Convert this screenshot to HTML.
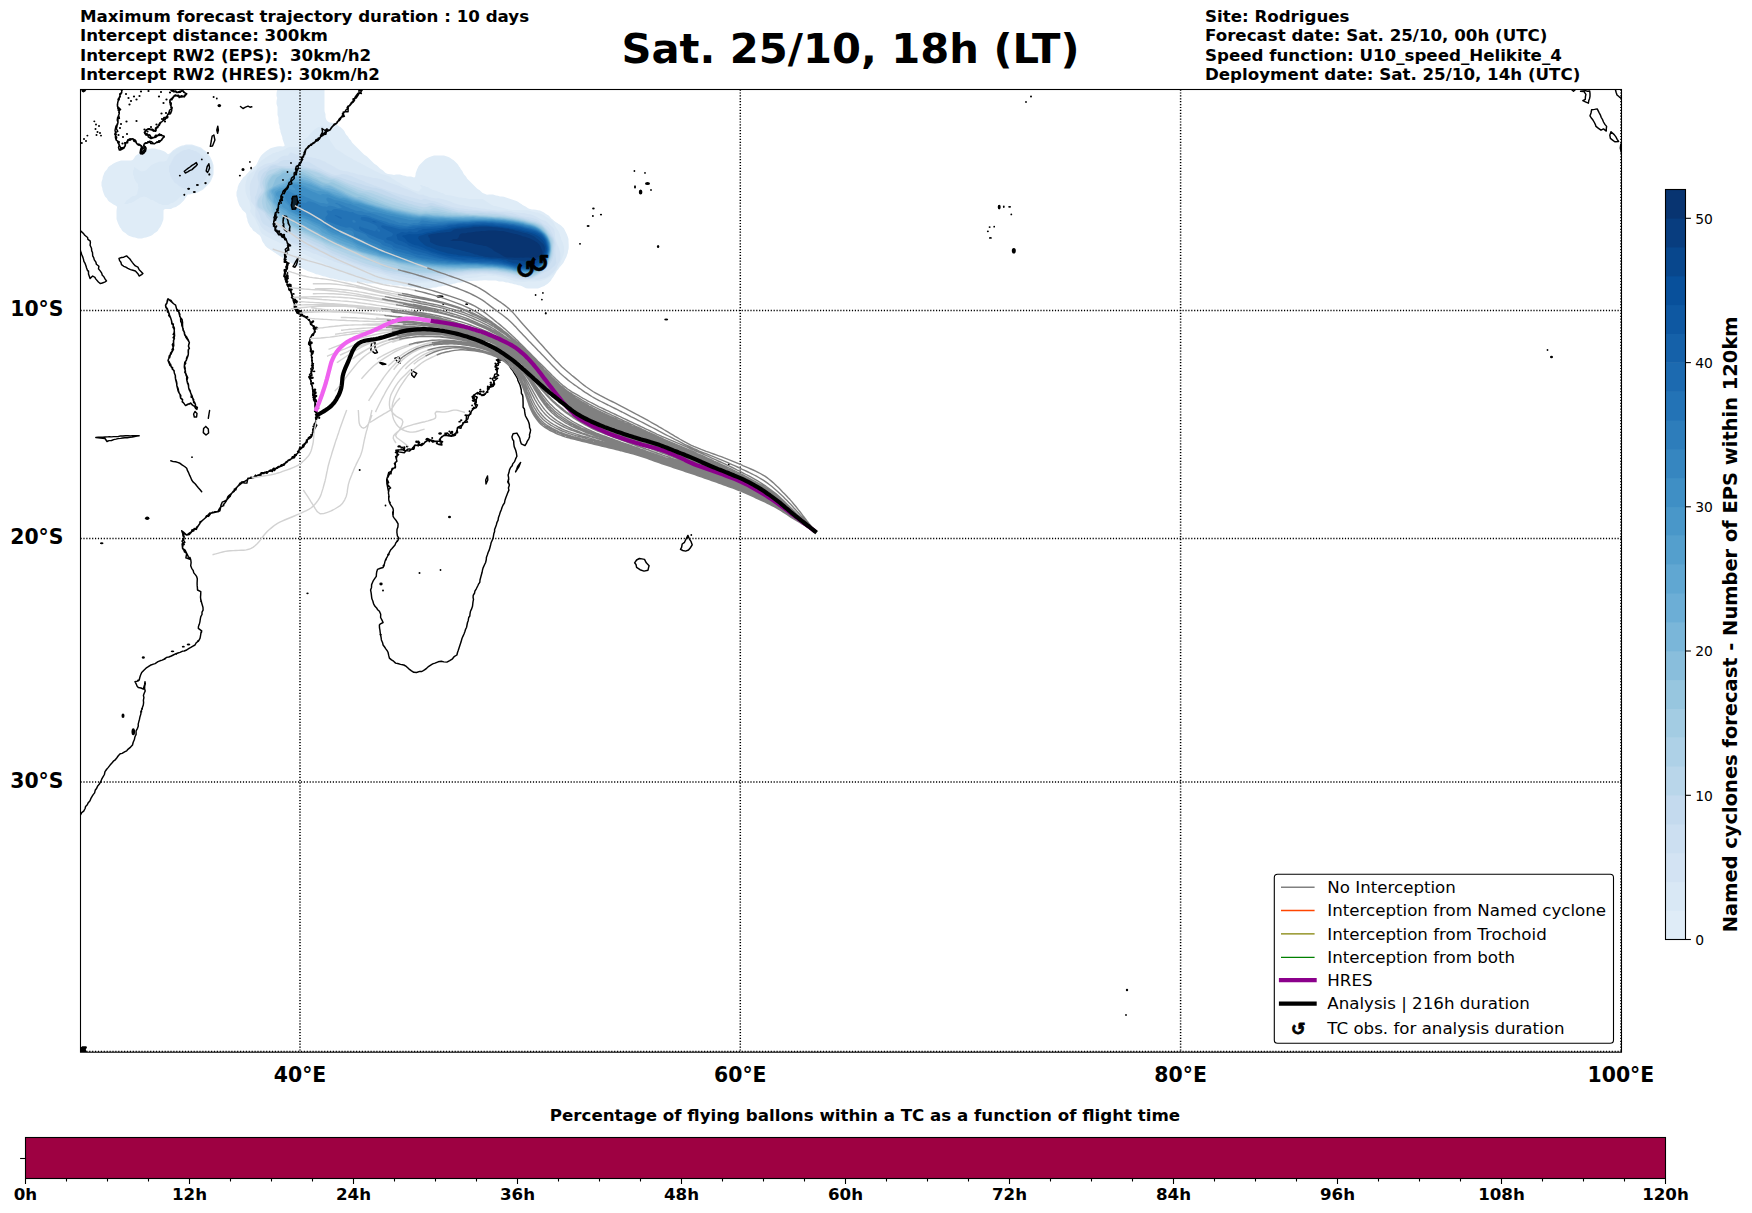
<!DOCTYPE html>
<html lang="en"><head><meta charset="utf-8"><title>Sat. 25/10, 18h (LT)</title>
<style>html,body{margin:0;padding:0;background:#fff}svg{display:block}text{font-family:'DejaVu Sans','Liberation Sans',sans-serif;fill:#000}.b{font-weight:bold}</style></head><body>
<svg width="1752" height="1213" viewBox="0 0 1752 1213">
<rect width="1752" height="1213" fill="#fff"/>
<defs><clipPath id="ax"><rect x="80.5" y="89.5" width="1541.0" height="962.7"/></clipPath></defs>
<g clip-path="url(#ax)">
<g><path d="M299.5,64 301,63.5 302.5,64 304,64.5 306,64.5 307.5,65 309,65.5 310.5,66 312,66.7 313,67.5 314,68.3 315.4,69 316.5,70 317.5,71 318.5,72 319.5,73 320.3,74 321,75.5 321.7,77 322.7,79 323.5,81 324,82.5 324.5,84 324.5,86 324.5,88 324.5,90 324.5,92 324.5,94 324.5,96 324.5,98 324.5,100 324.5,102 324.5,104 324.5,106 324.5,108 324.5,110 324.7,112 325.5,114 325.5,116 325.7,118 326.5,120 327.3,121 328.7,122 330,122.5 332,122.7 334,123.5 335.5,124 337,124.7 338,125.5 339,126.3 340.4,127 341.5,128 342.5,129 343.5,130 344.3,131 345,132.5 345.7,134 346.5,135 347.5,136 348.3,137 349,138.4 350,139.5 351,140.6 351.7,142 352.5,143 353.5,144 354.5,145 355.5,146 356.5,147 357.5,148 358.5,149 359.5,150 360.5,151 361.5,152 362.5,153 363.5,154 364.6,155 366,155.7 367,156.5 368,157.5 369,158.5 370,159.5 371,160.5 372,161.5 373,162.5 374,163.5 375,164.3 376.4,165 377.5,166 378.5,167 379.5,168 380.6,169 382,169.7 383,170.5 384,171.5 385,172.4 386,173.2 388,173.9 390,174.3 392,174.5 394,175 396,174.5 398,174.5 400,174.5 401.5,175 403,175.5 405,175.7 407,176.5 409,176.5 411,176.5 412.5,177 414,177.5 415.1,177 415.5,175 415.7,173 416.5,171 417,169.5 417.7,168 418.7,166 419.5,165 420.5,164 421.5,163 422.5,162 423.5,161 424.5,160 425.6,159 427,158.3 429,157.3 431,156.5 432.5,156 434,155.5 436,155.5 438,155.5 440,155.5 442,155.5 444,155.5 445.5,156 447,156.5 448.5,157 450,157.7 451,158.5 452,159.3 453.4,160 454.5,161 455.5,162 456.5,163 457.5,164 458.3,165 459,166.4 460,167.6 460.7,169 461.5,170 462.3,171 463,172.5 463.7,174 464.5,175 465.5,176 466.3,177 467,178.4 468,179.5 469,180.5 470,181.5 471,182.5 472,183.5 473,184.5 474,185.5 475,186.5 476,187.5 477,188.5 478,189.3 479.4,190 480.5,191 481.5,192 482.7,193 484,193.4 485.2,194 487,194.8 489,194.5 491,194.5 493,194.5 494.5,195 496,195.5 498,195.7 500,196.5 502,196.5 504,196.7 506,197.5 507.5,198 509,198.5 510.5,199 512,199.5 513.5,200 515,200.5 516.5,201 518,201.7 519,202.5 520,203.3 521.4,204 522.6,205 524,205.7 526,206.7 527,207.5 528,208.2 530,208.9 532,209.4 534,209.5 536,209.7 538,210.3 540,210.6 542,211.5 544,212.5 545,213.2 546,213.9 547.7,215 549,215.7 550,216.9 550.9,218 551.9,219 553,219.8 554,220.8 555,221.5 556,222.2 557.4,223 558.6,224 560,224.7 561,225.5 562,226.5 563,227.5 564,228.6 564.7,230 565.7,232 566.7,234 567.5,236 568,237.5 568.5,239 568.5,241 568.6,243 568.7,245 568.7,247 568.6,249 568,251 567.8,253 567,254.9 566.4,257 565.3,259 564.3,261 563.3,263 562.5,264 561.6,265 560.8,266 559.9,267 559.1,268 558.5,269 557.7,270 556.8,271 556,272.6 555.1,274 554,275.7 553.3,277 552.5,278 551.7,279 551,280.4 550,281.5 549,282.5 548,283.5 547,284.3 545.6,285 544.4,286 543,286.5 541.5,287 540,287.7 538,288.5 536,288.5 534,288.5 532,288.5 530,288.5 528,288.5 526,288.3 524,287.3 522,286.3 520,285.5 518,285.3 516,284.5 514,284.3 512,283.5 510,283.3 508,282.5 506,282.5 504.5,282 503,281.5 501,281.5 499,281.5 497.5,281 496,280.5 494,280.5 492,280.5 490,280.5 488,280.5 486,280.3 484,280.3 482,280.5 480,280.5 478,280.7 476,280.7 474,280.8 472,281 470,281 468,281.6 466,281.7 464,281.8 462,282.5 460,282.5 458,282.5 456.5,283 455,283.5 453,283.7 451,284.5 449,284.7 447,285.5 445,285.5 443,285.7 441,286.5 439,286.5 437.5,287 436,287.5 434,287.5 432,287.7 430,288.5 428,288.5 426,288.5 424,288.5 422,288.5 420,288.5 418,288.3 416,287.5 414,287.5 412,287.5 410,287.3 408,286.5 406,286.5 404,286.5 402.5,286 401,285.5 399,285.5 397,285.5 395,285.5 393,285.3 391,284.5 389,284.5 387,284.5 385,284.5 383,284.5 381,284.3 379,283.5 377,283.5 375,283.5 373,283.5 371,283.5 369,283.5 367,283.5 365.5,283 364,282.5 362,282.5 360,282.5 358,282.5 356,282.5 354,282.5 352,282.3 350,281.5 348,281.5 346,281.5 344.5,281 343,280.5 341,280.5 339,280.3 337,279.5 335,279.3 333,278.5 331,278.5 329.5,278 328,277.5 326.5,277 325,276.5 323,276.3 321,275.5 319.5,275 318,274.5 316,274.3 314,273.3 312,272.5 310.5,272 309,271.5 307.5,271 306,270.3 304,269.3 302,268.3 300,267.3 298,266.3 296,265.3 294,264.3 292,263.3 290,262.3 289,261.5 288,260.7 286.6,260 285.4,259 284,258.3 282,257.3 280,256.3 279,255.5 278,254.7 276.6,254 275.4,253 274,252.3 273,251.5 272,250.7 270.6,250 269.4,249 268,248.3 267,247.5 266,246.5 265,245.4 264.3,244 263.5,243 262.7,242 262,240.5 261.5,239 261,237.6 260.1,236 259.2,235 258,234.3 257,233.5 256,232.5 255,231.7 253.6,231 252.7,230 252,228.6 251,227.5 250,226.4 249.3,225 248.3,223 247.5,221 247.3,219 246.5,217 246.4,215 246,213.4 245,212.3 244,211.5 243,210.5 242,209.4 241.3,208 240.5,207 239.7,206 239,204.5 238.5,203 238,201.5 237.5,200 237.3,198 236.5,196 236.5,194 236.5,192 237,190.5 237.5,189 237.7,187 238.5,185 239,183.6 240,182.4 240.7,181 241.5,180 242.3,179 243,177.6 244,176.7 245.1,176 245.9,175 246.7,174 247.8,173 248.6,172 249.5,171 250.5,170 251.5,169 252.5,168 253.6,167 255,166.3 256,165.2 256.7,164 257.7,162 258.6,160 259.6,158 260.9,156 261.7,155 262.7,154 263.9,153 265,152.1 266,151.2 267,150.5 269,149.2 270,148.5 271.3,148 273,147.4 275,147.1 277,146.4 279,146.3 281,146.3 283,146.4 284.6,146 284.3,144 283.5,142 283,140.5 282.5,139 282.3,137 281.5,135 281,133.5 280.5,132 280.3,130 279.5,128 279.5,126 279,124.5 278.5,123 278.5,121 278.5,119 278.3,117 277.5,115 277.5,113 277.5,111 277.5,109 277.5,107 277,105.5 276.5,104 276.5,102 276.7,100 277.3,98 276.5,96 276.5,94 276.7,92 277.3,90 276.5,88 276.7,86 277.5,84 277.5,82 278,80.5 278.7,79 279.7,77 280.7,75 281.5,74 282.3,73 283,71.6 284,70.5 285,69.7 286.4,69 287.6,68 289,67.3 291,66.3 293,65.3 295,64.5 297,64.5 299,64.3 299.5,64ZM184.4,145 186,144.5 188,144.4 190,144.4 192,144.5 193.6,145 195,145.4 196.6,146 198,146.4 199.6,147 201,147.6 202.8,149 203.9,150 205,150.6 206.8,152 207.8,153 208.9,155 209.8,156 210.8,158 211.8,160 212.6,162 213,163.4 213.5,165 213.6,167 213.6,169 213.6,171 213.6,173 213.4,175 212.6,177 212,178.6 211.4,180 210.4,182 209,183.8 208,184.8 207,185.8 206,186.8 205,187.8 204,188.8 203,189.8 201,190.8 199,191.8 197,192.8 195,193.5 193,193.6 191.6,194 190,194.5 188,194.6 187,195.4 186.3,197 185.4,198 184.3,200 183.3,201 182.3,202 181.3,203 180.3,204 179,204.9 177.3,206 176,206.9 174,207.4 172.7,208 171,208.9 169.1,209 167,209 165,209 163.6,210 163.5,212 163.5,214 163.5,216 163.5,218 163.3,220 162.5,222 162,223.5 161.3,225 160.3,227 159.5,228 158.7,229 158,230.4 157,231.5 156,232.3 154.6,233 153.5,234 152.4,235 151,235.7 149,236.5 147.5,237 146,237.5 144,237.7 142,238.5 140,238.5 138,238.5 136.5,238 135,237.5 133,237.3 131,236.5 129.5,236 128,235.3 127,234.5 126,233.5 125,232.7 123.6,232 122.5,231 121.7,230 121,228.6 120,227.4 119.3,226 118.3,224 117.5,222 117,220.5 116.5,219 116.5,217 116.5,215 116.5,213 116.5,211 116.7,209 117.1,207 116.3,206 115,205.3 113,204.3 112,203.5 111,202.7 109.6,202 108.5,201 107.7,200 107,198.6 106,197.5 105,196.4 104.3,195 103.5,193 103,191.5 102.5,190 102.3,188 101.5,186 101.5,184 101.5,182 102,180.5 102.5,179 102.7,177 103.5,175 104,173.5 104.7,172 105.5,171 106.5,170 107.3,169 108,167.6 109,166.5 110,165.7 111.4,165 112.6,164 114,163.3 116,162.3 118,161.5 119.5,161 121,160.5 123,160.5 125,160.5 127,160.5 129,160.5 131,160.6 132.6,160 133.5,159 134.3,158 135,156.6 136,155.5 137,154.7 138.4,154 139.5,153 140.6,152 142,151.3 144,150.5 145.5,150 147,149.5 149,149.3 151,148.5 153,148.5 155,148.5 156.5,149 158,149.5 160,149.7 162,150.5 163.5,151 165,151.7 166,152.5 167,153.5 168,154.2 170,153.2 171,152.2 172,151.2 173,150.2 175,149.1 176,148.2 178,147.2 180,146.2 182,145.5 184,145.2 184.4,145Z" fill="#dfecf7" fill-rule="evenodd"/>
<path d="M321,126 323,126 324,127 325,129 325,131 326,132 327,134 328,136 329,138 330,140 331,142 332,143 333,145 334,146 335,148 336,149 337.5,150 339,150.7 341,151.9 342.6,153 344,154 345,154.8 347,155.9 349,157 350.9,158 352.7,159 354,159.9 356,160.7 357,161.4 359,162.5 360.2,163 362,164 364,165 365.7,166 367,166.7 369,167.8 371,168.8 373,169.8 375,171 377,171.8 379,172.8 381,173.9 383,174.4 385,174.9 387,175.5 388.9,176 390,176.6 391,177.4 392,178.2 393,178.9 394.9,180 396,180.9 397.7,182 399,182.6 401,183.8 402.9,185 404,185.6 406,186.6 408,187.6 410,188.6 412,189.6 414,190.3 416,191 418,191.5 419.2,191 419.8,190 420.6,189 422,188 421,187 420,185 422,185 423,186 425,186 426,187 428,187 429,188 431,189 433,190 435,190.5 437,191 438.5,192 440,192.1 441,192.9 443,193.1 444,193.9 446,194.9 447.3,195 449,195.2 451,195.6 453,196 455,196.4 457,196.9 459,197.4 461,197.6 463,198 465,198 467,198.5 469,199 471,199.1 473,199 475,199 477,199 479,199 481,199 483,199 484,200 486,201 487,202 489,203 490,204 492,205 494,206 496,206 498,206.7 500,207.2 502,207.8 504,208.2 506,208.7 507.2,209 509,209.4 511,209.8 513,210 515,210 517,210 519,210 521,210.2 523,210.3 525,210.3 527,210.3 529,210.6 530.7,211 532,211.4 534,212 536,212.5 538,212.6 540,213.5 541.4,214 543,214.8 545,215.9 546,216.7 548,218 549.5,219 550.9,220 552,220.7 553,221.9 553.8,223 554.7,225 555.6,227 557,229 557.8,230 558.8,232 559.7,234 560,235.4 560.8,237 561,239 562,241 563,243 563.5,245 564,247 564,249 564.2,251 564,252.4 563.8,254 563.1,256 562.4,258 561.6,260 561,261.3 560.3,263 559.7,265 559,266.3 558,267.8 557.3,269 556.5,270 555.7,271 555,272.3 554,273.6 553,274.6 552,275.3 550.9,276 549.7,277 548,277.9 547,278.6 545.8,279 544,279.8 542,280.5 540.2,281 539,281.3 537,281.3 535,281.6 533,281.6 531,281.4 529,281.3 527,281.6 525,281.7 523,281.8 521,281.7 519,281.6 517,281.5 515,281.4 513,280.6 511,280 509,279.1 507,278.6 505.3,278 504,277.7 502,277.2 500,276.7 498,276.4 496.8,276 495,275.8 493,275.9 491,275.7 489,275.6 487,275.5 485,276 483,276 481,276.5 479,276.8 477,277.4 475,277.5 473,277.8 471,278 469,278 467,278 465,278.3 463,278.7 461,278.7 459,278.7 457,279 455,279 453,279.2 451,279.5 449,279.7 447,280.3 445,280.6 443,281 441,281 439,281.5 437,281.6 435,281.7 433.6,282 432,282.3 430,282.3 428,282.4 426,282.6 424,282.8 422,282.8 420,282.9 418.8,283 417,283.1 415,283.1 413,283.1 411,283.1 409,283 407,283 405,282.9 403,282.5 401,282.5 399,282.5 397,282.5 395,282.5 393,282.1 391,281.6 389,281.5 387,281.5 385,281.4 383,280.6 381,280.5 379,280.5 377,280.3 375,279.5 373,279.5 371,279.3 369,278.5 367,278.4 365,277.6 363,277.4 361,276.6 359,276.4 357.5,276 356,275.5 354,275 352,274.5 350.1,274 348,273.2 346,272.5 344.5,272 343,271.5 341,270.7 339.5,270 338,269.5 336,268.6 334.5,268 333,267.3 331.8,267 330,266.3 328,265.3 326,264.6 324.8,264 323,263.1 321,262.1 319,261.3 317,260.3 315,259.5 313,258.6 311,257.6 309,256.5 307.9,256 306,255 304,254 302,253 301,252.2 299,251.2 297,250.1 295,249.5 293,248.2 291,247.9 290,247.1 288,246.5 286,245.7 284.5,245 283,244.2 281,243.4 279,242.5 277,241.5 275,240.6 273.6,240 272,239.2 270,238.2 268,237.2 266,236.2 264,235.1 262.4,234 261.5,233 260.8,232 260,230.3 259.5,229 259,227.1 258,225 257,223.3 256.4,222 256,220.7 255.2,219 254,217.1 253,216 252.2,215 251,213 250.2,212 250.1,210 250.9,209 250.6,207 250.1,205 249.8,203 249.3,201 248.3,199 247.2,197 246.5,195 246,193.1 245.6,192 245.3,190 245.3,188 245.3,186 245.5,184 245.9,182 246.3,180 247,178.1 247.5,177 248.9,175 249.8,174 251,173.1 252,172.3 253,171.5 254,170.7 255.1,170 256,169 256.9,167 257.7,165 259,163.1 260,162.1 261,161.1 262,160.1 264,159 265,158 266.7,157 268,156 270,155 272,154 273,153 275,153 276,152 278,152 280,151 282,150.5 284,149.8 285.3,149 286.7,148 288,147.5 290,147 292,147 294,147 296,147 298,147 299,145 299.8,144 300.5,143 301.2,142 302.4,141 304,140 305,139 306,138 308,137 309,135 310,134 311,133 312,132 313,131 314,130 315,129 317,128 318,127 320,127 321,126ZM184.5,146 186,145.5 188,145.5 190,145.5 192,145.5 193.5,146 195,146.5 196.5,147 198,147.5 199.5,148 201,148.7 202,149.5 203,150.5 204,151.3 205.4,152 206.5,153 207.3,154 208,155.4 209,156.6 209.7,158 210.7,160 211.5,162 212,163.5 212.5,165 212.5,167 212.5,169 212.5,171 212.5,173 212.3,175 211.5,177 211,178.5 210.3,180 209.3,182 208.5,183 207.5,184 206.5,185 205.5,186 204.5,187 203.5,188 202.4,189 201,189.7 199,190.7 197,191.7 195,192.5 193,192.5 191.5,193 190,193.5 188,193.5 186,194 185,194.7 183.8,195 182,196 180,197 179,198 178,199 177,200 176,201 174,202 173,203 171,203 170,204 168,205 166,205 164,205 162,205 161,204 159,204 158,203 156,202 154,201 153,200 151,200 149.7,199 148,198 146,197.1 144,196.6 142,196.9 140,197.5 138,199 136,200 135,201 133,202 131,203 129,203 128,204 126,204 124,204 125,203 126,201 127,200 129,199 130,198 131,197 133,196 135,196 136,195 137.1,194 137.5,192 137.8,190 138.4,188 138,186 138,184 137,183 136,182 135,180 134,178 134,176 133,175 133,173 133,171 134,169 134,167 136,168 137,169 139,170 140,171 142,171.4 143.9,171 146,170.4 147,169.5 148,168.5 149,167.5 150,166.5 151,165.5 152,164.7 153.5,164 155,163.3 157,162.5 158.5,162 160,161.5 162,161.5 164,161.5 166,161 166.9,160 167.9,158 168.9,156 170,154.5 171,153.5 172,152.5 173,151.5 174,150.7 175.4,150 176.6,149 178,148.3 180,147.3 182,146.5 184,146.3 184.5,146Z" fill="#d9e8f5" fill-rule="evenodd"/>
<path d="M188,149 190,149 191,150 193,150 194,151 196,151 197,152 199,153 200,154 201,155 203,156 204,157 205,159 206,160 207,162 208,164 208,166 209,167 209,169 209,171 208,173 208,175 207,176 206,178 205,180 204,181 203,182 202,183 201,184 200,185 199,186 197,187 195,188 193,189 191,189 189,189 187,189 185,189 184,188 182,188 181,187 179,186 178,185 177,184 175,183 174,182 173,180 172,179 171,177 170,175 170,173 169,172 169,170 169,168 169,166 170,165 171,163 172,161 173,159 174,157 175,156 176,155 177,154 179,153 180,152 182,151 184,150 186,150 188,149ZM289.5,153 291,152.5 293,153.2 295,153.9 297,154.8 299,155.6 300,156.3 301.5,157 303,157.4 305,157 307,156.9 308.7,157 310,157.2 312,157.6 314,157.9 315.5,158 317,158.9 319,159 321,160 323,161 325,161.5 327,163 329,164 331,165 332,165.7 334,166.5 336,167.9 338,168.9 340,169.9 342,170.4 344,170.9 346,171.2 348,171.6 349.4,172 351,172.4 353,172.8 355,173.3 356.5,174 358,174.5 360,174.8 361.5,175 363,175.2 365,176 367,176.4 369,176.8 371,177.2 373,178 375,178 377,178.3 379,178.8 380.5,179 382,179.5 384,180.3 385.5,181 387,181.7 389,182.5 390.4,183 392,183.5 394,184.2 396,184.8 398,185.5 399.3,186 401,186.9 403,187.7 405,188.4 407,189 408.9,190 411,190.8 413,191.8 415,192.5 417,193.6 419,194.4 421,194.8 423,194.6 425,195.5 426.9,196 429,197 431,197.4 432.8,198 434,198.1 436,198.4 438,198.3 440,198.5 442,198.9 444,199.4 446,199.9 448,200.8 450,201.3 451.5,202 453,202.8 455,203.5 456.7,204 458,204.2 460,205 462,205.3 464,205.4 465.3,206 467,206.3 469,206.4 471,206.9 473,207.3 475,207.3 477,207.7 479,208 481,208.4 483,208.6 485,208.8 487,209.2 489,209.3 491,209.7 493,210 495,210.1 497,210.4 499,210.5 501,210.5 503,210.7 505,210.6 507,210.6 509,210.9 511,211.3 513,211.7 515,212.2 517,212.4 519,212.5 521,212.9 523,213.1 525,213.3 527,213.9 529,214.2 531,214.5 533,215 534.6,216 536,216.6 538,217.7 540,218.7 542,219.7 544,220.4 545.7,221 547,222 548,223 549,223.9 550,224.9 551,225.9 552,226.6 553,227.8 554,228.9 554.5,231 554.9,233 555,235 555.1,237 555.5,239 556,240.5 556.6,242 557,243.5 557.5,245 558.5,247 559,248.1 559.5,250 560,251.7 560.3,253 560.4,255 560.4,257 560.4,259 560,260.7 559.3,262 558.2,264 557.3,266 556.5,268 555.1,270 554.3,271 553.4,272 552.4,273 551.2,274 550,274.9 549,275.7 547.2,277 546,277.5 544.8,278 543,278.6 541.1,279 539,279.6 537,279.7 535,279.5 533,279.5 531,279.6 529,279.9 527,280 525,280.1 523,280.2 521.2,280 520,279.8 518,279.3 516.3,279 515,278.5 513,278.2 511,277.5 509,277.2 507,276.7 505,276.3 503,276 501,275.4 499,275.3 497.2,275 496,274.8 494,274.7 492,274.3 490.2,274 489,273.9 487,273.8 485,273.9 483,273.7 481,273.7 479,274 477,274.3 475,274.4 473,274.4 471,274.6 469,274.8 467,275 465,275.2 463,275.7 461,275.9 459,276 457,276.4 455,276.6 453,276.8 451,277.2 449,277.5 447.1,278 445,278.3 443,278.9 441,279.2 439,279.8 437,280.1 435,280.3 433,280.7 431,281 429,281.1 427,281.2 425,281.2 423,281.3 421,281.3 419,281.4 417,281.4 415,281.4 413,281.4 411,281.3 409.1,281 407,280.8 405,280.5 403,280.1 401.1,280 399,279.9 397,279.3 395.5,279 394,278.5 392.7,278 391,277.5 389,276.6 387.5,276 386,275.2 384,274.8 382,274.1 380,273.6 378,273.2 376.8,273 375,272.7 373,272.4 371,272 369,271.5 367.7,271 366,270.6 364,270.2 362.6,270 361,269.2 359.3,269 358,268.8 356,268.2 354,267.9 352,267 350,266.8 349,266 347,266 345,265 343,264.7 342,264 340,263.7 339,263 337,262.7 336,262 334,261.7 333,261 331,260 329,259.7 327.5,259 326,258 324,257.8 323,257 321,256.4 319,255.6 317.8,255 316,254.1 314,253.8 312.1,253 310,252 308,251.1 306,250.5 304,249.5 302.7,249 301,248.2 299,247.3 297,246.3 295,245.5 293,244.6 291,243.2 289.1,242 288,241.3 286,240.2 284,239.3 282,238.4 280,237.4 278,236.6 276.4,236 275,235.4 273,234.5 271,233.6 269.5,233 268,232.3 267,231.6 266,231 264.5,230 263.4,229 262.4,228 261.5,227 260.8,226 260,224.3 259.5,223 258.3,221 257.1,219 256,217 255.4,215 255.4,213 255.3,211 255.3,209 255,207.4 254.4,206 253.7,205 252.8,204 252,202.8 251,201.4 250.6,200 250.6,198 250.5,196 250,194 250,192.5 250,191 249.7,189 249.8,187 250,185 250.5,183 251,181.3 251.6,180 252.6,178 253.6,176 254.5,174 255.4,172 256.7,170 257.5,169 258.4,168 260,167 261.8,166 263,165.3 265,164.1 267,163.6 269,163.3 270.5,163 272,162.4 273.2,162 275,161.2 276.9,160 278,159.2 279.4,158 280.9,157 282,156.3 284,155.7 286,155.5 288,155.7 289,154 289.5,153Z" fill="#d3e3f3" fill-rule="evenodd"/>
<path d="M291,160 293,159.8 295,160.5 297,161.4 299,161.7 301,161.5 303,161.5 304.5,162 305.8,162 308,161.7 309.3,162 310.6,163 312,163.7 313,164.4 315,165.6 316,166.3 317.5,167 319,167.7 321,168.7 322,169.3 323.1,170 325,170.9 327,171.9 329,172.7 331,173.7 333,174.6 334.6,175 336,175.2 337.9,175 340,174.5 342,174 344,174.2 346,174.6 347.9,175 349,175.5 350.7,176 352,176.2 353.5,177 355,177.8 357,178.5 358.2,179 360,179.8 362,180.5 364,181.2 365.5,182 367,182.7 369,183.5 370.1,184 372,184.6 374,185.4 375.7,186 377,186.4 378.2,187 380,187.6 382,188.2 383.8,189 385,189.3 386.5,190 388,190.4 389.2,191 391,191.5 393,192.3 395,192.6 397,193.5 399,194 401,194.5 403,195 405,195.7 406.2,196 408,196.3 410,197 412,197.5 414,198 416,198.5 418,199 420,199.7 422,199.9 423,199.1 425,198.7 427,199.5 429,200 431,200.8 433,200.9 435,201.2 437,202 439,202.7 441,203.3 442.5,204 444,204.5 445.2,205 447,205.4 449,205.9 451,206.7 453,207.2 455,207.5 457,208 459,208.3 461,208.5 463,208.5 465,208.9 467,209.1 469,209.4 471,209.6 473,209.9 475,210 476.3,210 478,210.2 480,210.5 482,210.7 484,210.9 486,211.1 488,211.1 489.8,211 491,211 493,211.2 495,211.4 497,211.7 499,211.9 501,212 503,212.1 505,212.2 507,212.5 509,212.8 510.7,213 512,213.1 514,213.7 516,214.3 518,214.9 520,215.6 522,216.2 524,216.6 526,216.9 528,217.1 530,217.6 532,217.7 534,218.6 535.7,219 537,219.4 538.2,220 539.6,221 540.7,222 541.9,223 543,223.7 544,224.5 546,225.5 548,226.7 549,227.8 549.9,229 551,231 552,232.9 552.6,234 553.4,236 554,237.5 554.5,239 554.9,241 555.7,243 555.8,245 555.5,247 555.3,249 555.5,251 555.3,253 555.6,255 555.7,257 556,259 556.2,261 556.3,263 555.1,265 554.3,266 553,267 552,268 551,269 549.6,270 548,270.9 546,271.7 544,272.6 542,273.6 540,274.8 539,275.6 537,276.8 535,277.6 533,278.4 531,278.8 529.8,279 528,279.1 526.6,279 525,278.9 523,278.9 521,278.7 519,278.2 517.6,278 516,277.4 514,277.1 512,276.4 510,276.1 508.8,276 507,275.5 505,275.2 503.3,275 502,274.5 500,274.4 498,274.3 496.4,274 495,273.8 493,273.6 491,273.3 489,273.2 487,273.1 485,273.1 483,272.8 481,272.7 479,273 477,273.3 475,273.3 473,273.3 471,273.4 469,273.5 467,273.9 465.7,274 464,274.3 462,274.6 460,274.8 458,275 456,275.3 454,275.6 452,275.9 450,276.2 448,276.5 446,277 444,277.4 442,277.9 440.8,278 439,278.3 437,278.5 435,278.8 433,279.2 431,279.3 429,279.3 427,279.4 425,279.4 423,279.5 421,279.5 419,279.4 417,279.1 415.1,279 413,278.9 411,278.1 409,278 407,278 405,277.3 403,277 401,276.6 399,276.4 397,275.7 395,275.6 393,275.3 391,274.8 389,274.4 387.6,274 386,273.7 384.2,273 383,272.6 381,272 379,271.5 377.5,271 376,270.5 374,270.2 372,269.5 370.5,269 369,268.5 367,268.1 365,267.3 363,266.5 361,266.1 359,265.3 357,264.6 355,264.1 353,263.3 351,262.5 349.3,262 348,261.6 346.5,261 345,260.3 343,259.6 341.2,259 340,258.6 338.3,258 337,257.6 335.5,257 334,256.4 332,256.1 330,255.3 328,254.3 326,254 324,253.2 322,252.5 320,252 318,251.3 316,250.5 314.1,250 312,249.3 310,248.5 308.5,248 307,247.5 305.5,247 304,246.4 302,245.6 300,245 298,244.3 296,243.5 294.5,243 293,242.4 291,241.4 289.8,241 288.1,240 287,239.1 286,238.3 285,237.6 284,236.5 283,235.5 282,234.1 281,233.2 279,232.3 277,231.5 275,230.4 273,229.2 271,228.1 269,227.3 267,226.1 265,225 264,224.3 263,223.6 262,222 261,220 260.4,218 260.1,216 259.1,214 258.5,212 257,210.1 256.2,208 255.5,206 255.4,204 255.5,202 255.4,200 254.7,198 255,196.7 256,195.1 256.8,193 257.2,191 257.6,189 258.2,187 258.5,185 258.7,183 258.3,181 258,179.8 257.6,178 257.5,176 258,174.3 258.4,173 259,171.5 260,170.8 261.3,170 262.9,169 264,168.1 266,167.2 268,166.3 269,165.6 270.1,165 272,164.2 274,163.7 276,163.4 278,163.2 279,162.5 280,161.5 282,160.5 284,160 286,160 288,160 290,160.1 291,160Z" fill="#ccdff1" fill-rule="evenodd"/>
<path d="M295.7,164 297,163.2 299,163.5 300.2,164 302,164.9 304,165.9 306,166.8 308,167.5 309.5,168 311,168.4 313,168.4 315,168.8 317,169.5 318.5,170 320,170.5 322,171.5 324,172.4 325.7,173 327,173.8 329,174.7 331,175.6 333,176.3 335,176.5 337,176.6 339,176.9 341,177.5 343,178.4 345,179 347,179.8 349,180.3 351,181 353,181.8 355,182.1 357,182.9 359,183.4 361,184 363,184.8 365,185.5 366.9,186 369,186.6 370.5,187 372,187.4 374,187.7 376,187.8 378,188.5 380,188.9 382,189.6 384,190.5 385.5,191 387,191.7 389,192.6 391,193.6 393,194.5 394.4,195 396,195.8 398,196.4 399.5,197 401,197.7 403,198.5 404.6,199 406,199.5 408,200 410,200.8 412,201.1 414,201.8 416,202.2 418,202.8 420,203.1 422,203.5 423.8,204 426,204.1 428,203.4 430,203.1 432,202.9 434,203.6 435.2,204 437,204.8 439,205.3 441,205.8 443,206.3 445,206.8 447,207.3 449,207.8 451,208.6 453,208.8 455,209.4 457,209.9 459,210.4 461,210.5 463,210.8 465,211 467,211.2 469,211.3 471,211.3 473,211.2 475,211.2 477,211.3 479,211.6 481,211.7 483,212 485,212.3 487,212.4 489,212.3 491,212.4 493,212.5 495,212.6 497,212.8 499,213.2 501,213.5 503,213.6 504.8,214 506,214.4 508,214.7 509.7,215 511,215.4 513,215.7 515,215.8 517,216.2 519,216.7 521,217.3 523,217.6 524.4,218 526,218.4 528,218.7 530,219.4 532,219.9 534,220.4 535.9,221 538,221.8 540,223 541.7,224 542.9,225 543.9,226 544.9,227 545.9,228 546.9,229 547.8,230 548.6,231 549.3,232 550,233.1 550.8,234 552,236 552.7,237 553.7,239 554.1,241 554.5,243 554.4,245 554.2,247 554,249 553.8,251 553.6,253 553.5,255 553.1,257 552.5,259 551.6,261 551,262.1 550,263.7 549.2,265 548.5,266 547.4,267 546.5,268 545.8,269 545,270 544,270.8 543,271.5 542,272.3 540.9,273 539.3,274 538,274.9 537,275.5 535,276.6 533,277.6 531.5,278 530,278.2 528,278.3 526,278 524,277.8 522,277.6 520,277 518,276.7 516.1,276 514,275.6 512.1,275 510,274.6 508,274.3 506.3,274 505,273.7 503,273.4 501,273.2 499,273 497,272.9 495,272.6 493,272.4 491,272.3 489,272.2 487,272.1 485,272.1 483,271.9 481,271.9 479.7,272 478,272.2 476,272.3 474,272.2 472,272.2 470,272.3 468,272.4 466,272.6 464,272.8 462,273.2 460,273.3 458,273.5 456,273.6 454,274 452,274.1 450,274.6 448,274.9 446,275 444,275.3 442,276 440,276 438,276 436,276.1 434,276.3 432,276.5 430,276.5 428,276.5 426,276.7 424,276.6 422,276.5 420,276.1 418,276.1 416,276.1 414.4,276 413,275.7 411,275.3 409,275.2 407,275.1 405.5,275 404,274.8 402,274.6 400,274.1 398.6,274 397,273.8 395,273.7 393,273.4 391,273 389,272.6 387,272.3 385.7,272 384,271.4 382,270.6 380.7,270 379,269.4 377.6,269 376,268.8 374,268.3 372.8,268 371,267.4 369.6,267 368,266.8 366,266.2 364,265.5 362.5,265 361,264.6 359.2,264 358,263.5 356.5,263 355,262.6 353.2,262 352,261.5 350.7,261 349,260.4 347.8,260 346,259.1 344,258.3 342,257.6 340.7,257 339,256.1 337,255.3 335,254.6 333.8,254 332,253.2 330,252.2 328,251 327,250.4 325,249.5 323.5,249 322,248.3 320,247.3 318,246.4 316,245.4 314,244.5 312,243.6 310.8,243 309,242 307,241.4 305,240.4 303,239.4 301,238.6 299.9,238 298,237 296,236.1 294,235.5 293,234.7 291.3,234 290,233.6 288.9,233 287,232.1 285,231.2 284,230.5 283,229.7 282,229 281,228.3 279,227.2 277,226.4 275,225.4 273.1,224 272,223.2 271,222.3 270,221 269.2,220 268.3,219 267.2,218 266.5,217 265.5,215 265,213.5 264,212.4 263,211.7 262,210.9 260.5,210 259.2,209 258,208.2 257,207.1 256.5,206 256.4,204 256.8,202 257.2,200 257.8,198 258.6,196 259.5,194 260.4,193 261,191.9 261.7,190 261,188.5 260.4,187 260.1,185 260.2,183 260.5,181 260.6,179 261,177 262,175 263,173.6 264,172.3 265,171.5 267,170.2 267.9,169 268.9,168 269.9,167 271,166.1 273,165.5 275,165.1 277,165.4 279,166 280.8,166 283,166.3 285,166.3 287,166.3 289,166.3 291,166.3 293,166 295,165.3 295.7,164Z" fill="#c4daee" fill-rule="evenodd"/>
<path d="M295.8,167 297,166.4 299,166.5 300.5,167 302,167.6 304,167.9 306,168.3 308,168.6 309.6,169 311,169.5 313,169.9 315,170.5 316.2,171 318,171.7 320,172.4 321,173.1 323,173.8 325,174.8 327,175.7 329,176.7 331,177.5 333,177.8 335,177.9 337,178.4 338.5,179 340,179.7 342,180.6 344,181.6 346,182.4 347.4,183 349,183.7 351,184.4 352.2,185 354,185.5 356,186.4 357.2,187 359,187.5 361,188.3 363,189 365,189.7 366.7,190 368,190 369.2,190 371,190.2 373,190.8 375,191.4 376.5,192 378,192.6 380,193.4 381.9,194 384,194.9 386,195.8 388,196.5 389.5,197 391,197.4 392.5,198 394,198.6 395.4,199 397,199.8 399,200.5 400.6,201 402,201.3 404,202 406,202.6 407.3,203 409,203.8 411,204.1 413,204.8 415,205.4 417,205.8 419,206.5 421,206.7 423,207.3 425,207.2 426.8,207 429,206.2 431,205.5 432.9,206 435,206.4 437,206.6 439,206.9 441,207.4 443,207.8 445,208.6 446.9,209 449,209.7 451,210.3 453,210.9 455,211.2 457,211.7 459,211.9 461,212.1 463,212.4 465,212.8 467,213 469,213.1 471,213.3 473,213.2 475,213.2 477,213.3 479,213.1 481,213.1 483,213.3 485,213.6 487,213.7 489,213.6 491,213.7 493,213.9 495,214 497,214.3 499,214.6 501,214.8 503,214.9 505,215.3 507,215.7 508.7,216 510,216.2 512,216.6 514,216.9 515.8,217 517,217.3 519,217.8 521,218.2 523,218.6 524.2,219 526,219.6 527.4,220 529,220.4 530.8,221 532,221.2 534,221.8 536,222.3 537.4,223 539,223.6 541,224.6 542.8,226 543.8,227 544.8,228 545.7,229 546.6,230 547.4,231 548.1,232 549,233.5 550,234.7 550.8,236 551.5,237 552.2,238 553,239.4 553.3,241 553.4,243 553.1,245 553.1,247 553,248.4 552.8,250 552.6,252 552.6,254 552.1,256 551.5,258 550.7,260 550,261.3 549.1,263 548,264.8 547.2,266 546.2,267 545.4,268 544.6,269 543.6,270 542.3,271 541.1,272 540,272.7 538.1,274 537,274.7 535,275.8 533,276.8 531,277.4 529,277.6 527,277.4 525,277 523,276.8 521,276.4 519.7,276 518,275.6 516,275 514,274.5 512.1,274 510,273.6 508,273.2 506,272.8 504,272.5 502,272.2 500.3,272 499,271.8 497,271.5 495,271.3 493,271.2 491,271.2 489,271.2 487,271.1 485,271 483,271 481,271 479,271.1 477,271.1 475,271.2 473,271.1 471,271.2 469,271.3 467,271.3 465,271.5 463,271.8 461,272 459,272.1 457,272.3 455,272.3 453,272.5 451,272.7 449.2,273 448,273.1 446,273.3 444,273.4 442,273.8 440,273.9 438,274.3 436,274.3 434,274.3 432,274.5 430,274.5 428,274.5 426,274.7 424,274.6 422,274.5 420,274.5 418,274.5 416,274.5 414,274.4 412.3,274 411,273.8 409,273.7 407,273.4 405,273.2 403,272.8 401,272.7 399,272.3 397.7,272 396,271.8 394,271.7 392,271.1 390,270.9 388,270.7 386,270.1 384,269.8 382,269.2 380,268.1 378,267.3 376.3,267 375,266.5 373,266.2 371,265.3 369.6,265 368,264.6 366.3,264 365,263.6 363.3,263 362,262.4 360.7,262 359,261.4 357,260.6 355.4,260 354,259.4 352.7,259 351,258.2 349,257.5 347.8,257 346,256.1 344,255.3 342,254.8 340.7,254 339,253.5 337.6,253 336,252.2 334,251.5 332.6,251 331,250.3 329,249.3 327,248.2 326,247.5 324,246 323,245.4 321,244.5 319.6,244 318,243.2 316,242.4 314.8,242 313,241.3 311,240.2 309,239.4 307.7,239 306,238.2 304,237.2 302,236.4 300,235.7 298.6,235 297,234.4 295,233.5 293.7,233 292,232.3 290,231.4 288,230.6 286.7,230 285,229.4 284,228.7 282.9,228 282.2,227 281,225.1 279.1,224 278,223.1 277,222.4 276,221.6 275,220.9 274,220 273,219.2 271,218 270,217.4 269,216.6 268,215.5 267,214.5 266.1,213 265.3,212 264.3,211 263,210 261.2,209 260,208.2 259,207.4 258,206.3 257.5,205 257.5,203 257.9,201 258.6,199 260,197 260.7,196 261.5,195 262.2,194 263,192.7 263.7,191 263.8,189 263.3,187 263,185.5 262.4,184 262.5,182 263,180.6 263.5,179 264,177.8 265,176.3 265.7,175 266.5,173 267.3,172 268.7,171 270,170.1 272,169.6 274,169.1 276,168.2 278,168.2 280,167.5 282,167.5 284,167.6 286,167.9 288,168.1 289.9,168 292,168.1 294,167.7 295.8,167Z" fill="#b9d6ea" fill-rule="evenodd"/>
<path d="M280.1,169 282,168.6 284,168.7 286,168.9 288,169.1 290,169.2 292,169.4 294,169.3 296,169.1 298,169.3 300,169.3 302,169.2 304,169.3 306,169.5 307.9,170 310,170.6 311.8,171 313,171.6 315,171.9 317,172.6 318.3,173 320,173.8 322,174.8 324,175.7 326,176.7 328,177.6 330,178.5 332,179 334,179.1 336,179.9 338,180.7 340,181.7 342,182.6 344,183.6 345.2,184 347,184.8 349,185.7 351,186.7 353,187.6 355,188.3 356.5,189 358,189.7 360,190.3 362,191 364,191.4 366,191.5 368,192 370,192.8 372,193.3 373.7,194 375,194.5 376.3,195 378,195.5 379.3,196 381,196.8 383,197.5 385,198.4 386.5,199 388,199.5 389.5,200 391,200.6 393,201.4 395,202 397,202.8 398.3,203 400,203.5 401.2,204 403,204.4 404.6,205 406,205.4 407.7,206 409,206.4 411,206.8 413,207.6 415,207.9 417,208.5 418.8,209 420,209.2 422,209.8 424,209.6 426,209.4 428,209.6 430,209.4 432,208.5 434,208.3 436,208.4 438,209 440,209.6 442,210 444,210.5 446,210.9 448,211.4 450,211.7 452,212.4 454,212.5 456,212.6 458,212.9 460,213.1 462,213.3 464,213.5 466,213.9 468,214 470,214.3 472,214.4 474,214.4 476,214.5 478,214.7 480,214.7 482,214.8 483.5,215 485,215.1 487,215.1 489,215.2 491,215.3 493,215.5 495,215.6 497,215.7 499,215.7 501,216 503,216.1 505,216.3 507,216.6 509,216.9 511,217.2 513,217.6 515,217.8 517,218.2 519,218.6 520.9,219 523,219.5 524.6,220 526,220.4 527.9,221 530,221.6 531.8,222 533,222.3 535,222.8 537,223.7 539,224.5 541,225.6 543,227 544,228 544.9,229 545.7,230 546.5,231 547.7,233 548.4,234 549.2,235 550,236.2 551,237.8 551.7,239 552.4,241 552.5,243 552.5,245 552.4,247 552.2,249 552,250.7 551.9,252 551.8,254 551.3,256 550.7,258 550,259.7 549.4,261 548.3,263 547.1,265 546.3,266 545.4,267 544.4,268 543.5,269 542.3,270 541.1,271 540,271.9 539,272.6 538,273.3 537,274 535.1,275 534,275.6 532,276.3 530,276.8 528,276.7 526,276.4 524,276.1 522.8,276 521,275.6 519,275.2 517,274.5 515,274 513,273.5 511,273 509,272.7 507,272.2 505,271.9 503,271.7 501,271.4 499,271 497,270.7 495,270.6 493,270.5 491,270.4 489,270.4 487,270.3 485,270.2 483,270.2 481,270.2 479,270.2 477,270.3 475,270.4 473,270.3 471,270.4 469,270.5 467,270.6 465,270.7 463.3,271 462,271.2 460,271.3 458,271.4 456,271.5 454,271.6 452,271.6 450,271.9 448.5,272 447,272.1 445,272.2 443,272.5 441,272.5 439,272.6 437.5,273 436,273.1 434.7,273 433,273 431,273 429,273 427,273 425,273 423,273 421,273 419,273 417,272.8 415,272.7 413,272.3 411,272.2 409,272 407,271.5 405,271.2 403.6,271 402,270.7 400,270.3 398.2,270 397,269.9 395,269.5 393,269.3 391.7,269 390,268.5 388,268.3 386.7,268 385,267.5 383.5,267 382,266.5 380,265 379,264.3 377,263.5 375.1,263 373,262.1 371,261.9 369,261.1 367,260.7 365,260 363,259.5 361.6,259 360,258.4 358,257.6 356,257.1 354,256.3 352,255.7 350.2,255 349,254.5 347.5,254 346,253.3 344,252.6 342.8,252 341,251.2 339,250.5 337.7,250 336,249.2 334,248.5 332,247.6 330.5,247 329,246.3 327,245.4 325,244.6 323,243.1 321,242.2 319,241.4 317,240.6 315.9,240 314,239.1 312,238.1 310,237.5 308,236.5 306,235.6 304.8,235 303,234.1 301,233.1 299,232.2 297,231.4 295,230.5 293,229.5 291,228.6 290,227.9 288,227.1 286.1,226 285,225.4 283.1,224 282.2,223 281,222.3 280,221.6 279,220.8 278,220.1 276.2,219 275,218.3 274,217.4 273,216.6 272,215.8 271,215.1 269,214.1 267.5,213 266.7,212 265.7,211 264.9,210 264.1,209 263.3,208 262.8,206 262.2,204 262,202.4 261.8,201 262,199.8 262.4,198 263,196 263.5,194 264.4,192 264.9,190 264.8,188 264.7,186 264.9,184 265,182.7 265.1,181 265.7,179 266.9,177 268,175.4 270,174.2 272,173.4 274,172.5 276,171.2 278,170.3 280,169 280.1,169Z" fill="#aed1e7" fill-rule="evenodd"/>
<path d="M281.8,170 283,169.8 285,169.8 287,170 289,170.3 291,170.6 293,170.9 294.8,171 296,171.2 298,171.1 300,170.5 302,170.4 304,170.6 305.8,171 307,171.4 308.3,172 310,173 311.8,174 313,174.6 315,175.9 317,176.7 319,177.2 321,176.9 323,177.6 325,178.7 327,179.6 329,179.9 331,179.9 333,180.3 335,180.9 337,182 339,183 341,184 343,185 345,185.9 347,186.9 349,187.9 351,188.8 353,189.8 355,190.8 357,191.8 359,192.7 361,193.1 363,193.3 365,193.8 367,194.7 369,195.6 371,196.4 372.5,197 374,197.5 375.5,198 377,198.8 379,199.7 381,200.4 382.2,201 384,201.7 386,202.4 387.9,203 390,203.9 392,204.6 393.7,205 395,205.3 397,205.9 399,206.6 401,207 403,207.5 405,208 407,208.3 409,208.7 410.3,209 412,209.7 414,210 416,210.2 418,211 420,211.4 422,211.5 424,211.2 426,211.1 428,211.4 430,211.4 432,211.3 433.9,211 436,211.2 438,211.3 440,211.6 442,211.9 444,212.1 446,212.6 448,213 450,212.9 452,213.4 454,213.5 456,213.6 458,213.8 460,214.2 462,214.4 464,214.4 466,214.6 468,214.6 470,215 471.9,215 473.4,215 475,215.1 477,215.3 479,215.4 481,215.4 483,215.6 485,215.8 487,215.8 488.4,216 490,216.1 492,216.2 494,216.4 496,216.5 498,216.5 500,216.6 502,216.9 504,217.1 506,217.3 508,217.4 510,217.8 511.5,218 513,218.2 515,218.5 516.7,219 518,219.2 520,219.5 521.6,220 523,220.3 525,220.7 527,221.3 529,221.9 531,222.4 533,223 535,223.5 536.2,224 538,224.7 540,225.8 542,226.9 543,227.8 544,228.9 544.9,230 545.6,231 546.4,232 547,233.2 548,234.6 549,236 549.7,237 550.6,239 551,240.3 551.5,242 551.8,244 551.9,246 551.7,248 551.7,250 551.5,252 551.2,254 550.7,256 550.1,258 549.3,260 548.2,262 547,264 546.3,265 545.6,266 544.7,267 543.5,268 542.4,269 541.2,270 540.1,271 539,271.9 537.3,273 536,273.7 534,274.6 532,275.2 530,275.8 528,275.9 526,275.6 524,275.4 522,275.2 520,274.7 518,274.1 516,273.6 514,273.1 512,272.6 510,272.2 508.7,272 507,271.6 505,271.3 503,271.1 501,270.7 499,270.5 497,270.1 495.4,270 494,270 492,269.8 490,269.8 488,269.6 486,269.5 484,269.5 482,269.6 480,269.6 478,269.6 476,269.7 474,269.6 472,269.7 470,269.8 468,269.9 466,270 464,270.2 462,270.4 460,270.6 458,270.6 456,270.7 454,270.8 452,270.8 450,270.8 448,270.9 446,270.9 444.7,271 443,271.2 441,271.2 439,271.2 437,271.4 435,271.2 433,271.3 431,271.4 429,271.4 427,271.4 425,271.4 423,271.4 421,271.4 419,271.1 417,270.8 415,270.7 413,270.6 411,270.3 409,270.2 407,269.8 405,269.2 403,268.5 401.2,268 400,267.2 398,266.2 396,265.6 394,265.2 392,264.8 390,264.3 388,264 386,263.4 384,263.1 382,262.6 380.3,262 379,261.3 378,260.4 376,259.9 374,259.2 372,258.7 370,258.3 368,257.6 366.4,257 365,256.5 363.3,256 362,255.4 360,254.6 358.6,254 357,253.7 355.2,253 354,252.7 352.4,252 351,251.7 349,251.1 347,250.5 345.2,250 344,249.7 342.1,249 340,248.5 338.8,248 337,247.6 335.3,247 334,246.5 332.7,246 331,245.5 329.7,245 328,244.3 326,243.6 324.6,243 323,242.1 321,241 319,240 317,239.2 315,238.3 313,237.4 311,236.5 309.7,236 308,235.2 306,234.2 304,233.3 302,232.3 300,231.3 298,230.4 296,229.3 294,228.5 292.9,228 291,227 289,226 287.1,225 286,224.3 285,223.7 284,222.9 283.2,222 282,221.1 280.3,220 279,219 278,218.3 276,217.1 275,216.3 274,215.6 273,214.8 272,213.8 271,213.1 269.4,212 268.3,210 267.3,209 266.6,207 266.1,205 265.7,203 265.6,201 265.6,199 265.3,197 265,195.6 264.7,194 265,192.7 265.5,191 266,189.3 266,188 266.2,186 266.6,184 267.3,182 268,180.3 268.7,179 270,177.1 271,176 271.8,175 273,174.2 275,173.4 277,172.4 279,171.6 280,170.9 281.8,170Z" fill="#a3cce3" fill-rule="evenodd"/>
<path d="M282.9,171 285,170.7 287,170.8 289,171.4 291,172 293,172.3 295,172.5 297,172.3 299,172.2 301,171.8 302.3,172 304,172.5 306,173.5 308,174.4 309.1,175 311,176 312.8,177 314,177.6 316,178.3 317.3,179 319,180 321,181 323,182 325,182.6 327,182.9 329,182.9 331,182.3 333,182.5 335,183.5 337,184.5 338.4,185 340,185.8 342,186.8 344,187.8 346,188.8 348,189.7 349.3,190 351,190.9 353,191.9 355,192.8 357,193.8 359,194.4 361,194.7 363,195.4 364.3,196 366,196.6 368,197.5 370,198.4 371.5,199 373,199.7 375,200.4 376.4,201 378,201.6 380,202.5 381.2,203 383,203.5 385,204.4 386.8,205 388,205.4 389.7,206 391,206.4 392.7,207 394,207.5 396,207.8 398,208.6 400,208.9 402,209.5 403.7,210 405,210.2 407,210.5 409,210.9 411,211.4 413,211.7 414.3,212 416,212.3 418,212.5 420,212.8 422,212.8 424,212.8 426,212.6 428,212.8 430,212.9 431.3,213 433,213.1 435,213 437,212.9 439,213.3 441,213.6 443,213.8 444.3,214 446,214.3 448,214.6 450,214.6 452,214.8 454,214.8 456,214.8 458,214.9 460,215.1 462,215.2 464,215.2 466,215.2 468,215.3 470,215.5 472,215.4 474,215.4 476,215.6 478,215.8 480,215.9 481.3,216 483,216.2 485,216.3 487,216.4 489,216.5 491,216.7 493,216.9 495,217.1 497,217.1 499,217.1 501,217.3 503,217.6 505,217.7 507,218 509,218.2 511,218.5 513,218.8 515,219.2 517,219.6 519,219.8 521,220.4 523,220.8 525,221.3 527,221.9 529,222.5 531,222.9 533,223.5 534.6,224 536,224.6 538,225.5 540,226.7 542,227.9 543,228.9 544,230 544.8,231 545.6,232 546.3,233 547,234 548,235.5 548.9,237 549.8,239 550.5,241 551,242.9 551.4,245 551.4,247 551.3,249 551.2,251 551,252.4 550.7,254 550.2,256 549.6,258 549,259.4 548.2,261 547,263 546,264.5 545,265.8 544,266.9 543,267.7 542,268.6 541,269.4 540,270.3 539,271.1 538,271.8 536,272.7 534,273.5 532.2,274 531,274.2 529,274.8 527,274.8 525,274.7 523,274.5 521,274.2 519,273.7 517,273 515,272.6 513,272.1 511,271.7 509,271.4 507,271 505,270.7 503,270.4 501,270.1 499,269.9 497,269.5 495,269.4 493,269.3 491,269.2 489,269.1 487,268.9 485,268.9 483,268.9 481.1,269 479.1,269 477,269 475,269 473,269 471,269.1 469,269.2 467,269.4 465,269.4 463,269.6 461,269.7 459,269.8 457,269.8 455,269.9 453,269.9 451,269.9 449,269.8 447,269.9 445,269.8 443,269.9 441,269.9 439,269.8 437,269.8 435,269.7 433,269.3 431,269.1 429,269.1 427,269 425,268.8 423,268.4 421,268.3 419,268.1 417,267.7 415,267.4 413,267.2 411,266.7 409,266.4 407,266.2 405,265.5 403,265.3 401,265 399,264.4 397.7,264 396,263.5 394.4,263 393,262.7 391,262.5 389,262.2 387,261.5 385,261.3 383.7,261 382,260.5 380,260.1 378,259 376,258.5 374.6,258 373,257.5 371.2,257 369,256.5 367.7,256 366,255.3 364,254.8 362.3,254 361,253.6 359.7,253 358,252.5 356.5,252 355,251.6 353.4,251 352,250.5 350.3,250 349,249.7 347,249 345,248.5 343.6,248 342,247.5 340.4,247 339,246.5 337.1,246 335,245.2 333,244.6 331.4,244 330,243.5 328.5,243 327,242.5 325.7,242 324,241.3 322,240.2 321,239.5 320,238.8 318,238.2 316,237.4 314.9,237 313,236.1 311,235.2 309,234.3 307,233.3 305,232.6 303.7,232 302,231.1 300,230.1 298,229.2 296,228.2 294,227.2 292,226.2 290,225.1 288.1,224 287,223.3 285,222 284,221.2 283,220 282,219.1 281,218.5 280,217.6 279,217 278,216.3 276,215.2 274.4,214 273.5,213 272.4,212 271.6,211 271.3,209 271,207.6 270.3,206 269.5,205 268.5,203 267.4,201 267,199.9 266.5,198 266.2,196 265.7,194 266,192 267,190 267.8,188 267.7,186 267.8,184 268.6,182 269,180.8 270,179.2 270.8,178 271.6,177 272.5,176 273.8,175 275,174.8 277,174.6 278.6,174 280,173.2 281,172.2 282,171.5 282.9,171Z" fill="#97c6df" fill-rule="evenodd"/>
<path d="M283.4,173 285,172.6 287,173 289,173.8 291,174.4 292.3,174 294,173.7 296,173.5 298,173.5 300,173.9 302,174.2 304,174.8 306,175.7 308,176.3 309.4,177 311,177.7 313,178.7 315,179.4 316.5,180 318,180.8 320,181.7 322,182.7 324,183.5 326,184 328,184.6 330,185 332,185.7 334,186.7 336,187.8 338,188.7 340,189.6 342,190.6 344,191.6 345,192.3 346.4,193 348,193.6 350,194.6 352,195.5 354,196.4 355.6,197 357,197.4 359,197 360.4,197 362,197.7 364,198.3 366,199 368,199.9 370,200.5 372,201.3 374,202 376,202.7 377.4,203 379,203.7 381,204.3 383,205 385,205.7 386.3,206 388,206.7 389.4,207 391,207.5 392.4,208 394,208.5 395.9,209 398,209.6 400,210 402,210.5 403.7,211 405,211.2 407,211.5 409,212 411,212.4 413,212.8 415,213.2 417,213.5 419,213.9 421,214.1 423,213.9 425,213.8 427,213.8 429,214 431,214.2 433,214.4 435,214.6 437,214.4 439,214.8 441,215 443,215.1 445,215.4 447,215.5 449,215.6 451,215.6 453,215.8 455,215.8 457,215.8 459,215.8 461,215.9 463,216 465,215.8 467,215.8 469,215.9 471,215.9 473,215.8 475,215.9 477,216.2 479,216.3 481,216.5 483,216.6 485,216.8 487,216.8 489,217 491,217.1 493,217.3 495,217.6 497,217.6 499,217.6 501,217.8 503,218.1 505,218.3 507,218.6 509,218.8 510.2,219 512,219.2 514,219.6 516,219.9 518,220.2 520,220.7 521.3,221 523,221.3 525,221.8 527,222.4 529,223 531,223.5 532.7,224 534,224.5 535.2,225 537,225.8 539,227 540.6,228 541.9,229 542.9,230 543.9,231 544.9,232 545.8,233 546.5,234 547.2,235 548,236.2 548.9,238 549.7,240 550.4,242 550.8,244 551,245.5 551.1,247 550.9,249 550.9,251 550.5,253 550.1,255 549.5,257 549,258.4 548.3,260 547.1,262 546,263.7 545,265 544.2,266 543,267 542,267.9 541,268.8 540,269.6 539,270.4 537,271.6 535.7,272 534,272.6 532.8,273 531,273.4 529,273.8 527,273.9 525,273.9 523,273.7 521,273.4 519.2,273 518,272.6 516,272 514,271.7 512,271.1 510,270.8 508,270.5 506,270.2 504.8,270 503,269.7 501,269.4 499,269.2 497.5,269 496,268.8 494,268.7 492,268.6 490,268.5 488,268.4 486,268.3 484,268.3 482,268.4 480,268.5 478,268.5 476,268.6 474,268.5 472,268.5 470,268.6 468,268.7 466,268.8 464,268.9 462,268.9 460,268.9 458,268.9 456,269 454,269.2 452,269.1 450,269 448,269.1 446.6,269 445,268.8 443,268.7 441,268.7 439,268.6 437,268.4 435,268.2 433,268 431,267.8 429,267.6 427,267.5 425,267.3 423,267.2 421.5,267 420,266.7 418,266.3 416,266.2 414,266.1 412,265.4 410,265.2 408,265.1 406,264.5 404,264.2 402,264 400,263.6 398,263.2 396,262.5 394.3,262 393,261.7 391,261.3 389.2,261 388,260.7 386,260.1 384,259.7 382,259.2 380,258.7 378.6,258 377,257.4 375.8,257 374,256.5 372.3,256 371,255.7 369,255.2 367,254.5 365.3,254 364,253.8 362,253.1 360,252.5 358.9,252 357,251.5 355.6,251 354,250.5 352.5,250 351,249.5 349.3,249 348,248.6 346.2,248 345,247.6 343.5,247 342,246.5 340.6,246 339,245.5 337.7,245 336,244.3 334,243.7 332.2,243 331,242.4 329.8,242 328,241.3 326,240.5 324.9,240 323,239.5 322,238.8 321,238 320,237.3 318,236.3 316,235.5 314.8,235 313,234.2 311,233.3 309,232.3 307,231.5 305.6,231 304,230.3 302,229.5 300,228.6 298.6,228 297,227.2 295,226.3 293,225.4 291,224.3 289,223.1 288,222.3 287,221.6 285,220.3 284,219.3 283,218.4 281,217 280,216.2 279,215 278,214.3 276,213.1 275,212.2 274,211 273.3,210 272.9,208 272.3,206 271.6,204 271,202.6 270,201.4 269,200.3 268.1,199 267.1,197 267,195 267,193 267.6,191 269,189 270,188.2 272,187.1 272.7,186 273.5,184 274.4,182 275,180.5 275.7,179 276.4,178 277.3,177 279,176.3 280.7,175 281.5,174 283,173.1 283.4,173Z" fill="#89bedc" fill-rule="evenodd"/>
<path d="M293.6,175 295,174.7 297,175 299,175.8 301,176.5 303,177.2 305,177.2 307,178 309,178.8 311,179.8 312.8,181 314,181.6 316,182.5 318,183.4 319.2,184 321,184.9 323,185.7 325,185.6 327,185.8 329,185.8 331,186.4 332.2,187 334,188 336,189 338,189.9 340,191 342,191.9 344,193 345,193.7 347,194.7 349,195.7 351,196.5 352.3,197 354,197.6 356,198.5 358,198.8 360,199.4 361.7,200 363,200.5 364.3,201 366,201.6 368,202.3 369.8,203 371,203.4 373,204 375,204.8 377,205.4 379,205.9 381,206.5 382.5,207 384,207.3 386,207.9 388,208.3 390,208.6 391.6,209 393,209.5 395,209.9 397,210.4 399,210.7 400.3,211 402,211.4 404,211.8 405.4,212 407,212.4 409,212.9 411,213.2 413,213.7 414.3,214 416,214.2 418,214.7 419.7,215 421,215.1 423,214.7 425,214.6 427,214.6 429,214.8 430.6,215 432,215.2 434,215.4 436,215.4 438,215.6 440,215.9 441.8,216 443,216.1 445,216.2 447,216.2 449,216.3 451,216.4 453,216.5 455,216.5 457,216.5 459,216.5 461,216.5 463,216.6 465,216.4 467,216.4 469,216.5 471,216.4 473,216.3 475,216.5 477,216.8 479,216.9 481,217 483,217.1 485,217.3 487,217.3 489,217.5 491,217.6 493,217.8 494.8,218 496,218.1 498,218.1 500,218.3 502,218.5 504,218.7 506,219 508,219.3 510,219.6 512,219.8 514,220.2 516,220.4 518,220.8 520,221.2 522,221.7 523.7,222 525,222.4 527,223 529,223.5 530.7,224 532,224.3 533.7,225 535,225.5 537,226.4 539,227.7 540.9,229 542,230 543,230.8 544,231.8 545,232.7 546,233.9 546.8,235 547.5,236 548.5,238 549,239.3 549.7,241 550,242.2 550.5,244 550.8,246 550.7,248 550.7,250 550.5,252 550,253.9 549.5,256 549,257.4 548.4,259 547.3,261 546,263 545.3,264 544.5,265 543.6,266 542.5,267 541.4,268 540.1,269 539,269.8 538,270.5 536,271.4 534,272 532,272.7 530,272.9 528,273.2 526,273.4 524,273.3 522.5,273 521,272.9 519,272.5 517,271.8 515,271.3 513.6,271 512,270.6 510,270.2 508,269.9 506,269.6 504,269.1 502,268.8 500,268.7 498,268.5 496,268.2 494,268.1 492,268 490,267.9 488,267.8 486,267.7 484,267.7 482,267.9 480.5,268 479,267.9 477.2,268 475,268.1 473,268.1 471,268.1 469,268.1 467,268.2 465,268.2 463,268.2 461,268.2 459,268.1 457,268 455,268.2 453,268.1 451,268.1 449,268.1 447.5,268 446,267.8 444,267.7 442,267.7 440,267.6 438,267.3 436,267.1 434.4,267 433,266.9 431,266.7 429,266.5 427,266.4 425,266.2 423,265.8 421,265.6 419,265.2 417.1,265 415,264.9 413,264.7 411,264.2 409.4,264 408,263.8 406,263.5 404,263.2 402.2,263 401,262.9 399,262.4 397.2,262 396,261.7 394.3,261 393,260.7 391,260.3 389.6,260 388,259.6 386,259.1 384,258.7 382,258.1 380,257.6 378.3,257 377,256.5 375.1,256 373,255.5 371.2,255 370,254.7 368,254.2 366,253.6 364,253.1 362,252.5 360.3,252 359,251.5 357.5,251 356,250.4 354.3,250 353,249.5 351.4,249 350,248.5 348.3,248 347,247.5 345.6,247 344,246.3 342,245.7 340.4,245 339,244.6 337.7,244 336,243.3 334,242.5 332.8,242 331,241.2 329,240.3 327,239.5 325.8,239 324,238.2 322,237.2 320.3,236 319,235.2 317,234.2 315,233.3 313,232.4 311,231.2 309,230.2 307,229.1 305,228.2 303,227.2 301,226.3 299,225.4 297,224.5 295,223.6 293.9,223 292,222.1 290,221.3 288,220.5 286,219.4 284.2,218 283,217 282,216.1 281,215.3 280,214.4 279,213.4 278,212.4 277,211.3 276,210.1 275.3,209 275,207 274,205.4 273,204 272,202.1 271.3,201 270.6,200 269.8,199 269.1,198 268.3,196 268.5,194 268.8,192 269.6,190 271,189 272,188.3 273,187.3 274,186.5 275.5,186 277,185.1 279,184.3 281,183.3 283,182.4 284.8,181 286,180.1 288,179.5 289,178.6 290,177.6 291,176.6 292,175.9 293,175.2 293.6,175Z" fill="#7ab6d9" fill-rule="evenodd"/>
<path d="M292.2,177 294,176.5 296,176.5 298,177 300,177.9 302,178.7 304,179.4 305.5,180 307,180.2 309,180.9 311,181.7 313,182.8 315,183.8 317,184.7 319,185.7 321,186.8 323,187.5 325,187.6 326.4,188 328,188.1 330,188.5 331.5,189 333,189.3 334.9,190 336,190.5 338,191.6 340,192.4 341.1,193 343,194 345,194.9 347,195.8 349,196.9 351,197.6 352.3,198 354,198.7 356,199.4 358,199.9 360,200.6 362,201.3 363.5,202 365,202.6 367,203.2 368.9,204 371,204.5 372.6,205 374,205.5 375.4,206 377,206.4 379,207 381,207.5 382.9,208 385,208.5 386.7,209 388,209.3 390,209.6 391.6,210 393,210.4 395,210.8 397,211.3 399,211.6 400.7,212 402,212.3 404,212.7 405.6,213 407,213.4 409,213.9 410.5,214 412,214.4 414,214.8 415.4,215 417,215.2 419,215.7 421,215.8 423,215.4 425,215.4 427,215.5 429,215.6 431,215.8 432.5,216 434,216.1 436,216.2 438,216.3 440,216.5 442,216.6 444,216.8 446,216.9 448,216.9 450,216.9 452,217.2 454,217.1 456,217.1 458,217.2 460,217.1 462,217.2 464,217.2 466,216.9 467.3,217 469,217.1 470.7,217 472,216.9 474,217 476,217.4 478,217.5 480,217.5 482,217.6 484,217.7 486,217.8 488,217.9 489.5,218 491,218.1 493,218.2 495,218.5 497,218.6 499,218.7 501,219 503,219.1 505,219.3 507,219.7 508.9,220 511,220.2 513,220.5 515,220.8 517,221.2 519,221.5 521,222 523,222.3 525,223 527,223.5 528.5,224 530,224.3 532,224.9 534,225.6 536,226.5 538,227.6 539,228.2 540.2,229 541.4,230 542.6,231 543.6,232 544.7,233 545.6,234 546.4,235 547.1,236 548,237.7 548.6,239 549.4,241 550,243 550.3,245 550.5,247 550.5,249 550.3,251 550,252.5 549.7,254 549.2,256 548.5,258 547.5,260 546.3,262 545,263.9 544.1,265 543.1,266 542,267 541,267.9 540,268.7 539,269.3 538,270 536,270.9 534,271.6 532.7,272 531,272.4 529,272.7 527,272.9 525,272.9 523,272.7 521,272.5 519,272 517,271.4 515.7,271 514,270.7 512,270.1 510,269.7 508,269.4 506,269 504,268.6 502,268.4 500,268.2 498.4,268 497,267.8 495,267.6 493,267.6 491,267.5 489,267.4 487,267.3 485,267.2 483,267.3 481,267.4 479,267.4 477,267.4 475,267.4 473,267.4 471,267.4 469,267.5 467,267.5 465,267.5 463,267.4 461,267.4 459,267.3 457,267.2 455,267.3 453,267.2 451,267.1 449.8,267 448,266.9 446,266.9 444,266.7 442,266.7 440,266.6 438,266.4 436,266.1 434,266.1 432,265.9 430,265.7 428,265.6 426,265.6 424,265.2 422.8,265 421,264.8 419,264.6 417,264.3 415,264.1 413,263.8 411,263.4 409,263.1 407,262.9 405,262.5 403,262.2 401.6,262 400,261.7 398,261.3 396.6,261 395,260.4 393.8,260 392,259.6 390,259.2 388,258.8 386,258.3 384.4,258 383,257.6 381,257.1 379,256.6 377.4,256 376,255.6 374,255.1 372,254.6 370,254.1 368,253.5 366,253 364,252.5 362,252 360,251.3 358,250.5 356.8,250 355,249.3 353.8,249 352,248.2 350,247.7 348.1,247 347,246.5 345.5,246 344,245.3 342,244.6 340.1,244 338,243.1 336,242.2 334,241.2 332,240.3 330,239.3 328,238.6 326.8,238 325,237.1 323,236.3 321,235.2 320,234.2 319,233.5 317,232.6 315.9,232 314,231 312,230.1 310,229.1 308,228 306,227.2 304,226.1 302,225.1 300,224.2 298,223.2 296,222.4 294,221.3 292,220.4 290,219.4 288,218.5 286,217.5 285,216.8 284,215.7 283,214.9 282,214.2 281,213.3 280,212.2 279.2,211 278,209 277.2,208 276.1,206 275.2,205 274.4,204 273.5,203 272.6,201 272.6,199 272.4,197 272,195.6 271.3,194 270.4,192 271,190.1 272,189.3 273,188.4 274,187.7 276,187.1 278,186.4 280,185.6 281.5,185 283,184.2 285,183.4 286.7,182 287.9,181 289,180.3 290,179.3 291,178 292,177.1 292.2,177Z" fill="#6caed6" fill-rule="evenodd"/>
<path d="M292,180 293,179.1 295,179.2 297,179.6 299,179.9 301,180.3 303,180.8 305,181.4 306.8,182 308,182.4 310,183 312,183.7 314,184.7 316,185.6 318,186.5 320,187.6 322,188.5 323.8,189 325,189.3 327,189.9 329,190.4 330.3,191 332,191.7 334,192.1 336,192.8 338,193.3 340,194 342,195 344,195.9 346,196.6 348,197.4 349.5,198 351,198.7 353,199.5 354.3,200 356,200.3 358,200.8 360,201.6 361.3,202 363,202.7 365,203.4 366.8,204 368,204.4 369.8,205 371,205.2 373,205.8 375,206.5 376.8,207 379,207.6 380.3,208 382,208.4 384,209 386,209.5 387.8,210 390,210.4 392,210.9 394,211.4 396,211.9 398,212.3 400,212.8 402,213.2 404,213.7 406,214 408,214.6 410,214.8 412,215.2 414,215.6 416,215.7 417.4,216 419,216.3 421,216.3 423,216.1 425,216.1 427,216.3 429,216.4 431,216.5 433,216.8 435,216.9 437,217 439,217.1 441,217.1 443,217.3 445,217.4 447,217.5 449,217.5 451,217.7 453,217.8 455,217.7 457,217.7 459,217.8 461,217.8 463,217.9 465,217.7 467,217.7 469,217.8 471,217.7 473,217.6 475,218 477,218.2 479,218.2 481,218.2 483,218.2 485,218.3 487,218.4 489,218.5 491,218.6 493,218.7 495,218.9 497,219.1 499,219.2 501,219.4 503,219.5 505,219.7 506.3,220 508,220.3 510,220.5 512,220.7 514,221.1 516,221.4 518,221.8 520,222.3 522,222.6 523.6,223 525,223.5 526.7,224 528,224.3 530,224.7 532,225.3 533.8,226 535,226.4 536.2,227 538,228 539,228.6 540,229.3 541,230.1 542,231 543,231.9 544,232.8 545,233.7 546,235 546.7,236 547.9,238 548.7,240 549.4,242 549.9,244 550.2,246 550.3,248 550.2,250 550,251.3 549.7,253 549.2,255 548.5,257 548,258.3 547.2,260 546,261.9 545.4,263 544.5,264 543.7,265 542.7,266 541.6,267 540.3,268 539,268.9 538,269.6 536,270.6 534,271.3 532,271.9 530,272.1 528,272.4 526,272.5 524,272.4 522,272.3 520.1,272 518,271.3 516,270.7 514,270.3 512.8,270 511,269.5 509,269.1 507,268.8 505,268.4 503,268 501,267.8 499,267.7 497,267.3 495,267.2 493,267.1 491,267.1 489,267 487,266.9 485,266.8 483,266.8 481,266.8 479,266.7 477,266.6 475,266.6 473,266.7 471,266.6 469,266.7 467,266.7 465,266.6 463,266.4 461,266.6 459,266.5 457,266.4 455,266.4 453,266.4 451,266.2 449,266.2 447,266.2 445,266 443,265.9 441,265.8 439,265.7 437,265.5 435,265.4 433,265.2 431,265.1 429,265 427,264.9 425,264.7 423,264.4 421,264.2 419.2,264 418,263.8 416,263.6 414,263.4 412.4,263 411,262.7 409,262.4 407,262.2 405,261.8 403,261.4 401,261.1 399,260.6 397,260.3 395,259.6 393.2,259 392,258.7 390,258.4 388.4,258 387,257.7 385,257.3 383.7,257 382,256.6 380,256.1 378,255.4 376.7,255 375,254.5 373,254.2 371,253.6 369,253.2 367,252.5 365,252.1 363,251.4 361.3,251 360,250.4 358.8,250 357,249 355,248.1 353,247.3 351,246.8 349.2,246 348,245.7 346.1,245 344,244.2 342,243.5 340.1,243 339,242.4 337,241.5 335.9,241 334.2,240 333,239.3 331,238.2 329,237.5 327,236.6 325.6,236 324,235.4 322,234.5 320.2,233 319,232.2 317,231.3 315,230.2 313,229.3 311,228.4 309,227.3 307,226.5 305,225.4 303,224.4 301,223.4 299.9,223 298,222 296,221.1 295,220.4 293,219.2 292,218.5 290,217.5 288,216.5 286,215 285.2,214 284,213 283,212.4 282,211.5 281,210.6 280,209.6 279,208 278.1,206 277.3,205 276,204 275,203.1 274.3,202 273.9,200 273.9,198 273.8,196 273,194.1 272.3,193 271.7,191 272.7,190 274,189.1 276,188.6 277.5,188 279,187.3 281,186.7 283,186.3 285,186 286,185.1 286.7,184 287.4,183 288.1,182 290,181.1 292,180Z" fill="#60a7d2" fill-rule="evenodd"/>
<path d="M292.9,182 295,182 296.7,182 298,182.1 300,182.1 302,182.5 304,183 306,183.4 308,184 310,184.6 311.5,185 313,185.7 315,186.6 316.2,187 318,187.8 320,188.8 322,189.6 323.7,190 325,190.6 326.9,191 329,191.8 331,192.7 333,193.7 335,194.4 336.2,195 338,195.5 339.8,196 341,196.4 343,196.8 345,197.4 347,198 349,198.7 351,199.7 353,200.6 355,201 357,201.4 358.8,202 360,202.4 362,203 364,203.7 366,204.4 367.9,205 370,205.6 371.9,206 373,206.5 374.6,207 376,207.5 378,207.9 380,208.6 382,208.9 384,209.7 385.4,210 387,210.5 389,210.8 391,211.5 393,211.9 395,212.5 397,213 399,213.4 401,213.9 403,214.3 405,214.7 406.5,215 408,215.4 410,215.6 411.8,216 413,216.2 415,216.5 417,216.6 419,216.9 421,216.8 423,216.6 425,216.7 427,217 429,217.1 431,217.3 433,217.5 435,217.6 437,217.7 439,217.8 441,217.7 443,217.8 445,217.9 447,218.1 449,218.1 451,218.3 453,218.4 455,218.4 457,218.4 459,218.6 461,218.6 463,218.6 465,218.5 467,218.5 469,218.6 471,218.5 473,218.5 475,218.7 477,218.8 479,218.8 481,218.8 483,218.8 485,218.8 487,219 489,219 491,219.1 493,219.1 495,219.4 497,219.6 499,219.7 501,219.9 503,219.9 505,220.2 507,220.6 509,220.8 510.7,221 512,221.2 514,221.5 516,221.9 518,222.2 520,222.7 521.4,223 523,223.2 525,224 527,224.5 529,224.9 531,225.4 532.9,226 535,226.8 537,227.8 538.9,229 540,229.7 541,230.6 542,231.4 543,232.3 544,233.2 545,234.2 546,235.6 547,236.9 547.6,238 548.4,240 549,241.5 549.5,243 549.8,245 550,247 550,249 549.8,251 549.4,253 549,254.7 548.6,256 548,257.5 547.3,259 546.3,261 545,263 544.2,264 543.3,265 542.4,266 541.2,267 540,267.9 538.3,269 537,269.7 535,270.6 533.8,271 532,271.5 530,271.8 528.6,272 527,272.2 525,272.2 523,272 521,271.8 519,271.3 517,270.7 515,270.1 513,269.7 511,269.1 509,268.7 507,268.4 505.1,268 503,267.6 501,267.5 499,267.2 497.7,267 496,266.8 494,266.7 492,266.6 490,266.6 488,266.5 486,266.3 484,266.3 482,266.2 480.5,266 479,265.9 477,265.7 475,265.7 473,265.8 471,265.7 469,265.8 467,265.7 465,265.6 463,265.5 461,265.7 459,265.7 457,265.7 455,265.6 453,265.6 451,265.5 449,265.4 447,265.5 445,265.4 443,265.3 441,265.1 439,265 437,264.9 435,264.8 433,264.5 431,264.5 429,264.3 427,264.2 425,264 423,263.8 421,263.5 419,263.2 417,263 415,262.9 413,262.5 411,262.1 409,261.7 407,261.4 405,261 403,260.6 401,260.2 399,259.7 397,259.4 395.5,259 394,258.4 392.8,258 391,257.6 389,257.3 387,256.8 385,256.4 383.4,256 382,255.7 380,255.2 378,254.2 376,253.5 374,253 372,252.5 370.4,252 369,251.5 367,251.1 365,250.5 363.8,250 362,249.3 360,248.8 358,248 356.2,247 355,246.1 354,245.3 352,244.6 350.7,244 349,243.3 347,242.8 345,242 343,241.2 341,240.5 339.9,240 338,239.2 336,238.2 334,237.6 332,236.5 330,235.6 328.3,235 327,234.4 325.7,234 324,233.1 322,232.2 321,231 320.2,230 319.4,229 318,228 316,227 314,226 312,225 310,224 308,223.2 306,222 304,221.2 302,220.3 300,219.3 298,218.3 296,217.3 294,216.3 292,215.4 290,214.5 289,213.8 287.7,213 286.9,212 286,211.1 284.1,210 283,209.3 281,208.2 280,207.2 279.4,206 278.8,205 278,203.4 277.2,202 277,200.8 276.1,199 275,197.1 274.6,195 274.4,193 275,191.4 276,190.7 277.2,190 278.9,189 280,188.5 281.6,188 283,187.9 285,187.5 286,186.5 287,185.5 288,184.2 289,183 291,182.5 292.9,182Z" fill="#549fcd" fill-rule="evenodd"/>
<path d="M291.6,184 293,183.3 295,183.3 297,183.4 299,184 301,184.6 302.2,185 304,185.7 306,186.5 308,187.4 309.2,188 311,188.8 313,189.5 315,190.3 316.7,191 318,190.9 320,190.9 322,191.4 324,191.6 326,192.2 328,192.6 330,193.5 332,194.5 334,195.4 335.1,196 337,196.8 339,197.5 340.9,198 343,198.1 345,198.6 346.6,199 348,199.5 349.1,200 351,200.9 353,201.8 355,202.2 357,202.4 359,202.9 361,203.5 362.8,204 364,204.4 366,205 368,205.7 369.2,206 371,206.5 372.5,207 374,207.6 376,208.3 378,208.7 380,209.5 382,210 384,210.6 385.4,211 387,211.5 389,212 391,212.6 392.9,213 395,213.4 396.9,214 399,214.4 401,214.9 403,215.2 405,215.7 406.7,216 408,216.4 410,216.6 412,216.9 414,217.3 416,217.5 418,217.6 420,217.5 422,217.2 424,217.2 426,217.5 428,217.7 430,217.9 432,218.1 434,218.4 436,218.5 438,218.7 440,218.6 442,218.5 444,218.5 446,218.8 448,218.8 450,218.9 452,219.1 454,219.1 456,219.1 458,219.3 460,219.4 462,219.4 464,219.4 466,219.4 468,219.5 470,219.4 472,219.2 474,219.3 476,219.4 478,219.3 480,219.3 482,219.4 484,219.4 486,219.5 488,219.6 490,219.6 492,219.6 494,219.8 496,220 498,220.1 500,220.3 502,220.4 504,220.5 506,220.8 507.3,221 509,221.2 511,221.5 513,221.8 514.4,222 516,222.3 518,222.6 519.6,223 521,223.4 523,223.6 525,224.4 527,224.9 529,225.3 531,225.8 533,226.4 534.6,227 536,227.7 538,228.8 539.8,230 541,231 542,231.8 543,232.7 544,233.6 545,234.6 545.9,236 546.7,237 547.7,239 548.5,241 549,242.3 549.4,244 549.6,246 549.8,248 549.7,250 549.4,252 549,253.8 548.6,255 548,256.8 547.5,258 546.6,260 545.4,262 544.7,263 543.8,264 543,265 542,266 541,266.8 540,267.5 538,268.8 536,269.8 534,270.6 532.7,271 531,271.4 529,271.6 527,271.8 525,271.8 523,271.6 521,271.4 519.2,271 518,270.6 516,270 514,269.5 512.2,269 510,268.5 508,268.1 506,267.7 504,267.4 502,267.2 500,267 498,266.6 496,266.4 494,266.3 492,266.1 490,266.1 488,266 486,265.9 484,265.8 482,265.5 480,265.3 478,265.1 476,265 474.4,265 473,265 471,265 469,265 467,264.9 465,264.8 463,264.8 461,264.8 459,264.9 457,264.9 455,264.9 453,264.9 451,264.8 449,264.8 447,264.9 445,264.8 443,264.7 441,264.5 439,264.4 437,264.3 435,264.2 433.8,264 432,263.9 430,263.7 428,263.4 426,263.2 424.6,263 423,262.8 421,262.6 419,262.3 417,262.1 415.8,262 414,261.8 412,261.4 410,261.1 408,260.7 406,260.3 404.7,260 403,259.8 401,259.3 399.7,259 398,258.7 396,258.4 394,257.6 392.3,257 391,256.7 389,256.3 387,255.7 385,255.3 383,254.7 381,254.3 379,253.4 377,252.4 375.6,252 374,251.4 372.7,251 371,250.5 369.9,250 368,249.5 366.6,249 365,248.3 363,247.6 361.4,247 360,246.4 358,245.7 356.8,245 355,244 353.3,243 352,242.3 350,241.4 348,240.5 346.3,240 345,239.3 343,238.4 341.7,238 340,237.3 338,236.3 336,235.6 334,235.1 332,234.4 330.9,234 329,233 328,232.2 327,231.4 326,230.5 324,229.6 322,228.3 321,227.4 320,226.6 318.8,226 317,225.1 315,224.2 313,223.2 311,222.1 309,221.1 307,220.1 305,219.2 303,218.5 301,217.4 299,216.6 297.9,216 296,215.1 294,214.1 292,213 290.3,212 289,211.4 288,210.6 287,209.6 285.8,209 284.1,208 283,207.2 282,206 282,204.3 281.3,203 280.3,201 279.4,199 278.2,197 277,196.2 276,195.1 276,193.7 277,192.1 279,191.1 281,190.9 283,190.7 284,190 284.7,189 285.9,188 287,187 289,186.1 289.8,185 291,184.3 291.6,184Z" fill="#4997c9" fill-rule="evenodd"/>
<path d="M292.8,185 294,184.6 296,184.6 297.8,185 299,185.5 300.2,186 302,186.9 304,187.6 306,188.6 308,189.6 310,190.5 311.2,191 313,191.9 315,192.6 317,193.6 319,194.5 321,195 321.9,194 323.6,194 325,194.5 327,194.2 329,194.7 331,195.7 333,196.5 334.2,197 336,197.8 338,198.5 340,198.9 342,199.5 344,200 346,200.3 347.8,201 349,201.5 350.8,202 352,202.8 354,203.7 356,203.7 357.7,204 359,204.3 360.9,205 363,205.6 364.8,206 366,206.5 367.8,207 369,207.5 371,207.9 373,208.8 375,209.6 376.8,210 378,210.2 380,211 382,211.5 383.5,212 385,212.3 386.9,213 389,213.3 391,214 393,214.3 395,214.6 397,215.3 399,215.6 401,215.9 403,216.4 405,216.8 406.7,217 408,217.5 410,217.6 412,217.9 414,218.5 416,218.6 418,218.4 420,218.5 421.6,218 423,217.9 424.8,218 427,218.3 429,218.7 431,218.9 433,219.2 435,219.3 437,219.6 439,219.8 441,219.6 443,219.4 445,219.5 447,219.9 449,219.9 451,220 453,220 455,220 457,220.1 459,220.2 461,220.2 463,220.2 465,220.3 467,220.2 469,220.3 471,220 473,219.9 474.8,220 476,220 478,219.9 480,219.9 482,220 484,220 486,220.1 488,220.2 490,220.2 492,220.1 494,220.3 496,220.5 498,220.6 500,220.8 502,220.8 504,221 506,221.4 508,221.6 510,221.8 511.7,222 513,222.3 515,222.6 517,222.9 519,223.3 521,223.8 522.8,224 524,224.5 526,225 528,225.5 530,225.8 532,226.5 533.6,227 535,227.6 537,228.6 539,229.8 540,230.6 541,231.4 542,232.3 543,233.1 544,234 544.9,235 545.6,236 546.3,237 547,238 547.9,240 548.6,242 549.2,244 549.4,246 549.5,248 549.5,250 549.2,252 548.7,254 548,256 547.2,258 546.3,260 545.1,262 544.3,263 543.4,264 542.6,265 541.6,266 540.2,267 539,267.7 537,269 535,270 533,270.6 531.2,271 530,271.1 528,271.3 526,271.4 524,271.3 522,271.1 520,270.8 518,270.2 516,269.5 514,269.1 512,268.5 510,268.1 508,267.6 506,267.3 504.5,267 503,266.8 501,266.6 499,266.3 497,266.1 495,265.9 493,265.6 491,265.6 489,265.5 487,265.4 485,265.2 483,265.1 481,264.8 479,264.6 477,264.5 475,264.5 473,264.4 471,264.4 469,264.4 467,264.3 465,264.2 463,264.2 461,264.3 459,264.4 457,264.4 455,264.4 453,264.3 451,264.3 449,264.3 447,264.3 445,264.1 443,264.1 441.8,264 440,263.8 438,263.7 436,263.6 434,263.4 432,263.2 430.2,263 429,262.7 427,262.5 425,262.2 423.2,262 422,261.7 420,261.4 418,261.2 416.3,261 415,260.9 413,260.5 411,260.2 409,259.9 407,259.5 405,259.2 403.3,259 402,258.6 400,258.2 398.6,258 397,257.7 395,257.1 393,256.2 391,255.7 389,255.2 387,254.7 385,254.2 383,253.6 381,253.2 379,252.3 378,251.6 376,251 374,250.2 372,249.4 370.5,249 369,248.4 367.5,248 366,247.3 364,246.5 362.4,246 361,245.2 359,244.5 357.8,244 356,243.1 354.2,242 353,241 352,240 350,239.2 348,238.2 346,237.3 344,236.5 342.5,236 341,235.5 339.7,235 338,234.6 336,234.2 334,233.3 332,232.5 330,231.5 328,230.4 327,229.6 326,228.8 324.5,228 323,227.1 322,226.3 321,225.3 320,224.3 318,223.6 316.4,223 315,222.3 313,221.6 311.8,221 310,220.1 308,219.3 306,218.4 304,217.6 302.6,217 301,216.2 299,215.3 297,214.3 295,213.4 294,212.7 292.6,212 291.2,211 290,210 289.7,208 289.2,206 288.2,205 287,204.1 286,203 285.2,202 284.1,201 283,200 282,199.2 281.2,198 280.8,196 282,194.3 283,193.5 284,192.4 284.8,191 285.5,190 286.3,189 288,188.3 290,188.9 292,189.9 294,190.6 295.3,190 295,188.8 294,187.8 293,187 292.3,186 292.8,185Z" fill="#3f8fc5" fill-rule="evenodd"/>
<path d="M287.2,191 288.8,191 290,191.8 292,192.8 294,193.7 296,194.5 297.3,194 299,193.9 301,194.9 303,195.7 305,196.7 307,197.5 308.4,198 310,198.7 312,199.7 314,200.5 315.2,201 317,201.8 319,202.6 320.5,203 322,203.1 323.3,203 325,203.4 327,203.9 328.8,203 328,202 327.1,201 326.4,200 326.6,198 328,197.4 329.4,198 331,198.5 333,199.5 335,200.3 337,200.6 339,200.8 341,201.4 342.9,202 344,202.5 346,203.3 348,203.8 350,203.8 352,204.8 354,205.5 356,206 358,206.9 360,207.7 362,208.6 363.2,209 365,209.7 367,210.5 368.3,211 370,211.4 371.5,212 373,211.9 375,212.2 377,212.6 378.9,213 381,213.3 383,213.9 385,214.3 387,215 389,215.4 390.8,216 392,216.1 394,216.6 395.7,217 397,217.3 399,217.6 400.7,218 402,218.3 404,218.8 405.2,219 407,219.3 409,220 411,220 413,220.3 414.6,220 416,219.8 418,219.7 420,219.7 422,219.2 424,219.2 426,219.4 428,219.8 430,220.2 432,220.4 434,220.5 436,220.6 438,220.8 440,221 442,220.8 444,220.7 446,220.8 448,220.8 450,220.8 452,220.8 454,220.8 456,220.9 458,220.9 460,220.9 462,220.9 464,220.9 466,220.9 468,221 470,220.7 472,220.5 474,220.5 476,220.5 478,220.4 480,220.4 482,220.5 484,220.4 486,220.6 488,220.8 490,220.7 492,220.7 494,220.8 496,221 498,221.1 500,221.3 502,221.4 504,221.6 506,221.9 508,222.1 510,222.4 512,222.7 514,223 516,223.3 518,223.6 519.8,224 521,224.3 523,224.6 525,225.3 527,225.8 528.8,226 530,226.4 532,226.9 534,227.7 536,228.6 538,229.7 539.9,231 541,231.8 542,232.7 543,233.5 544,234.5 545,235.7 545.9,237 546.6,238 547.6,240 548.3,242 548.9,244 549.1,246 549.3,248 549.2,250 549,251.8 548.6,253 548.1,255 547.3,257 546.4,259 545.3,261 544,262.9 543.1,264 542.3,265 541.2,266 540,266.8 538,268 536.3,269 535,269.6 533,270.2 531,270.6 529,270.9 527,270.9 525,270.9 523,270.7 521,270.4 519.4,270 518,269.6 516,269.1 514,268.6 512,268 510,267.5 508,267.1 506,266.8 504,266.4 502,266.1 500.7,266 499,265.8 497,265.6 495,265.4 493,265.1 491,265 489.6,265 488,264.9 486,264.7 484,264.6 482,264.5 480,264.3 478,264.1 476,264 474,263.9 472,263.9 470,263.8 468,263.8 466,263.7 464,263.7 462,263.7 460,263.8 458,263.9 456,263.9 454,263.8 452,263.8 450,263.8 448,263.7 446,263.5 444,263.2 442,263.2 440,263 438,262.9 436,262.8 434,262.5 432,262.4 430,262.2 428.6,262 427,261.7 425,261.3 423,261 421,260.6 419,260.3 417.6,260 416,259.8 414,259.3 412,259.1 410,258.8 408,258.3 406.2,258 404,257.9 402,257.2 400,256.9 398,256.6 396,256.1 394,255.3 393,254.5 391,253.3 389.4,253 388,252.9 386,252.2 384,251.6 382,251 380.7,250 379.9,249 378.6,248 377,247.1 375,246.5 373,245.7 371.1,245 369,244.4 367,243.7 365.3,243 364,242.4 362,241.7 360.4,241 359,240.4 357.4,240 356,239.5 354,238.3 353,237.3 351,236.2 349,235.6 347.7,235 346,234.4 344,233.5 342,233 340.7,233 339,232.9 337,232.1 335.1,231 334,230.6 332.5,230 331,229.2 329,228 327,227.5 325.4,226 324.4,225 323,224.1 322,223.1 321,222.1 319,221.2 317,220.4 315,219.6 313.8,219 312,218.3 310,217.5 308.8,217 307,216.4 305,215.4 303,215 301.2,214 300,213.7 298.4,213 297,212.1 295,211 294.1,210 293.1,209 292.1,208 291,206 290.3,205 289.2,204 288.3,203 287,201.1 286.2,200 285.2,198 285.1,196 285.9,194 286.3,192 287.2,191Z" fill="#3686c0" fill-rule="evenodd"/>
<path d="M306.8,202 308,201.2 310,201.6 311.8,202 314,202.6 316,203.4 317.2,204 319,204.9 321,205.9 323,206.6 325,206.4 327,206.9 328,206.1 330,205.7 331.9,206 334,206.5 336,207.2 338,207.9 340,208.1 342,208 341,207 340,206.3 339,205.5 338,204.4 336,204.1 335,203.3 337,202.8 338,203.5 339.6,204 341,204.8 343,205.6 344.2,206 346,206.9 348,207.5 349.1,208 351,208.9 353,209.5 355,210.4 356.6,211 358,211 360,211 362,211.3 363.5,212 365,212.5 367,212.7 369,212.7 370.4,213 372,213.4 374,213.9 376,214.8 378,215.6 379.3,216 381,216.5 382.4,217 384,217.5 386,218.3 388,218.8 390,219.6 392,220.4 394,220.6 396,221.7 398,222.3 399,223.1 400.7,223 402,222.8 404,223 406,223.1 408,223.7 410,223.9 412,223.4 414,223.1 416,223.3 418,223.2 419.9,222 421,220.7 423,220.5 425,221 427,221.1 429,221.4 431,221.7 432.7,222 434,222 435.4,222 437,221.9 439,222 441,222 443,222.1 445,221.8 447,221.7 449,221.6 451,221.6 453,221.6 455,221.6 457,221.6 459,221.6 461,221.6 463,221.5 465,221.5 467,221.5 469,221.5 471,221.2 473,221.1 475,221.1 477,220.9 479,220.9 481,221 483,220.9 485,220.9 487,221.2 489,221.3 491,221.2 493,221.3 495,221.5 497,221.7 499,221.9 501,222.1 503,222.2 505,222.4 507,222.7 509,222.9 511,223.2 513,223.5 515,223.8 516.3,224 518,224.2 520,224.7 521.7,225 523,225.3 525,226 527,226.4 529,226.8 531,227.3 533,227.9 535,228.7 537,229.7 539,230.8 540,231.5 541,232.3 542,233.1 543,233.9 544,234.9 544.8,236 545.5,237 546.2,238 547,239.4 547.6,241 548.3,243 548.6,245 548.9,247 549.1,249 548.9,251 548.4,253 548,254.4 547.4,256 546.5,258 546,259.2 545,261 544.3,262 543.5,263 542.7,264 541.9,265 540.7,266 539,267 537.4,268 536,268.7 534,269.6 532.5,270 531,270.2 529,270.4 527,270.4 525,270.4 523,270.1 521,269.8 519,269.3 517,268.8 515,268.4 513.7,268 512,267.5 510,267 508,266.6 506,266.2 504,265.8 502,265.5 500,265.3 498,265.2 496.1,265 494,264.7 492,264.5 490,264.5 488,264.4 486,264.2 484,264.1 482.2,264 481,263.9 479,263.7 477,263.6 475,263.5 473,263.4 471,263.4 469,263.3 467,263.3 465,263.2 463,263.2 461,263.1 459,263.2 457,263.2 455,263.2 453,263.1 451,263.1 449,263.1 447.8,263 446,262.6 444,262.3 442,262.2 440,262 438,261.9 436,261.6 434,261.3 432,261.1 430,260.8 428,260.7 426,260.2 424.5,260 423,259.8 421,259.6 419.4,259 418,258.6 416,258.3 414,257.7 412,257.4 410,257 408,256.4 406.1,256 404,255.5 402.2,255 400,254.5 398.5,254 397,253.6 395.1,253 394,252.4 393,251.7 392,250.9 390,250.2 388.8,250 387,249.4 385.8,249 384,248.4 382.9,248 381,247.2 380,246 379,245.2 377,244.5 375.7,244 374,243.4 372.7,243 371,242.3 369,241.6 367,241.1 365,240.2 363,239.3 361.8,239 360,238.4 358,237.7 356.1,237 354.2,236 353.9,234 353,232 352,231.1 350,230.5 348,230 346,230 344,230.2 342,230 340,229.5 338,228.7 336.1,228 334,227.2 332,226.2 330,225.8 328,225 326.4,224 325,223.1 324,222.3 323.1,221 322,219.1 320,218.1 318,217.4 316,216.5 314,215.5 312.5,215 311,214.4 309,213.5 307,212.4 305,211.5 303,210.5 301.7,210 300,209.1 298,208.1 296,207.1 295,206 295,204 296,202.2 298,202.3 300,202.4 302,202.8 304,202.8 306,203.1 306.8,202Z" fill="#2d7dbb" fill-rule="evenodd"/>
<path d="M334.4,209 336,208.9 338,209.3 340,209.5 342,209.9 344,210.7 346,210.8 348,211.6 349.7,212 351,212.2 353,212.1 354,213 356,213.8 358,214.4 360,214.9 362,215.2 363.9,215 366,215.3 368,215.9 370,216.6 372,217.5 373.5,218 375,218.4 376.6,219 378,219.4 379.6,220 381,220.3 383,221 385,221.4 386.9,222 388,222.7 390,223.4 392,223.6 393.5,224 395,224.4 397,224.7 398.4,225 400,225.4 402,225.6 404,225.9 406,226.3 408,226.2 410,225.6 412,225.2 414,225 416,225.1 417.9,225 420,224.4 422,223.8 424,223.8 426,223.7 428,224 430,224 432,224 434,224 436,223.9 438,223.5 440,223.5 442,223.6 444,223.6 446,223.2 448,222.8 450,222.7 452,222.7 454,222.6 456,222.5 458,222.3 460,222.3 462,222.2 464,222 466,222 468,222.1 470,221.9 472,221.8 474,221.7 476,221.5 478,221.4 480,221.5 482,221.5 484,221.4 486,221.6 488,221.8 490,221.8 492,221.8 494,222 496,222.3 498,222.4 500,222.6 502,222.7 504,223 506,223.1 508,223.4 510,223.8 511.4,224 513,224.1 515,224.4 517,224.9 519,225.2 521,225.6 522.6,226 524,226.4 526,227 528,227.4 530,227.8 532,228.4 533.8,229 535,229.4 536.5,230 538,230.8 540,232 541,232.7 542,233.5 543,234.5 544,235.6 545,237 545.7,238 546.9,240 547.5,242 548,243.6 548.2,245 548.6,247 548.7,249 548.5,251 548.1,253 547.4,255 547,256.2 546.2,258 545.2,260 544,261.9 543,263 542.3,264 541.4,265 540.1,266 539,266.6 537,267.8 535,268.8 533,269.4 531,269.8 529,270 527,270 525,269.9 523,269.6 521,269.2 519,268.8 517,268.2 515.7,268 514,267.5 512.3,267 511,266.7 509,266.3 507.5,266 506,265.6 504,265.3 502.4,265 501,264.8 499,264.7 497,264.5 495,264.3 493,264 491,263.9 489,263.8 487,263.7 485,263.6 483,263.5 481,263.4 479,263.2 477,263.1 475,263 473,263 471,262.9 469,262.8 467,262.8 465,262.7 463,262.6 461,262.3 459,262.2 457,262.2 455,262.1 453,262 451,262 449,261.7 447,261.3 445,261.1 443,261 441,260.9 439,260.6 437,260.4 435,260.2 433,259.7 431,259.4 429,259.2 427,259.1 425,258.5 423,258.4 421,258.1 419,257.4 417,257.2 415,256.3 413,255.5 411.4,255 410,254.6 408,254.1 406,253.7 404.1,253 402,252.6 400,252 398,251.5 396.5,251 395,250.5 393.5,250 392.4,249 391.4,248 390,247.5 388.5,247 387,246.4 385.5,246 384,245.5 382.9,245 381.5,244 380.8,243 379,242.1 377,241.2 375,240.4 373,239.5 371.7,239 370,238.2 368,237.1 367.3,236 366,234.7 364.9,234 363,233.2 361,232.5 359.8,232 358,231.5 356.5,231 355,230.4 353.2,229 352,228 350,227.2 348,227.5 346,227.8 344,227 342,226.5 340.5,226 339,225.4 337.6,225 336,224.5 334.6,224 333,223.2 331,222.4 329.6,222 328,221.4 326,220.4 325.5,219 325.5,217 327,215.4 328,214 327,212.6 326.4,211 328,210.2 330,210.9 331.7,211 332.4,210 334,209.1 334.4,209ZM353,219.8 352.1,221 353,222.4 355,222.8 356,222 355.3,221 354,220.1 353,219.8Z" fill="#2373b6" fill-rule="evenodd"/>
<path d="M334.6,215 336,214.9 337,215.7 338.5,216 340,216.7 342,217.9 341.5,219 340,218.4 338,217.5 336,216.3 335,215.5 334.6,215ZM361.8,217 364,217 366,217.2 368,217.6 369.4,218 371,218.6 373,219.4 375,219.8 377,220.6 378.3,221 380,221.7 382,222.5 384,223.3 385.7,224 387,224.4 389,225 391,225.4 393,225.8 395,226.3 397,226.8 399,227.2 401,227.4 403,227.7 405,227.8 407,227.7 409,227.3 411,226.9 413,226.6 415,226.5 417,226.6 419,226.2 420.8,226 422,225.7 424,225.7 426,226 428,226 430,225.9 432,225.6 434,225.5 436,225.4 438,225.2 440,225.1 442,225 444,224.7 446,224.5 448,224.1 450,223.8 452,223.7 454,223.6 456,223.4 458,223.1 460,223.1 462,223 464,222.8 466,222.8 468,222.8 470,222.6 472,222.5 474,222.4 476,222.1 478,222 480,222.1 482,222 484,221.9 485.4,222 487,222.3 489,222.4 491,222.3 493,222.4 495,222.8 497,223 498.4,223 500,223.2 502,223.3 504,223.5 506,223.7 508,224 510,224.4 512,224.6 514,224.8 516,225.3 518,225.7 519.8,226 521,226.2 523,226.8 525,227.4 527,227.9 529,228.3 531,228.9 533,229.4 534.8,230 536,230.4 537.1,231 539,232 540.7,233 542,234 543,235 543.8,236 544.5,237 545.2,238 546,239.3 546.8,241 547.3,243 547.8,245 548.2,247 548.4,249 548.2,251 547.8,253 547.1,255 546.3,257 545.3,259 544.2,261 543.4,262 542.5,263 541.8,264 541,265 539.4,266 538,266.8 536,267.9 534,268.6 532,269.2 530,269.4 528,269.5 526,269.4 524,269.2 522.6,269 521,268.7 519,268.3 517,267.7 515,267.3 513,266.6 511,266.2 509,265.8 507,265.3 505.5,265 504,264.8 502,264.3 500,264.1 498.1,264 496,263.8 494,263.4 492,263.2 490,263.2 488,263.1 486,263 484,263 482,263 480,262.8 478,262.6 476,262.5 474,262.4 472,262.4 470,262.3 468,262.3 466,262.2 464,262.1 462,261.7 460,261.4 458,261.3 456,261.1 454,260.8 452,260.7 450,260.6 448,260.3 446,260.1 444,259.7 442,259.3 440,259 438,258.6 436,258.2 434,257.7 432,257.3 430,257 428,256.3 426,256 424,255.6 422,255 420,255 418,254.7 416,254.1 414,253.8 412.2,253 411,252.5 409,251.4 407.5,251 406,250.5 404,250 402,249.7 400.4,249 399,248.6 397,248.4 395,247.6 393.6,247 392.8,246 392,245 390,244.2 388,243.5 386.5,243 385,242.4 384.1,241 383.2,240 382,239.7 380,239.1 378,238.5 376,237.4 374,236.6 372.4,236 371,235.3 369,234.4 367,233.4 365.7,233 364,232.1 362,231.1 361,230.4 360,229.6 359,228.7 359,227.5 360,226.1 361,227.2 363,227.8 365,228.6 367,228.7 369,229.6 370.4,230 372,230.3 373.6,231 375,231.2 376,230.2 377,229.1 377.6,231 379,232.1 380,231.2 380.2,230 379,229.3 377.6,229 377.6,227 376.7,226 375.4,225 374,224.2 372,223.4 370,222.6 368.5,222 367,221.4 365.3,221 364,220.7 362,220.2 360.7,219 361,217.4 361.8,217ZM358,225 358,225Z" fill="#1c6ab0" fill-rule="evenodd"/>
<path d="M372.1,221 374,220.9 376,221.9 377,222.6 375,222.6 373,222.1 372.1,221ZM475.2,223 477,222.8 479,222.8 481,222.8 483,222.7 485,222.7 487,222.9 489,223 491,222.9 493,223 495,223.6 497,223.7 499,223.8 501,223.9 503,224 505,224.2 507,224.6 509,224.9 511,225.1 513,225.3 515,225.7 516.4,226 518,226.3 520,226.7 521.5,227 523,227.4 525,228 527,228.5 529,229 531,229.6 532.9,230 534,230.5 535.8,231 537,231.6 539,232.7 541,233.8 542,234.7 543,235.8 544,237 544.7,238 545.8,240 546.6,242 547,243.7 547.4,245 547.8,247 548.1,249 547.9,251 547.4,253 547,254.2 546.3,256 545.4,258 544.3,260 543,261.8 542.1,263 541.3,264 540.2,265 539,265.7 537,266.8 535,267.6 533,268.3 531,268.7 529,268.9 527,268.9 525,268.8 523,268.4 521,268.2 519,267.7 517,267.1 515,266.6 513,266 511,265.5 509,265 507,264.6 505,264.2 503.6,264 502,263.6 500,263.3 498.6,263 497,262.8 495,262.6 493,262.4 491,262.1 489,262.1 487,262 485.1,262 483,261.9 481,261.9 479,261.8 477,261.9 475,261.7 473,261.7 471,261.6 469,261.5 467,261.3 465,261.3 463,261.1 461,260.7 459,260.6 457,260.3 455,260.1 453,259.8 451,259.7 449,259.3 447,259.1 445.4,259 444,258.5 442,258.1 440.6,258 439,257.4 437.3,257 436,256.6 434,256.3 432,255.6 430.1,255 428,254.2 426,253.6 424.1,253 422,252.5 420,252 418,251.4 416,251.1 414,250.4 412,250 410,249.1 408.3,248 407,247.2 405,246.7 403,246 401,245.3 399,244.9 397,244.3 395,243.6 394,242.7 393,241.8 391,241 389,240.5 387.4,240 386,239 387,237.6 389,237.1 391,236.6 392,236 393,234.2 392.5,233 391,232.2 389,231.3 387,230.3 385,229.3 383,228.2 382,227.5 381,226.3 382,225.3 384,225.6 386,226 388,226.5 390,226.7 391.4,227 393,227.4 395,228 397,228.6 399,228.9 401,229.4 403,229.3 405,229.2 407,229.5 409,229 410.5,229 412,229.2 414,229.1 416,228.3 418,227.7 420,227.7 422,227.4 424,227.3 426,227.4 428,227.3 430,227.3 432,227.1 434,226.8 436,226.6 438,226.4 440,226.3 442,226.2 444,225.7 446,225.5 447.9,225 450,224.7 452,224.6 454,224.4 456,224.2 458,223.9 460,223.8 462,223.7 464,223.6 466,223.7 468,223.7 470,223.4 472,223.3 474,223.1 475.2,223Z" fill="#1561a9" fill-rule="evenodd"/>
<path d="M474.7,224 476,223.9 478,223.9 480,223.9 482,223.8 484,223.7 486,223.7 488,223.8 490,223.9 492,223.8 494,224.3 496,224.7 498,224.7 500,224.7 502,224.8 503.4,225 505,225.2 507,225.5 509,225.7 511,225.9 513,226.3 515,226.7 517,227 519,227.4 521,227.8 523,228.2 525,228.9 527,229.3 529,229.9 531,230.4 533,230.9 535,231.5 537,232.5 538.2,233 540,234 541,234.8 542,235.7 543,236.7 544,237.9 544.7,239 545.7,241 546.3,243 546.9,245 547.4,247 547.6,249 547.4,251 547,252.9 546.3,255 545.3,257 544.3,259 543.1,261 542.2,262 541.4,263 540.5,264 539.1,265 538,265.5 536,266.4 534.1,267 532,267.7 530,268 528,268.1 526,268.2 524.3,268 523,267.7 521,267.4 519.2,267 518,266.5 516,266 514,265.5 512,265.1 510,264.5 508.1,264 506,263.6 504,263.2 502,262.6 500,262.3 498.6,262 497,261.7 495,261.5 493,261.3 491.3,261 490,260.9 488,260.7 486,260.7 484,260.4 482,260.5 480,260.4 478,260.2 476.5,260 475,259.7 473,259.7 471,259.6 469,259.5 467,259.5 465,259.8 463,259.9 461,259.6 459,259.5 457,259.3 455,259.1 453,258.5 451,258.3 449,257.7 447,257.3 445,256.6 443,256.2 441,255.6 439,255.2 437,254.4 435,253.8 433,253.5 431,252.7 429.1,252 428,251.5 426,251 424,250.5 422.1,250 420,249.3 418,248.4 416,248 414,247.3 412.6,247 411,246.3 409,245.7 408,244.9 407,243.8 405.5,243 404,242.2 402,241.3 400,240.8 398.1,240 397.3,239 397.2,237 396.3,235 397.3,234 399,233.4 401,232.2 402.9,232 405,232.5 407,232.4 409,231.4 411,231.8 413,232.3 415,232.3 417,232 418,231.2 419,230.3 421,230.4 422,229.6 423,228.9 425,229 427,228.9 429,228.8 431,228.8 433,228.7 435,228.6 437,228.4 439,228 441,228 443,227.8 445,227.3 446.9,227 448,226.3 450,225.7 452,225.5 454,225.4 456,225 458,224.8 460,224.8 462,224.6 464,224.6 466,224.6 468,224.6 470,224.4 472,224.2 474,224.1 474.7,224Z" fill="#0e58a2" fill-rule="evenodd"/>
<path d="M473.2,225 475,224.9 477,224.9 479,224.9 481,224.9 483,224.8 485,224.9 486.6,225 488,225 490,225.2 492,225.3 494,225.6 496,225.8 498,225.9 500,226.1 502,226.3 504,226.5 506,226.8 508,226.8 509.2,227 511,227.4 513,227.7 514.8,228 516,228.3 518,228.4 520,229 522,229.4 524,229.9 526,230.4 528,230.9 530,231.4 532,231.9 534,232.5 535.2,233 537,233.8 539,234.9 540.8,236 542,237 543,237.9 543.9,239 545,241 545.6,243 546.3,245 546.8,247 547,249 546.9,251 546.4,253 546,254.3 545.1,256 544.1,258 543.1,260 542.2,261 541.2,262 540.2,263 539,263.7 537,264.8 535,265.5 533.1,266 531,266.5 529,266.8 527,266.8 525,266.9 523,266.4 521,266 519,265.5 517,265.1 515,264.6 513,264.5 511.3,264 510,263.6 508.1,263 506,262.5 504,262.1 502,261.2 500.5,261 499,260.6 497,260.2 495,260.2 493,260.3 491.5,260 490,259.8 488,259.6 486,259.5 484.2,259 483,258.9 481,259.1 479.1,259 477,258.8 475,258.5 473,258.3 471.4,258 470,257.7 468,257.7 466,257.6 464,257.3 462,257.2 460,257.1 458,257 456,256.6 454,256.5 452,256.5 450,256.1 448,255.8 446,255.4 444,255.1 442,254.5 440,254.1 438,253.4 436.7,253 435,252.5 433,252.1 431,251.4 429,250.3 427,249.4 425.8,249 424.1,248 423,247.4 421.7,247 420,246.4 418,245.6 416,245.3 414.6,245 413,244.3 411,243.4 409,242.5 407,241.2 406.2,240 405.5,239 404.7,238 403.1,237 402,236.2 403,235.2 405,235.2 407,234.4 409,234 411,234.2 413,234.2 415,234.2 417,234.3 418.8,234 421,233.8 423,233.3 425,232.4 427,232 429,231.7 431,231.3 433,230.8 435,230.7 437,230.2 438.4,230 440,229.7 442,229.4 444,229.1 446,228.8 448,228.6 449.9,228 451,227.5 453,227.2 455,227.1 457,226.6 459,226.3 461,226.2 463,226 465,225.8 467,225.7 469,225.5 471,225.3 473,225 473.2,225Z" fill="#08509b" fill-rule="evenodd"/>
<path d="M472.3,226 474,225.8 476,225.8 478,225.8 480,225.7 482,225.7 484,225.7 486,225.8 488,225.9 489.8,226 491,226.1 493,226.4 495,226.5 497,226.6 499,226.9 501,227.1 503,227.3 505,227.7 507,227.9 508.6,228 510,228.4 512,228.7 513.7,229 515,229.4 517,229.7 519,229.9 521,230.6 523,231 525,231.7 527,231.8 529,232.6 531,233 533,233.8 535,234.6 537,235.5 539,236.7 540,237.5 541,238.5 542,239.5 543,240.7 543.9,242 545,244 545.8,246 546.1,248 546.1,250 546,251.8 545.4,253 544.4,255 543.3,257 542.1,259 541,260 540,260.9 539,261.8 537,262.7 535,263.8 533,264.4 531,265 529.3,265 528,265 526,264.7 524,264.6 522,264.5 520,264.1 518,263.9 516,263.4 514,263.2 512.7,263 511,262.3 509.5,262 508,261.4 506,260.3 504,260.2 502.6,260 501,259.6 499,259.2 497.5,259 496,258.9 494,259 492,258.9 490,258.7 488,258.6 486,258.3 484.6,258 483,257.7 481,257.5 479,257.3 477.2,257 475,257 473,256.7 471,256.4 469,256.3 467,256.2 465,255.8 463,255.7 461,255.5 459,255.4 457.6,255 456,254.5 454,254.5 452,254.1 450,253.8 448,253.4 446.5,253 445,252.5 443,252 441,251.5 439.5,251 438,250.5 436,249.7 434.5,249 433,248.4 431.5,248 430,247.2 428,246.7 426.2,246 425,245.3 423.4,244 422.3,243 421,242 420,241.1 419.3,240 418,238.2 419,236.1 421,235.6 423,235 425,234.3 427,233.5 429,233 431,232.9 433,232.3 435,232.1 437,231.5 439,231.2 441,230.6 443,230.4 445,230.1 447,229.7 449,229.5 450.8,229 452,228.6 454,228.2 455.3,228 457,227.7 459,227.5 461,227.3 463,227.1 465,226.9 467,226.7 469,226.6 471,226.4 472.3,226Z" fill="#08478d" fill-rule="evenodd"/>
<path d="M478.5,227 480,226.8 482,226.8 484,226.8 486,226.8 488,226.8 490,226.9 491.4,227 493,227.2 495,227.3 497,227.5 499,227.8 500.4,228 502,228.1 504,228.4 506,228.8 508,228.8 510,229.5 512,229.8 513.3,230 515,230.6 517,231 519,231.5 521,232 523,232.8 525,233.1 527,233.6 528.2,234 530,234.6 532,235.4 533.4,236 535,237 536,238 537,238.8 538,239.5 539,240.3 540,241.2 540.9,242 542,243 543,243.8 543.9,245 544.7,247 544.8,249 544.7,251 544,252.9 543,255 542.1,257 541,258 539,258.9 537,259.8 535,260.5 533.6,261 532,261.5 530,262 528,262 526,261.6 524,261.4 522.5,261 521,260.7 519,260.6 517,260.1 515,260.1 513,259.9 511,259.5 509,259.5 507.4,259 506,258.7 504,258.5 502,258.2 500,258.1 498.5,258 497,257.8 495,257.6 493,257.4 491,257.4 489,257.3 487.3,257 486,256.9 484,256.5 482.6,256 481,255.7 479,255.4 477,254.6 475,254.4 473,253.6 471,253.1 469,252.3 467.5,252 466,251.7 464,251 462,250.7 460,250 458,249.5 456,249.2 454,248.8 452,248 450,247.6 448,247.2 446,247 444,246.8 442,246.5 440,246.1 438,245.5 436.5,245 435,244.5 433,243.5 431,242.6 430,241.9 429.9,240 429.8,238 428.5,237 428.2,235 430,234.4 432,234.1 434,233.8 436,233.5 438,233.1 439.3,233 441,232.7 443,232.5 445,232.4 447,232 449,232 451,231.7 452.2,231 453,230 455,229.3 456.7,229 458,228.8 460,228.7 462,228.6 464,228.5 466,228.2 468,228.1 470,227.8 472,227.5 474,227.1 476,227.1 478,227.1 478.5,227Z" fill="#083d7f" fill-rule="evenodd"/>
<path d="M483,231 485,231 487,230.8 489,230.5 491,230.5 493,230.5 495,230.5 497,230.8 498.8,231 501,231 503,231 505,231.5 507,232 509,232.4 511,232.9 513,233.5 515,234 517,234.3 519,235 521,235.5 523,236.4 525,236.8 527,237.5 528.9,238 531,238.9 533,239.9 534,240.6 535,241.3 536.7,242 537.8,243 538.7,244 539.5,245 540.2,246 541,247.9 541.9,250 542.6,252 542.3,254 541.6,255 540.7,256 539,257 537,257.4 535,257.8 533,258 531,257.9 529,257.5 527,257.5 525,257.5 523,257.7 521,257.5 519,257.7 517,257.7 515,257.7 513,257.5 511,257.4 509,257.4 507,257.4 505,257.1 503,256.1 502,255.3 500,254 498,253 496,252 494,251 493,250 492,249 490,248 488,247 486,246 484,246 482,245.3 480,245 478,244.8 476,244.3 474.7,244 473,243.5 471,243 469,242.8 467,242.2 465.5,242 464,241.6 462,241 460,241 458,241 456,241 454,241 452,241 450,240 452,240 453,239 455,239 457,239 458.3,238 459,236.6 459.4,235 460.6,234 462,233.3 464,233.2 466,233.3 468,232.5 470,232.5 472,232.2 474,231.9 476,231.5 478,231.5 480,231.2 482,231 483,231Z" fill="#083471" fill-rule="evenodd"/></g>
<path d="M362.5,89.5L358.9,90.4 359.2,93.1 358,95.4 356.2,98 353,98.9 353.3,100.8 351.3,102.7 350.7,103.7 348.6,106.9 348.1,107.5 348.1,111.8 345,111.7 342.4,113.9 344.4,116.2 341,117.3 339,119.3 337.6,122 336.7,123.3 334.7,124.6 332.3,126.6 330.9,128.2 330,130 326.5,131.5 324,134.5 320.8,136.7 319.3,139.2 316,141 314.3,142.9 311.7,144.2 309.8,145.8 307.5,148.2 305.8,149.2 304,152.8 304.2,153.6 303.3,156.7 301.9,158.2 301.4,160.2 301.2,162.3 299.2,165 296.3,166.5 295.5,169.3 297.1,172 294.1,173 294.2,175.8 294.2,178.4 291.3,181.3 291.9,183.8 288.3,185 287,187.4 285.9,188.6 283.1,191.3 282.5,193.3 280.9,196 280.9,200.9 280,201.7 278.5,204.1 278.2,207.1 278.4,208.8 276.7,211.7 275.3,212.8 274.4,217.2 274.5,218.3 273.7,221.7 273.8,224.5 275,226.7 275,230 277,230.1 278.5,234.7 281.7,235 281.5,236.6 285.2,238.5 286.7,240.8 287.3,242.8 289.2,245 288.1,247.2 285.3,249.3 285.8,251.7 284.5,254 284.9,257.8 284.2,260 286.6,262.1 287.5,265 287.4,268.5 285.8,270 284.4,270 285.6,273.7 284.7,274.9 285,277.5 286.5,278.8 286.8,282 287.5,285 288.2,285.6 288.8,289.2 290.6,291.3 292.3,295.2 292.5,297.5 293.4,300.5 294.4,303.8 294.3,307.2 295.6,310 297,312.4 298.8,313.8 302.4,314.8 301.7,315.1 305,316.9 305.4,317.3 309.4,320 310,321.3 310.6,324.4 313.8,326.3 315.2,329.1 314.4,332.5 311.9,334.7 310.6,337.5 309.9,340.5 308.8,342.5 310.4,346 311,348.7 310.6,350 311.6,351.2 311.4,355.3 311.9,357.5 311.8,360.8 312,361.7 312.5,365 313.3,368.1 311.9,370.8 311.3,372.5 312,375.3 308.7,376.9 310.6,380 310.8,381.7 312,386 312.5,387.5 312.5,389 315.1,392.1 313.8,395 313.2,397.7 315,399.4 315,402.5 316,405.2 315.6,408.8 315.8,412.1 317.5,415 317.3,417.2 316.1,420.5 315,423.3 316.8,425.2 314.9,428.3 313,431.4 312.5,433.3 311.8,436.4 309.8,436.8 307.5,439.7 307,442.5 305,443.3 304,446 303.6,447.1 299.7,447.8 298.4,452 298.3,452.5 295.4,455.5 294.4,457.8 291.7,458.3 290.6,459.6 287.6,461.2 286,462 283.9,465.3 280.5,465.5 280,466.7 276.9,467.9 276,468.7 273.6,468.3 271.6,470.2 268.3,471.7 266.3,472.7 261.1,472.7 261,475.5 258.3,475 256.5,476 252.9,477.9 253.6,477.5 250,478.3 247.9,478.2 246.9,483.1 244.8,483.1 242.7,482.5 241.4,483.5 238.3,485.8 236.5,487.9 235.8,489.9 233.7,490.8 231.7,493.3 228.9,495.6 227.8,496.7 226.7,500 224.1,501.3 222.2,502.2 220.9,505.2 220.8,506.7 219.9,510.9 218.3,511.7 214.5,511.7 214.1,512.6 210.8,513.3 208.6,516.4 206.6,515.7 205,518.3 202.2,520.5 201.9,520.9 199.1,524.4 198.3,525.8 197.1,526.7 195.5,529.2 191.8,530 191.7,531.7 189.6,532.9 186.7,535 182.4,532.7 181.7,530.8 183.6,535.1 184.2,536.7 182,541.2 182.6,542.2 184.2,544.5 183,545 182.5,548.3 185.1,550.2 186.7,553.3 185.9,557.9 190,559.3 190.8,560M362.5,89.5L360.7,92 361.4,93.5 359,92.8 357.8,93.5 355.4,96.6 354.8,97.8 354.4,100.9 353.3,100.8 353.3,102.1 352.1,102.9 349.9,105.6 348.2,106 347.1,107.7 348.3,108.4 346.2,109.7 345,111.7 343.1,112.2 344,116.4 342.3,115.5 341.4,117.2 340.4,119.2 339,120.9 337.3,121.5 336.7,123.3 334,124.3 332.9,125.9 331.9,127.4 331.7,127.6 330,130 327.6,130 326.5,131.5 325.8,134.3 324,134.5 323.1,135.3 320.8,136.7 320.3,137 318.7,139.1 316,141 312.4,144.1 314.3,142.3 311.7,144.2 310.4,145.3 308.8,145.6 306.8,148.3 305.8,149.2 305.3,152 304.6,154.7 303.4,155 303.3,156.7 301,157.4 302.7,159.3 301.2,161.6 299.2,163.1 299.2,165 298.1,166.2 298.3,168.6 296.6,168.9 296.6,171.1 296.4,174.7 295.6,174.2 294.2,175.8 293.1,176.7 291.5,178.1 290.9,180.1 290.8,181.6 289.1,182.5 288.3,185 288.4,187 287.3,188.9 286,189.8 284.2,193.7 282.5,193.3 281.1,195.9 282.8,197 281.6,199.3 280,200.3 280,201.7 278.8,202.8 278.4,204.9 278.5,207.1 276.7,209.9 278.2,210.6 276.7,211.7 275.9,213.3 276.1,215.4 273.9,217.3 277,216.9 275,220.3 273.7,221.7 273.9,224.9 273.4,226 275.8,227.8 275,230 276.3,231.3 278,233.7 279.3,234.4 281.7,235 282,237 284.1,235.9 285.4,238.5 286.7,240.8 287.6,244.1 289.2,245 287.5,245.8 288.6,248.4 287.9,250.3 285.8,251.7 284.7,253.7 286,256.6 284.6,258 284.2,260 285.2,261.2 287.9,263.3 287.5,265 286,266.3 286.9,268.8 285.8,270 284.4,270 284.4,271.3 284.7,272.4 283.8,276.3 285,277.5 285.2,279.7 287.2,281.8 286.9,284.8 287.5,285 288.8,286.3 289.6,288.5 289.2,289.8 290.6,291.3 291.1,291.8 291.7,295.2 292.5,297.5 292.8,298.3 293.5,301.7 294.4,303.8 294.9,305 295.7,307 295.6,310 297,312.9 298.8,313.8 299.8,314.2 302.7,315 303.2,316.3 305,316.9 307.5,316.6 307.7,319 310,321.3 310.4,322.3 311.9,324.9 313.8,326.3 313.3,328.5 314.5,329.9 314.4,332.5 313.2,335.4 312.1,335.3 310.6,337.5 309.9,338.4 309.6,341.5 308.8,342.5 308.6,344.2 310.6,345.9 310.3,347.3 310.6,350 310.3,351.5 312.9,353.4 311.2,355.2 311.9,357.5 311.9,359.9 312.3,362.8 312.5,364.2 312.5,365 312.4,367.3 310.8,368.7 311.5,370.4 311.3,372.5 309.5,375 310.7,375.9 310.6,378 310.6,380 311.4,380.9 310.8,384 312.1,385.3 312.5,387.5 312.4,388.7 313.1,392.2 312.7,394.3 313.8,395 314.7,396.5 315,397.6 313.4,399.6 315,402.5 314.9,404.4 315,406.8 315.6,408.8 314.6,411.2 315.8,412.4 317.5,415 316.7,415.8 315.5,417.6 316,420.4 315.9,420.9 315,423.3 314,424.3 314.5,425.1 314.7,427.9 312.7,430.2 313.7,431.9 312.5,433.3 312.2,434.8 311.3,437.1 309.2,438.7 308.3,439.1 306.4,440.2 306.7,440.9 305,443.3 304.4,445.1 303,444.7 301.6,448.4 299.9,449.5 297.6,451.5 298.3,452.5 296.5,454.3 294.3,455.3 294.2,456.6 292.3,456.7 291.7,458.3 292,458.7 288.2,460.2 286.5,462.4 287.2,462 283.1,464.4 283.8,465.2 282.3,465 280,466.7 278.2,466.4 275.6,468.9 274.5,470.6 273.4,469.1 272.3,471.6 270.3,470.1 268.3,471.7 266.9,473.3 264.6,472.2 264.1,473.5 260.8,473.6 259.4,474.7 258.3,475 256.7,476.5 255.5,475.1 253.6,477.7 252,478.4 250,478.3 248.1,478.5 247.8,479.4 244,481.9 243.6,481.8 241.6,482 240.3,483.6 240,483.1 238.3,485.8 237.6,486.4 234.8,489.3 234.3,489.1 234.4,491.1 231.7,493.3 230.6,495.1 230.3,496.3 228.7,497.8 226.7,500 226.4,500.8 224.1,504.1 223.4,504.1 223.7,505.6 220.8,506.7 219.3,508.9 218.2,510.9 218.3,511.7 217.3,511.7 214.1,512.6 212.7,512.2 210.8,513.3 209.8,513 207.6,515.5 206.2,517.3 205,518.3 202.7,520.3 202.2,520.8 199.9,521.9 199.9,523.6 198.3,525.8 197,527.8 196.4,529.4 194.1,528.5 193.8,530.8 191.7,531.7 190.9,532.8 189.3,534.5 186.7,535 185.6,534 183.7,532.4 181.7,530.8 182.7,533.5 183,536.1 184.2,536.7 183.8,539.4 183.6,540.4 184.9,542.3 182.1,543.9 182.5,548 182.5,548.3 184.1,550.7 184.5,551.9 186.7,553.3 188.2,556.4 188.2,557.1 190,557.5 190.8,560M190.8,560L191.1,562.7 190.7,565.7 191.7,568.3 193.1,570.3 193.8,572.9 195.5,574.9 196.7,576.7 197.3,578.8 197.2,581.1 197.1,583.3 197.2,585.9 197.4,587.7 197.5,590 200.8,591.7 200.7,594.6 200.5,597.1 200.8,600 201.5,602.3 202.2,604.8 203,607.5 203.1,610.2 202,612.1 202,614.5 200.8,616.7 200.3,619.1 199.9,621.8 199.3,624.3 198.5,626.2 198.3,628.3 201.7,630.8 200.8,633.8 200.5,635.8 200,638.3 198.6,640.9 196.3,642.7 195,645 192.5,646.3 190.8,647.4 188.6,648.6 186.7,650 184.2,651 182.7,651.1 180,652.4 177.9,653 175.5,653.9 173.3,655 171.3,656 168.8,657 166.6,657.4 164.6,659 162.2,660.1 160,660.8 158,661.7 155.1,663.6 153.4,664.1 150.3,665.3 148.3,666.7 146,668.2 143.9,670.2 141.7,672.5 140.5,675.3 139.8,677.5 139.2,680 137.3,681.1 135,681.7 136,683.6 137,686.1 138.3,687.5 141,688 143.3,689.2 143.9,686.9 144.6,684.7 145,681.7 145.3,683.9 144.7,686 144.6,688.7 145.2,691 144.2,693.3 143.4,695.4 143.9,697.6 143.4,700.2 143.6,702.6 143.3,705 142.4,707.6 141.8,709.5 140.9,711.8 140.9,713.9 140,716.7 139.5,719.2 138.9,721.4 138.2,724.1 138.3,726.1 137.5,728.3 136.1,730.8 136.1,734.4 135,736.7 134.3,739.8 133.2,742.2 132.5,745 130.6,747.1 128.2,749.1 126.7,750.8 125,751.7 122.1,753.4 120.2,753.8 118.3,755.8 116.9,757.7 114.9,760.2 113.4,761.2 111.7,763.3 110.1,765.1 108.1,767.6 106.5,769.5 105,771.7 104.4,774.5 103,776.9 101.7,779.2 100.6,781.9 99.2,784.3 97.7,785.9 96.7,788.3 95.2,790.3 94.6,792.9 93.2,794.6 92.1,796.4 90.8,798.7 90,800.8 88.1,802.9 87.3,804.7 85.6,806.5 85.1,808.5 83.7,811.1 81.7,812.6 80.5,815M502.5,355.6L502.6,360.1 498.8,359.8 498.8,362.5 498.3,365.1 495,366.9 498.2,368.5 497,369.9 496.9,373.8 498.6,375.4 492,378.6 493.8,381.3 493.3,386.3 493.1,386.3 489.9,387.2 487.5,388.1 487.7,392.4 486.3,392.5 484,395.4 481.9,395.6 480.4,393.7 477.5,392.5 475.8,393.8 473.8,395 473.9,399.1 476.3,400 474.5,404 477.5,404.9 476.3,407.5 472.8,409.1 471.3,411.3 470.7,414.1 468.8,415 467.9,418.8 466.3,420 463.7,422.8 462.5,425 458,427.2 457.5,427.5 457.1,429.5 456.3,432.5 455.3,435.3 451.3,436.3 445.5,435.3 445.2,435.6 445,433.1 446.6,434.3 441.8,436.6 440,438.8 441.4,442.7 441.9,445 441.3,442.5 439.3,441.3 435,441.3 432.9,442.2 430,440 428.9,440 425,441.9 423.8,443.8 421.5,445.6 417.7,445 418,445.4 415,445 413.8,449.2 411.3,449.4 409.4,451.1 406.3,450.6 404.3,452.7 398.4,451.9 398.1,450 397.2,452.8 396.9,456.3 395.6,456.4 396.9,461.3 395.3,462.4 395.3,463.4 395.4,467.7 392.1,468.4 391.3,471.3 388.8,472.3 387.7,476.3 386.9,478.8 386.7,479.5 386.9,483.8 387.2,485 388.4,491 388.8,491M502.5,355.6L502.3,357 498.7,357.4 497.8,361.6 498.8,362.5 496.6,364 495.5,365.5 495,366.9 497.1,367.8 495.6,369.4 497.4,370.9 496.9,373.8 494.8,374.1 493.7,378.1 497.6,378.3 493.8,381.3 494.6,384.1 493.1,386.3 489.9,386.6 489.1,386.7 487.5,388.1 489.2,388.1 486.3,392.5 485.3,393.9 482.7,394.7 481.9,395.6 481.5,394.7 479.5,394.3 477.5,392.5 473.3,395.5 473.8,395 477.3,397.8 476.7,396.7 476.3,400 476.2,400.9 475.6,404.9 475.4,405.5 476.3,407.5 472.4,408.6 473.1,409.2 471.3,411.3 469.2,415.4 468.8,415 466.6,415.4 466.2,419.7 466.3,420 467.5,422.1 462.9,422.8 462.5,425 462.1,424.8 460.9,428.3 457.5,427.5 457.2,429.9 457.6,432.7 456.3,432.5 453.4,435.1 452.5,434.1 451.3,436.3 449.8,435.2 447,432.8 445.5,435.6 445,433.1 446,435.3 443.9,435.3 441.2,437.7 440,438.8 439.4,439.7 441.4,442.6 441.9,445 438.9,444.5 438.1,444.3 436.7,441.9 435,441.3 433.5,440.7 430.9,440 430,440 429.3,441.7 428.4,439.9 424.9,442.4 423.8,443.8 422.2,443.5 419.7,445.2 418.7,443.2 418.3,445.9 415,445 413.1,447.4 411.7,449.3 411.3,449.4 409.4,448.9 407.5,449.3 406.3,450.6 404.5,450.7 402.2,449.6 395.9,450.3 398.1,450 395.5,452.4 398.6,454.5 396.9,456.3 396.4,458.6 396.9,461.3 395.8,462.3 394.4,463.6 395.5,466.3 394.3,467.7 392.3,469.4 391.3,471.3 391,473.8 389.8,473.5 387.7,477.7 387.5,477 386.9,478.8 388.6,482.6 386.9,483.8 388,485.1 390.6,487.9 389,489 388.8,491M388.8,491L388.4,492.8 388.9,495.6 388.7,497.4 388.8,500 389.4,502.1 390.5,504.7 392.4,507.4 393.1,508.8 393.4,511.1 392.8,512.8 393.1,516.3 394.2,518.1 395.9,520.2 397,522 398.1,523.8 397.9,527.1 397,529.5 396.9,532.5 397.4,535.8 398.8,538.1 397.9,540.6 395.9,542.8 395,545 393.5,546.7 392,548.5 390.6,550 389.4,552.4 388.6,554.1 387.5,556.3 386.2,558.7 385,561.3 384.3,564.3 383.1,567.5 380.4,568.3 377.5,569.4 376.7,572 376.4,574.2 376.3,576.3 375.2,577.9 373.5,580.3 372.5,582.5 371.6,584.6 371.5,587.4 370.6,590 371,592.1 371.3,594.2 371.6,596.8 371.9,598.8 372.9,601.2 373.6,603.9 375,606.3 376.6,607.9 377.7,609.8 379.4,611.3 380.7,614.3 380.6,617.5 382,620.1 383.1,622.5 380.5,623.8 379.4,625 379.5,627.9 379.9,629.8 380.2,632.5 380.6,635 381.1,637.5 381.4,639.9 382.7,643.1 383.1,645 384.6,647 386,649.1 387.3,650.9 388.1,652.5 388.7,655.4 389.4,658.1 391.5,659.9 393.6,661.2 395.6,663.1 397.7,663.5 400.5,664.4 403.8,665 406.3,666.4 408.8,668.8 411.5,670.8 413.8,672.3 416.5,672.5 419.8,671.4 421.9,671.5 424.5,669.9 426.6,668.3 428.8,666.3 430.7,665.1 432.7,663.9 435,663.1 438.1,661.8 441.3,661.3 443.8,661.9 446.9,662.1 449.7,660.6 452.5,658.8 454.1,656.7 456.9,655 457.5,652.5 458.3,650.3 459.2,647.5 460,645 461,642.1 461.9,638.8 462.8,636.6 464.1,633.8 465,631.3 465.6,629.3 466.6,627.2 467,625 467.5,622.5 468.2,620.7 468.7,617.5 469.8,616 470,613.8 470.5,611.2 471.4,609.4 472.5,606.3 472.8,603.6 473,601.8 473.5,599.4 473.1,597.5 473.2,595.3 474.6,593 474.9,591.1 476.3,588.8 477.7,586 478.5,584.2 479.8,582.3 480,580 480.6,577.8 481.4,574.8 482.1,572.3 482.5,570 483,568.1 484.5,564.8 485.6,562.5 486.3,559.5 486.4,557.4 487.3,555 488.1,552.5 489.3,549.9 489.9,547.7 490.6,545 491.1,542.8 492,540.7 493.1,538.1 493.8,533.8 494.6,531.6 494.6,529.4 495.4,527.4 496.3,525 497,522.3 498.1,520.2 498.4,517.8 499.4,515 500.2,512.4 501.3,509.8 502,507.5 503.1,505 504.5,502.9 504.9,500.5 505.9,497.6 506.9,495 507.8,492.6 508.9,490.1 508.4,487.9 509.4,485 508.6,482.4 508.1,480M508.8,483.8L507.7,481.9 508.7,479.6 508.6,477.7 508.1,475 508.9,472.8 509.5,469.9 510.6,467.5 512.2,465.8 512.7,463.9 514.4,461.9 515.6,458.9 516.9,456.3 516.4,453 515.6,450 514.2,446.6 513.8,443.8 513.7,441 512.6,439.4 511.9,436.9 513.1,433.8 516.9,433.1 518.8,436.3 519.8,438.4 520.4,441.3 521.3,443.8 525,445.6 526.5,443.1 527.2,441.4 528.8,438.8 529.6,436.7 529.5,434.5 530.2,432.5 530.6,430 529.6,427.5 529.4,424.7 528.8,422.5 527.9,420.3 526.8,418.3 525.5,416 525,413.8 524.7,411.7 524.4,409 523.1,407.3 523.1,405 523.1,403.1 523,399.7 522.9,397.2 522.5,395 521.4,393.3 521.3,390.2 520.8,388 520,385 519.2,383.2 517.8,380.2 517.7,378.9 516.3,376.3 515.2,374.5 513.8,372.3 513,370.9 511.3,368.8 510.2,367 509.1,365.2 507.8,362.8 506.3,361.3 505.2,360.1 503.6,357.5 502.5,355.6M121.8,89.5L121.7,92.9 120.6,93.5 119.3,97.5 119.2,98.8 117.7,102.3 117.6,104.7 117.4,106.3 120.6,109.4 119.2,110.6 119.3,113.8 118.4,115.8 118,118.7 118,122.5 116.8,124.8 115.9,126.4 115,130.4 115.5,132.5 115.7,135.8 116.7,137.2 116.1,140 118.2,141.3 119.3,145 121.1,148.5 119.3,150 121.6,147.8 124.3,147.5 125.8,143.5 126.1,143.1 128,140 130.6,139 133,138.8 135.7,140.5 136.8,143.8 139.5,144.7 141.8,146.3 140.7,149.2 140.1,152.8 140.5,153.8 142.5,154.1 145.5,151.3 144.2,149.3 143.7,145.2 144.3,143.8 146.9,143.1 149.3,141.3 150.8,143.5 154.3,143.8 156.2,142.6 159.6,141.7 161.8,140 161.6,139.4 164.3,136.3 160.5,135 158.9,135.5 155.5,135.3 154.3,137.5 151.1,137.1 149.8,134.9 148,135 145.7,135 144.3,132.5 145.9,130.2 148,128.8 151.6,130 153,130 155.5,131.3 155.5,128.2 157.6,126.7 159.5,125.1 160.5,122.5 162.8,121 163.9,117.4 166.8,117.5 167.6,114.6 168.8,112.9 169.6,110.1 171.8,108.8 171.2,106.7 170.3,104.8 170.2,101.4 169.9,100 171.8,99.8 173.1,97.6 175.5,95 178.8,96.7 179.2,97.6 182.2,96.2 184.3,96.9 186.8,93.8 184.7,92.7 183,90.6 179.9,91.4 176.8,92.5 175.7,90.9 171.8,91.1 170.5,89.5M121.8,89.5L121.7,92.3 119.8,94.3 120.3,96.8 119.3,97.5 118,99.4 118.3,99.9 117.6,103.6 117.4,104 117.4,106.3 118.5,108.9 119.1,109.5 118.8,112.7 119.3,113.8 118.6,115 119.4,118.4 117.7,117.1 117.2,120 118,122.5 117.5,124.6 117.1,125.3 116.9,126.8 116.3,128.7 117.8,131.4 115.5,132.5 115,133.7 115.5,135.1 115.4,137.6 116.1,140 117.8,141.4 117.7,142.4 119.3,145 118.5,147.5 119.3,150 120.8,150 122.2,149.1 124.3,147.5 125.4,145.6 124.7,142.8 127.6,142.9 128,140 129.8,140.1 131,138.9 133,138.8 133.8,141.2 135.8,142 136.8,143.8 138.2,145 140.4,144.9 141.8,146.3 142.7,148.4 141.2,151.1 141.6,151.9 140.5,153.8 142.6,152.2 143.4,150.5 145.5,151.3 146.1,148.1 145.4,147 143.9,145.5 144.3,143.8 146.2,143.4 148.9,142.4 149.3,141.3 151.6,141.7 153.1,143.1 154.3,143.8 155.8,142.8 158,142 160.2,140.6 161.8,140 162.5,138.7 164.3,136.3 161.2,135.2 160.5,135 159.6,133.9 155.9,137.2 154.3,137.5 151,138.5 148.2,136.9 148,135 147.3,134.4 144.3,132.5 145.4,131.5 146.1,130.6 148,128.8 149.1,129.2 152.5,129.2 153.4,130.8 155.5,131.3 155.5,130.4 157.7,126.7 158.5,125.5 159,124.3 160.5,122.5 161.6,121.9 163.1,120.7 165.2,119.4 166.8,117.5 167.4,115.4 168,114.4 170.5,113.8 171.7,110.7 171.8,108.8 171.3,107.3 171,106.3 171.3,102.9 169.8,102.7 169.9,100 171.5,98.6 173.6,97.2 173.9,95.9 175.5,95 175.8,96 178.1,95.4 180.2,96.7 182.5,96.5 184.3,96.9 184.3,95.3 186.8,93.8 183.8,92.4 183,90.6 181.2,91.2 180.3,92.2 176.8,92.5 175.7,91.9 173.5,91.7 172.9,89.3 170.5,89.5M80.5,230.7L82.5,232.6 84.1,234.3 84.8,235.3 87.6,237.5 87.9,239.3 90.1,240.8 90.4,242.6 90.1,245.2 91.5,248.3 91.7,250.9 92.5,252.5 92.7,255.8 93.7,257.6 94.3,259.9 95.9,262.2 96.4,264.2 98.9,266.2 98.5,268.9 100.2,270.9 101.7,273.1 102.3,275.3 103.7,276.5 105,278.9 106.5,281 104.7,282.1 102.3,283 100.2,283.5 98.4,282 95.9,279.1 94.9,277.3 92.7,276 90.1,278.4 89.3,276.2 88.5,273.9 88.5,271 87.6,270.7 86.5,267.7 86.1,266.3 85.1,263.4 83.9,261.3 83.5,259.4 82.9,257.4 81.9,255 81,252.6 80.5,250.8M119,258.4L121.5,257.5 123.7,257.2 126.6,255.9 128,257.2 129.9,259 131.2,260.9 132.5,262.6 133.8,264.2 135.4,265.9 137.9,267.1 139.2,269.8 140.7,271.2 142.9,273.5 141.6,274.6 139.1,276 137.9,273.7 135.4,271 132.9,270.3 130.5,269.6 127.8,268.4 125.8,267.2 123.7,266.3 121.5,264.6 120.9,262.2 119.6,260.6 119,258.4M168,298.8L169.6,300.2 171.3,301.8 173.9,304 175.6,305.1 176.4,308.2 177.2,310.9 178.6,311.6 178.7,312.1 179.7,315.7 180.6,317.7 182.1,319.5 182.6,322.6 182.5,324 182.7,327.6 183.1,330.3 184.5,332.4 184.6,334.9 186.6,336.8 187.8,339.2 188.3,340 189.4,342.8 188.4,346 189.2,347.9 188.4,350.4 188.4,352.7 188.1,355.4 186.8,359 186.4,360.1 184.7,362.5 184.4,365.4 185.2,368.3 185.1,370.5 185.5,372.4 186.7,375.7 187.7,377.6 186.9,380.5 187.6,383.5 188.3,384.8 188.7,388.1 190.1,390.5 190.7,393.1 192.1,395.9 192.6,397.8 193.2,400.4 194.7,402.4 195.4,404.6 195.3,406.6 196.9,409.4 195.7,408 194.6,406.3 192.7,405.3 190.7,403.1 188.6,404 185.6,405.6 184.3,403.8 182.6,402.1 182.4,399.7 180.6,398.1 180.8,395.4 179,392.9 178,390.7 177.6,388.9 176.8,385.5 176.6,383.3 175.7,379.8 175.3,377.6 175.3,375.5 174.3,373 174.1,371.3 172.6,368.9 171.3,367 170.6,364.2 169.3,363.8 168,360.4 168.8,358.2 169.4,355.5 171.1,354.1 171.5,352.9 173.5,349.5 173.1,347.8 173.8,345.6 173.6,343 173.6,341.1 174.1,338 174.6,335.7 174.4,333 174.3,330.3 174.4,328 172.8,324.8 171.9,322.2 171.4,320.3 170.6,317.7 168.7,315.6 169.2,313.6 167.6,312 166.9,308.7 165.8,307.2 165.5,305.1 166.8,303.6 167.3,300.3 168,298.8M168,298.8L169.2,299.7 171,300.5 172.6,302.9 174,304 175.6,305.1 175.9,306.2 176.7,309.2 178.2,310.3 179,312.2 179.9,314.3 179.7,316.3 180.6,317.7 180.6,319.1 180.7,321.4 181.6,323.1 181.8,325.5 182.2,326.4 183.3,329.1 183.1,330.3 184,331.1 184.4,333.7 185.5,335.7 185.6,336.9 186.8,338.7 187.8,340.1 188.3,340.6 189.4,342.8 188.7,344.3 188.6,346.9 189.4,348.3 188.2,349.9 188.2,352.5 188.4,353.8 188.1,355.4 187.3,356.2 186.5,358.2 186.4,360.4 185.3,361.9 185.7,363.3 184.4,365.4 184.3,367 184.6,368.6 185.5,371.2 184.7,372.1 185.8,373.8 186,375.3 186.8,376.9 186.6,378.8 186.9,380.5 187.5,382.2 188.4,384.1 188.6,385.9 188.6,387.3 189.1,389.6 189.8,390.8 190.7,393.1 191.4,395 191.1,397.1 192.6,397.9 193.7,399.7 193.5,402.2 193.9,402.8 195.4,404 195.6,406.3 197.4,407.4 196.9,409.4 195.6,408.4 194.5,406.3 193.4,405.7 192.1,404.9 190.7,403.1 189.5,404.1 187.4,404.3 185.6,405.6 184.5,404.2 183.4,402.6 182.2,401.8 182.6,399.4 180.6,398.1 180.2,396.2 180.1,394.7 179,392.6 178.5,390.4 178.2,388.8 177.6,387.4 176.8,385.5 176.9,383.7 176.5,381.5 176,380 175.5,378.4 175.4,375.7 174.8,374.1 174.3,373 174.1,370.5 172.3,369.1 172.7,367.7 171.2,366.5 169.6,365 169.9,363.5 169.2,361.8 168,360.4 168.7,358.4 169.6,357.7 170.3,355.1 170.6,352.9 172.3,350.9 172,349.6 173.1,347.8 173,346.9 172.3,344.5 173.8,342 173.3,341 174.4,338.6 173.1,337.7 174.6,335.4 173.1,334.5 174.1,332.6 174.3,330.3 173.8,328.3 173,327.4 173.4,323.9 171.8,323.9 171.5,320.7 171.1,319.5 170.6,317.7 169.8,315.7 169,313.9 168.6,311.9 167.6,310.4 167.5,308.9 166.2,307.1 165.5,305.1 166.5,303.5 167.4,301.7 168,298.8M95.8,437.5L98.3,437.7 100.3,438.1 102.8,438.2 105,438.5 107,441.5 109,440.6 111.5,440.5 113.7,439.6 116,439.1 118,438.6 120.5,438.4 122.7,438 124.9,437.7 127.3,437.7 130,437.4 132.3,437.1 134.7,436.5 137,436.1 139.2,435.8 137.1,435.8 134.6,435.7 132.5,435.6 130.4,435.9 128,435.6 125.5,435.7 122.9,436 120.7,435.9 118.4,436.5 116,436.6 113.7,436.6 111.5,436.9 109.2,436.8 107.5,436.9 105,437 102.8,437.1 100.2,437.2 98.2,437.2 95.8,437.5M170.8,460.8L173.2,461.6 175.6,461.8 177.6,462.4 180,463.3 182.4,465.1 184.6,466.5 186.7,468.3 187.5,470.7 188.7,472.9 189.7,475.4 190.7,477.5 191.7,480 193,481.9 195.1,483.8 196.7,485.8 198.3,487.7 200.1,489.7 201.7,491.7M184.3,171.3L186.2,169.8 188,168.4 190,167 192,165.4 194.2,164.2 196.3,162.6 197.3,164.6 195.6,166.4 193.8,167.9 192,169.6 189.6,170.7 187.7,171.9 185.3,173 184.3,171.3M208.9,163.8L209.6,168 208.7,170.3 207.6,172.5 206.2,171 206.7,168.7 207.2,166.5 208.9,163.8M213.9,135L214.4,137.6 214.9,140 213.7,143 212.5,146 210.3,146.3 210.8,143.6 211.3,141 211.7,138.4 212.2,136 213.9,135M217.8,126.3L218.4,130 217.6,133.3 216.8,130 217.8,126.3M205.8,426.5L208.3,429 208.6,433 206,435 203.3,432.6 203.6,428.5 205.8,426.5M195,411.5L197,413.5 196.6,417 194.3,417 193.6,414 195,411.5M209.6,410.5L209,414 208.3,418.3M292.8,196.5L296.6,196 297.4,200 297.7,201.2 297,204.5 296.1,207.9 295.5,209 292.3,209.3 291.6,206.6 291.3,205 291.7,203.4 292.2,200.5 292.8,196.5M292.8,196.5L294.6,196.5 296.6,196 297,197.8 297.4,200 298.6,202.3 297,204.5 296,206.5 295.5,209 292.3,209.3 292,207.3 291.3,205 292.1,202.8 292.2,200.5 291.9,198.7 292.8,196.5M284.3,216L286.5,216.5 287.1,218.6 288,221 288.2,223.4 290,226.5 289.5,228.7 289.8,231 286.8,231.5 284.6,229.8 284,228 283.6,224.6 283,222.5 283.1,219.9 284.4,216.8 284.3,216M284.3,216L286.5,216.5 287.1,217.9 288,221 288.5,223.3 289,224.7 290,226.5 289.5,229.7 289.8,231 286.8,231.5 285.9,230.3 284,228 283,225.6 283.9,224.2 283,222.5 283.3,220.5 283.2,218.5 284.3,216M293,266.5L294.3,264.3 295.5,262 296.8,259.9 298.3,257.5 297.7,259.9 297.3,262 296.4,264.8 295,267.2 293,266.5M322,128.5L325,130.5 327,128.7 325.9,131 324.5,133 321.7,134.5 320.5,135.5 322.5,132 322,128.5M371.7,342.5L375,342.5 375,345.4 375,348.3 376.2,350.3 377.5,352.5 375,353.3 372.8,351.7 370.8,350 371.2,347.4 371.3,345.1 371.7,342.5M379.2,362.3L382.5,363 385.8,364.2 382.5,364.6 379.2,362.3M395,358.3L397,357.7 399.2,356.7 399.5,358.8 399.8,361.3 400,363.3 396.7,360.8 395,358.3M411.7,370L414.1,371.8 416.7,373.3 415.4,375.5 414.2,377.5 411.7,375 411.7,372.3 411.7,370M520.6,462.5L519,466.5 517.3,469.2 515.6,471.9 516.7,469.3 517.6,466.5 519.1,464.5 520.6,462.5M487.5,476L487.8,480 486,484 485.7,480 487.5,476M687.9,535.4L686.2,538.8 684.5,542.3 682.2,544 681.6,547.4 680.5,549.4 682.8,550.5 685.6,551.1 688.5,550 690.2,548 692.2,544.8 691.1,541.7 689.3,538.8 687.9,535.4M639.4,558.5L641.9,558.9 644.5,559.4 646.3,562.8 649.1,565.7 648.5,567.9 648,570.2 644,571.1 640,569.7 636.6,567.4 636,564.5 634.6,562.8 636.6,560 639.4,558.5M1580.6,91.3L1582.4,91 1585.3,90.6 1587.5,91.3 1589.7,91 1590,93.6 1590,96.3 1589.6,98.4 1588.8,100.5 1588.4,103.2 1585.9,102.1 1582.8,100.7 1585.3,99.4 1585.4,96.9 1585.9,94.4 1584,91.6 1580.6,91.3M1591.6,109.8L1594.5,109.4 1597.2,108.9 1599.1,112.6 1600.3,114.8 1601.2,117.3 1602.5,119.5 1603.5,122 1604.9,124.4 1606.6,126.4 1606.3,128.9 1606.3,131.1 1603.5,128.9 1601,130.2 1598.5,128.4 1596,126.4 1595.3,124.3 1594.1,122 1592.8,119.8 1591.3,118 1590,115.8 1591,113 1591.6,109.8M1611,131.8L1614.2,134.6 1615.9,136.9 1617.2,139.3 1618.6,141.5 1614.8,141.8 1612.6,140.1 1610.4,138.4 1609.8,135.2 1611,131.8M1615.4,89.5L1616.1,92.3 1617,95 1619.2,96.8 1621.5,98.5M1620.8,144L1620.3,148 1621.2,152M1572,90L1573.5,91.3 1575,90M240.5,106.5L243,108.5 245.5,107.2 248,106.2 250,107.2 251.8,106.8" fill="none" stroke="#000" stroke-width="1.45" stroke-linejoin="round" stroke-linecap="round"/>
<path d="M292.8,196.5L296.6,196 296.4,198.4 297.4,200 296.8,202.6 297,204.5 295.6,206.6 295.5,209 292.3,209.3 292.3,206.8 291.3,205 291.8,202.6 292.2,200.5 291.6,198.6 292.8,196.5Z" fill="#000" fill-opacity="0.75"/>
<ellipse cx="634.4" cy="171" rx="0.9" ry="0.9" fill="#000"/>
<ellipse cx="645" cy="172.9" rx="0.9" ry="0.9" fill="#000"/>
<ellipse cx="647.5" cy="183.5" rx="2.5" ry="1.5" fill="#000"/>
<ellipse cx="635" cy="186.9" rx="1" ry="1.6" fill="#000"/>
<ellipse cx="640.6" cy="191.9" rx="1.8" ry="2.5" fill="#000"/>
<ellipse cx="651" cy="190" rx="0.9" ry="0.9" fill="#000"/>
<ellipse cx="593.4" cy="208.5" rx="1.3" ry="0.9" fill="#000"/>
<ellipse cx="592.9" cy="215.9" rx="1" ry="1" fill="#000"/>
<ellipse cx="601" cy="214.6" rx="1.1" ry="0.9" fill="#000"/>
<ellipse cx="588.1" cy="226" rx="1.5" ry="0.9" fill="#000"/>
<ellipse cx="580" cy="243.8" rx="1" ry="0.9" fill="#000"/>
<ellipse cx="658.1" cy="246.5" rx="1.2" ry="1.5" fill="#000"/>
<ellipse cx="535.6" cy="295" rx="0.9" ry="0.9" fill="#000"/>
<ellipse cx="542.9" cy="292.9" rx="0.9" ry="0.9" fill="#000"/>
<ellipse cx="541.9" cy="299.6" rx="0.9" ry="0.9" fill="#000"/>
<ellipse cx="545.8" cy="313.3" rx="0.9" ry="1.3" fill="#000"/>
<ellipse cx="666.2" cy="319.5" rx="2" ry="0.9" fill="#000"/>
<ellipse cx="440" cy="296.5" rx="3.5" ry="1.3" fill="#000"/>
<ellipse cx="443.3" cy="304.2" rx="0.9" ry="0.9" fill="#000"/>
<ellipse cx="466.7" cy="304.2" rx="1.5" ry="0.9" fill="#000"/>
<ellipse cx="470" cy="310.8" rx="0.9" ry="0.9" fill="#000"/>
<ellipse cx="999.2" cy="207.1" rx="1.5" ry="2.3" fill="#000"/>
<ellipse cx="1003.8" cy="206.7" rx="0.9" ry="1.2" fill="#000"/>
<ellipse cx="1009.6" cy="206.8" rx="1.5" ry="0.9" fill="#000"/>
<ellipse cx="1011.3" cy="214.4" rx="0.9" ry="0.9" fill="#000"/>
<ellipse cx="989.6" cy="227.1" rx="1" ry="0.9" fill="#000"/>
<ellipse cx="994.2" cy="226.7" rx="0.9" ry="0.9" fill="#000"/>
<ellipse cx="987.9" cy="231.3" rx="1" ry="0.9" fill="#000"/>
<ellipse cx="990.4" cy="237.9" rx="1.5" ry="0.9" fill="#000"/>
<ellipse cx="1013.8" cy="250.8" rx="2" ry="2.8" fill="#000"/>
<ellipse cx="728.8" cy="464.5" rx="0.9" ry="0.9" fill="#000"/>
<ellipse cx="691.3" cy="535" rx="0.9" ry="0.9" fill="#000"/>
<ellipse cx="1127" cy="990" rx="1.2" ry="1.2" fill="#000"/>
<ellipse cx="1126" cy="1015" rx="0.9" ry="0.9" fill="#000"/>
<ellipse cx="1547.5" cy="350" rx="0.9" ry="0.9" fill="#000"/>
<ellipse cx="1551.5" cy="357" rx="1.5" ry="1.3" fill="#000"/>
<ellipse cx="1031" cy="96.5" rx="1" ry="1" fill="#000"/>
<ellipse cx="1026" cy="102" rx="0.9" ry="0.9" fill="#000"/>
<ellipse cx="219.3" cy="105.6" rx="1.8" ry="1.6" fill="#000"/>
<ellipse cx="213.6" cy="96.9" rx="1" ry="1" fill="#000"/>
<ellipse cx="216.8" cy="98.5" rx="0.9" ry="0.9" fill="#000"/>
<ellipse cx="208" cy="153" rx="0.9" ry="0.9" fill="#000"/>
<ellipse cx="201.8" cy="159.4" rx="0.9" ry="0.9" fill="#000"/>
<ellipse cx="209.3" cy="174.4" rx="1" ry="1.2" fill="#000"/>
<ellipse cx="179.9" cy="175.6" rx="1" ry="0.9" fill="#000"/>
<ellipse cx="205.5" cy="183.1" rx="1.2" ry="1.2" fill="#000"/>
<ellipse cx="197.4" cy="185" rx="1.5" ry="1.1" fill="#000"/>
<ellipse cx="188.6" cy="188.8" rx="1.5" ry="1.1" fill="#000"/>
<ellipse cx="194.3" cy="191.9" rx="1.5" ry="1" fill="#000"/>
<ellipse cx="184.3" cy="194.8" rx="1" ry="1.1" fill="#000"/>
<ellipse cx="243" cy="169.4" rx="1.5" ry="1.5" fill="#000"/>
<ellipse cx="249.9" cy="161.9" rx="0.9" ry="0.9" fill="#000"/>
<ellipse cx="251.1" cy="168.1" rx="0.9" ry="1.3" fill="#000"/>
<ellipse cx="239.9" cy="175.6" rx="1" ry="0.9" fill="#000"/>
<ellipse cx="192" cy="457.2" rx="0.9" ry="0.9" fill="#000"/>
<ellipse cx="147.2" cy="518.3" rx="2.2" ry="1.8" fill="#000"/>
<ellipse cx="101.7" cy="543.3" rx="1.8" ry="1" fill="#000"/>
<ellipse cx="307.5" cy="593.3" rx="1.2" ry="0.9" fill="#000"/>
<ellipse cx="359.7" cy="470" rx="1" ry="0.9" fill="#000"/>
<ellipse cx="143.3" cy="657.5" rx="1.5" ry="1.2" fill="#000"/>
<ellipse cx="172.5" cy="651.3" rx="1.8" ry="0.9" fill="#000"/>
<ellipse cx="183.3" cy="646.7" rx="1.5" ry="0.9" fill="#000"/>
<ellipse cx="188.5" cy="644.6" rx="1.8" ry="1" fill="#000"/>
<ellipse cx="123" cy="715.8" rx="1.5" ry="2.2" fill="#000"/>
<ellipse cx="133.3" cy="731.7" rx="1.8" ry="3.5" fill="#000"/>
<ellipse cx="385.5" cy="505.5" rx="0.9" ry="0.9" fill="#000"/>
<ellipse cx="449.5" cy="517" rx="1.5" ry="1.2" fill="#000"/>
<ellipse cx="419.5" cy="573" rx="1" ry="1.1" fill="#000"/>
<ellipse cx="381" cy="584" rx="1.7" ry="1.4" fill="#000"/>
<ellipse cx="383" cy="590.5" rx="1" ry="0.9" fill="#000"/>
<ellipse cx="440.5" cy="570" rx="0.9" ry="0.9" fill="#000"/>
<ellipse cx="283" cy="180" rx="0.9" ry="0.9" fill="#000"/>
<ellipse cx="287.5" cy="172" rx="0.9" ry="0.9" fill="#000"/>
<ellipse cx="291" cy="163" rx="0.9" ry="0.9" fill="#000"/>
<ellipse cx="286" cy="257" rx="0.9" ry="0.9" fill="#000"/>
<ellipse cx="284.5" cy="262" rx="1" ry="1" fill="#000"/>
<ellipse cx="287.5" cy="273" rx="0.9" ry="0.9" fill="#000"/>
<ellipse cx="126" cy="94" rx="1.1" ry="1" fill="#000"/>
<ellipse cx="128.5" cy="98" rx="1.1" ry="1" fill="#000"/>
<ellipse cx="131" cy="101" rx="1.1" ry="1" fill="#000"/>
<ellipse cx="129.5" cy="104.5" rx="1.1" ry="1" fill="#000"/>
<ellipse cx="134" cy="96.5" rx="1.1" ry="1" fill="#000"/>
<ellipse cx="136.5" cy="99.5" rx="1.1" ry="1" fill="#000"/>
<ellipse cx="139.5" cy="96" rx="1.1" ry="1" fill="#000"/>
<ellipse cx="141" cy="91.5" rx="1.1" ry="1" fill="#000"/>
<ellipse cx="148.5" cy="91" rx="1.1" ry="1" fill="#000"/>
<ellipse cx="161" cy="92" rx="1.1" ry="1" fill="#000"/>
<ellipse cx="159" cy="96.5" rx="1.1" ry="1" fill="#000"/>
<ellipse cx="166.5" cy="99.5" rx="1.1" ry="1" fill="#000"/>
<ellipse cx="163.5" cy="103" rx="1.1" ry="1" fill="#000"/>
<ellipse cx="170" cy="92.5" rx="1.1" ry="1" fill="#000"/>
<ellipse cx="126.5" cy="121.5" rx="1.1" ry="1" fill="#000"/>
<ellipse cx="121" cy="124" rx="1.1" ry="1" fill="#000"/>
<ellipse cx="136.5" cy="121" rx="1.1" ry="1" fill="#000"/>
<ellipse cx="120" cy="128" rx="1.1" ry="1" fill="#000"/>
<ellipse cx="118.5" cy="135" rx="1.1" ry="1" fill="#000"/>
<ellipse cx="123" cy="137" rx="1.1" ry="1" fill="#000"/>
<ellipse cx="127" cy="134" rx="1.1" ry="1" fill="#000"/>
<ellipse cx="144.5" cy="129.5" rx="1.1" ry="1" fill="#000"/>
<ellipse cx="147.5" cy="131.5" rx="1.1" ry="1" fill="#000"/>
<ellipse cx="151" cy="127" rx="1.1" ry="1" fill="#000"/>
<ellipse cx="153.5" cy="130.5" rx="1.1" ry="1" fill="#000"/>
<ellipse cx="156.5" cy="124.5" rx="1.1" ry="1" fill="#000"/>
<ellipse cx="162" cy="119" rx="1.1" ry="1" fill="#000"/>
<ellipse cx="165" cy="121.5" rx="1.1" ry="1" fill="#000"/>
<ellipse cx="119" cy="142" rx="1.1" ry="1" fill="#000"/>
<ellipse cx="122.5" cy="143.5" rx="1.1" ry="1" fill="#000"/>
<ellipse cx="135" cy="140.5" rx="1.1" ry="1" fill="#000"/>
<ellipse cx="139" cy="144.5" rx="1.1" ry="1" fill="#000"/>
<ellipse cx="161.5" cy="113.5" rx="1.1" ry="1" fill="#000"/>
<ellipse cx="166" cy="113" rx="1.1" ry="1" fill="#000"/>
<ellipse cx="94.3" cy="121.3" rx="1" ry="0.9" fill="#000"/>
<ellipse cx="96" cy="124.5" rx="1" ry="0.9" fill="#000"/>
<ellipse cx="99" cy="126" rx="1" ry="0.9" fill="#000"/>
<ellipse cx="95.5" cy="129" rx="1" ry="0.9" fill="#000"/>
<ellipse cx="97.5" cy="132" rx="1" ry="0.9" fill="#000"/>
<ellipse cx="100" cy="133" rx="1" ry="0.9" fill="#000"/>
<ellipse cx="101" cy="135.6" rx="1" ry="0.9" fill="#000"/>
<ellipse cx="96.5" cy="135" rx="1" ry="0.9" fill="#000"/>
<ellipse cx="87.4" cy="135.6" rx="1" ry="0.9" fill="#000"/>
<ellipse cx="86" cy="141" rx="1" ry="0.9" fill="#000"/>
<ellipse cx="81.8" cy="143" rx="1" ry="0.9" fill="#000"/>
<ellipse cx="84" cy="139" rx="1" ry="0.9" fill="#000"/>
<ellipse cx="452" cy="432.1" rx="1.3" ry="1.3" fill="#000"/>
<ellipse cx="480.3" cy="389.6" rx="1" ry="0.9" fill="#000"/>
<ellipse cx="432.2" cy="438.1" rx="1" ry="1" fill="#000"/>
<ellipse cx="483.4" cy="391.7" rx="1.3" ry="1.1" fill="#000"/>
<ellipse cx="399.2" cy="446.4" rx="1.8" ry="1.2" fill="#000"/>
<ellipse cx="487.8" cy="386.8" rx="1" ry="1.2" fill="#000"/>
<ellipse cx="497.2" cy="360.1" rx="1.6" ry="1.1" fill="#000"/>
<ellipse cx="450.7" cy="433.1" rx="1.1" ry="1.1" fill="#000"/>
<ellipse cx="500.4" cy="356.9" rx="1.2" ry="1.3" fill="#000"/>
<ellipse cx="475.8" cy="401.9" rx="1.2" ry="1.4" fill="#000"/>
<ellipse cx="480.5" cy="391.6" rx="1.6" ry="1.1" fill="#000"/>
<ellipse cx="449.4" cy="431.4" rx="1" ry="0.9" fill="#000"/>
<ellipse cx="461.2" cy="420.2" rx="1.2" ry="1" fill="#000"/>
<ellipse cx="495.3" cy="363.4" rx="0.9" ry="1" fill="#000"/>
<ellipse cx="427.3" cy="439.3" rx="1.8" ry="1.5" fill="#000"/>
<ellipse cx="451.4" cy="432.4" rx="1.1" ry="1.3" fill="#000"/>
<ellipse cx="469.5" cy="411.3" rx="0.9" ry="1.1" fill="#000"/>
<ellipse cx="404" cy="449.1" rx="1.3" ry="1.3" fill="#000"/>
<ellipse cx="418.3" cy="441.4" rx="1.2" ry="0.9" fill="#000"/>
<ellipse cx="407.1" cy="446.2" rx="1.1" ry="1.2" fill="#000"/>
<ellipse cx="490.8" cy="382.6" rx="1.1" ry="1.2" fill="#000"/>
<ellipse cx="416.5" cy="441.7" rx="1.3" ry="1.2" fill="#000"/>
<ellipse cx="473.9" cy="407.5" rx="1.1" ry="0.9" fill="#000"/>
<ellipse cx="465.7" cy="415.2" rx="1.3" ry="1" fill="#000"/>
<ellipse cx="498.6" cy="358.7" rx="0.9" ry="0.9" fill="#000"/>
<ellipse cx="404.3" cy="447.3" rx="1.2" ry="1.1" fill="#000"/>
<ellipse cx="418.7" cy="442.6" rx="1.5" ry="1.2" fill="#000"/>
<ellipse cx="473.7" cy="400.6" rx="1.9" ry="1.3" fill="#000"/>
<ellipse cx="490.4" cy="378.3" rx="1" ry="0.9" fill="#000"/>
<ellipse cx="428.7" cy="439.5" rx="1.5" ry="1.1" fill="#000"/>
<ellipse cx="498.6" cy="356.5" rx="1.6" ry="1.3" fill="#000"/>
<ellipse cx="440.1" cy="443.9" rx="0.9" ry="0.9" fill="#000"/>
<ellipse cx="491.4" cy="384.7" rx="1.8" ry="1.5" fill="#000"/>
<ellipse cx="473.4" cy="397.7" rx="1.6" ry="1.5" fill="#000"/>
<ellipse cx="401.8" cy="447.7" rx="1.6" ry="1.1" fill="#000"/>
<ellipse cx="441.9" cy="441.8" rx="1.5" ry="1.1" fill="#000"/>
<ellipse cx="472.1" cy="405.4" rx="0.9" ry="0.9" fill="#000"/>
<ellipse cx="459.6" cy="421.7" rx="1.3" ry="0.9" fill="#000"/>
<ellipse cx="440.1" cy="433.5" rx="1.8" ry="1.2" fill="#000"/>
<ellipse cx="472.3" cy="396.7" rx="0.9" ry="0.9" fill="#000"/>
<ellipse cx="488.9" cy="388.8" rx="0.9" ry="0.9" fill="#000"/>
<ellipse cx="453.8" cy="435.3" rx="0.9" ry="0.9" fill="#000"/>
<ellipse cx="477.7" cy="393.8" rx="0.9" ry="0.9" fill="#000"/>
<ellipse cx="448.3" cy="435.3" rx="0.9" ry="0.9" fill="#000"/>
<ellipse cx="436.7" cy="443.4" rx="0.9" ry="0.9" fill="#000"/>
<ellipse cx="413.6" cy="448.2" rx="1" ry="0.9" fill="#000"/>
<ellipse cx="412.8" cy="448.1" rx="0.9" ry="0.9" fill="#000"/>
<ellipse cx="485.3" cy="393.8" rx="0.9" ry="0.9" fill="#000"/>
<ellipse cx="499.9" cy="362.2" rx="0.9" ry="0.9" fill="#000"/>
<ellipse cx="501.2" cy="359.2" rx="1" ry="0.9" fill="#000"/>
<ellipse cx="312.7" cy="432.4" rx="1" ry="0.9" fill="#000"/>
<ellipse cx="316.9" cy="140.2" rx="1.9" ry="1.4" fill="#000"/>
<ellipse cx="313.2" cy="143.1" rx="1" ry="0.9" fill="#000"/>
<ellipse cx="314.2" cy="426.6" rx="1.8" ry="1.3" fill="#000"/>
<ellipse cx="296.4" cy="171" rx="1" ry="0.9" fill="#000"/>
<ellipse cx="312.1" cy="360.5" rx="1" ry="0.9" fill="#000"/>
<ellipse cx="311.9" cy="357.6" rx="1.2" ry="0.9" fill="#000"/>
<ellipse cx="298.9" cy="451.6" rx="0.9" ry="0.9" fill="#000"/>
<ellipse cx="312.4" cy="365.6" rx="1.5" ry="1.4" fill="#000"/>
<ellipse cx="274.7" cy="218.4" rx="1" ry="1.2" fill="#000"/>
<ellipse cx="287.3" cy="264.7" rx="1.4" ry="1.3" fill="#000"/>
<ellipse cx="285.2" cy="261.6" rx="0.9" ry="0.9" fill="#000"/>
<ellipse cx="289.2" cy="245" rx="1.5" ry="1.2" fill="#000"/>
<ellipse cx="281.5" cy="234.8" rx="1.1" ry="1.2" fill="#000"/>
<ellipse cx="295.7" cy="172.6" rx="1.3" ry="1.3" fill="#000"/>
<ellipse cx="283.4" cy="237" rx="1.1" ry="1.1" fill="#000"/>
<ellipse cx="287.8" cy="285.5" rx="1" ry="1.2" fill="#000"/>
<ellipse cx="314.2" cy="397.6" rx="1.6" ry="1.3" fill="#000"/>
<ellipse cx="285" cy="261.2" rx="1.1" ry="1.2" fill="#000"/>
<ellipse cx="274.1" cy="223.9" rx="1.7" ry="1.2" fill="#000"/>
<ellipse cx="297" cy="169.7" rx="1.5" ry="1.2" fill="#000"/>
<ellipse cx="251.3" cy="477.8" rx="1.7" ry="1.3" fill="#000"/>
<ellipse cx="285.3" cy="270" rx="1.6" ry="1.2" fill="#000"/>
<ellipse cx="313.8" cy="395.1" rx="1.1" ry="1" fill="#000"/>
<ellipse cx="318.9" cy="138.4" rx="1.1" ry="1" fill="#000"/>
<ellipse cx="313.8" cy="395.2" rx="1.8" ry="1.3" fill="#000"/>
<ellipse cx="286.7" cy="267.4" rx="1.3" ry="1.4" fill="#000"/>
<ellipse cx="313.2" cy="391.5" rx="1.2" ry="1.3" fill="#000"/>
<ellipse cx="303.3" cy="156.7" rx="1" ry="0.9" fill="#000"/>
<ellipse cx="289.9" cy="289.9" rx="1.2" ry="0.9" fill="#000"/>
<ellipse cx="279.3" cy="204" rx="0.9" ry="1" fill="#000"/>
<ellipse cx="285.5" cy="239.4" rx="1.3" ry="1.2" fill="#000"/>
<ellipse cx="311.1" cy="144.7" rx="1.3" ry="1.3" fill="#000"/>
<ellipse cx="285.7" cy="270" rx="0.9" ry="0.9" fill="#000"/>
<ellipse cx="297.8" cy="312.6" rx="1.5" ry="1.3" fill="#000"/>
<ellipse cx="284.3" cy="190.8" rx="1" ry="0.9" fill="#000"/>
<ellipse cx="275.8" cy="230.6" rx="1.2" ry="1.1" fill="#000"/>
<ellipse cx="314.9" cy="423.9" rx="0.9" ry="0.9" fill="#000"/>
<ellipse cx="299.3" cy="164.9" rx="1.3" ry="0.9" fill="#000"/>
<ellipse cx="280.5" cy="200.2" rx="1.5" ry="1" fill="#000"/>
<ellipse cx="316.6" cy="140.5" rx="0.9" ry="0.9" fill="#000"/>
<ellipse cx="292.5" cy="297.5" rx="1.7" ry="1.2" fill="#000"/>
<ellipse cx="316.5" cy="411.7" rx="1.5" ry="1.2" fill="#000"/>
<ellipse cx="282.1" cy="235.4" rx="1.1" ry="1.2" fill="#000"/>
<ellipse cx="281.7" cy="465.5" rx="1.2" ry="1.4" fill="#000"/>
<ellipse cx="301.6" cy="315.2" rx="1.7" ry="1.4" fill="#000"/>
<ellipse cx="313.5" cy="429.2" rx="1.5" ry="1.2" fill="#000"/>
<ellipse cx="269.7" cy="471.1" rx="1.3" ry="1" fill="#000"/>
<ellipse cx="307" cy="440.6" rx="1" ry="0.9" fill="#000"/>
<ellipse cx="317.5" cy="415" rx="1" ry="1.2" fill="#000"/>
<ellipse cx="266.6" cy="472.2" rx="1.4" ry="1.2" fill="#000"/>
<ellipse cx="314.5" cy="399.1" rx="1.3" ry="1.1" fill="#000"/>
<ellipse cx="277" cy="468" rx="1.4" ry="1.1" fill="#000"/>
<ellipse cx="305.7" cy="149.6" rx="0.9" ry="0.9" fill="#000"/>
<ellipse cx="295.5" cy="455" rx="1.6" ry="1.2" fill="#000"/>
<ellipse cx="313.7" cy="326.2" rx="1.3" ry="1" fill="#000"/>
<ellipse cx="311.2" cy="435.1" rx="1.2" ry="1" fill="#000"/>
<ellipse cx="284.8" cy="270" rx="1.1" ry="1" fill="#000"/>
<ellipse cx="315.8" cy="409.5" rx="1.4" ry="1.3" fill="#000"/>
<ellipse cx="304.6" cy="443.9" rx="1.3" ry="1" fill="#000"/>
<ellipse cx="318.5" cy="138.7" rx="1.3" ry="1.1" fill="#000"/>
<ellipse cx="311.5" cy="371.4" rx="1.2" ry="1.1" fill="#000"/>
<ellipse cx="284.3" cy="190.7" rx="1.5" ry="1" fill="#000"/>
<ellipse cx="285.4" cy="253.8" rx="1.2" ry="1" fill="#000"/>
<ellipse cx="270.8" cy="470.6" rx="1.3" ry="0.9" fill="#000"/>
<ellipse cx="295.5" cy="309.3" rx="1.1" ry="0.9" fill="#000"/>
<ellipse cx="285.2" cy="239.1" rx="1.4" ry="1" fill="#000"/>
<ellipse cx="309" cy="438" rx="1.4" ry="1.2" fill="#000"/>
<ellipse cx="285.6" cy="262.1" rx="1.2" ry="0.9" fill="#000"/>
<ellipse cx="317.3" cy="415.6" rx="1.7" ry="1.2" fill="#000"/>
<ellipse cx="144.8" cy="147" rx="1" ry="0.9" fill="#000"/>
<ellipse cx="141.7" cy="146.7" rx="0.9" ry="0.9" fill="#000"/>
<ellipse cx="159.1" cy="141.4" rx="1.3" ry="1.3" fill="#000"/>
<ellipse cx="127.9" cy="140.2" rx="0.9" ry="0.9" fill="#000"/>
<ellipse cx="167.3" cy="116.6" rx="0.9" ry="0.9" fill="#000"/>
<ellipse cx="166.8" cy="117.4" rx="1.6" ry="1.2" fill="#000"/>
<ellipse cx="148.9" cy="135.3" rx="0.9" ry="0.9" fill="#000"/>
<ellipse cx="145.1" cy="148.9" rx="0.9" ry="0.9" fill="#000"/>
<ellipse cx="144.9" cy="132.9" rx="0.9" ry="0.9" fill="#000"/>
<ellipse cx="179.3" cy="91.7" rx="0.9" ry="0.9" fill="#000"/>
<ellipse cx="147.9" cy="142" rx="0.9" ry="0.9" fill="#000"/>
<ellipse cx="169.9" cy="112.2" rx="1.1" ry="1" fill="#000"/>
<ellipse cx="143.2" cy="152.5" rx="1.8" ry="1.2" fill="#000"/>
<ellipse cx="149.1" cy="129.2" rx="1.3" ry="1.1" fill="#000"/>
<ellipse cx="167.3" cy="116.6" rx="1.1" ry="1.2" fill="#000"/>
<ellipse cx="130" cy="139.5" rx="1.7" ry="1.2" fill="#000"/>
<ellipse cx="172.8" cy="90.6" rx="1.3" ry="1.1" fill="#000"/>
<ellipse cx="181.5" cy="91.1" rx="1" ry="0.9" fill="#000"/>
<ellipse cx="120.4" cy="93.9" rx="1.2" ry="0.9" fill="#000"/>
<ellipse cx="164.4" cy="119.4" rx="0.9" ry="0.9" fill="#000"/>
<ellipse cx="115.6" cy="134.3" rx="1.2" ry="1.2" fill="#000"/>
<ellipse cx="181.5" cy="96.3" rx="1.3" ry="1.2" fill="#000"/>
<ellipse cx="121.6" cy="90.3" rx="1" ry="0.9" fill="#000"/>
<ellipse cx="153.4" cy="130.6" rx="1.1" ry="0.9" fill="#000"/>
<ellipse cx="123.2" cy="148" rx="1" ry="1.2" fill="#000"/>
<ellipse cx="157.2" cy="142.3" rx="1.4" ry="1" fill="#000"/>
<ellipse cx="118.3" cy="109.9" rx="1" ry="1" fill="#000"/>
<ellipse cx="147.1" cy="134.4" rx="1.2" ry="1.2" fill="#000"/>
<ellipse cx="164.8" cy="119.1" rx="1.1" ry="0.9" fill="#000"/>
<ellipse cx="155.9" cy="130.6" rx="0.9" ry="0.9" fill="#000"/>
<ellipse cx="157.8" cy="127.3" rx="0.9" ry="0.9" fill="#000"/>
<ellipse cx="172.8" cy="97.4" rx="0.9" ry="0.9" fill="#000"/>
<ellipse cx="117.9" cy="108.1" rx="0.9" ry="0.9" fill="#000"/>
<ellipse cx="146" cy="143" rx="1.6" ry="1.1" fill="#000"/>
<ellipse cx="124.2" cy="147.5" rx="0.9" ry="0.9" fill="#000"/>
<ellipse cx="178.1" cy="95.6" rx="1" ry="1.2" fill="#000"/>
<ellipse cx="154.9" cy="137.2" rx="0.9" ry="0.9" fill="#000"/>
<ellipse cx="140.5" cy="145.6" rx="0.9" ry="0.9" fill="#000"/>
<ellipse cx="171.6" cy="107.7" rx="1.3" ry="1.3" fill="#000"/>
<ellipse cx="118.9" cy="99.5" rx="0.9" ry="0.9" fill="#000"/>
<ellipse cx="161.2" cy="135.2" rx="1.1" ry="1.1" fill="#000"/>
<ellipse cx="160.4" cy="135" rx="1.4" ry="1" fill="#000"/>
<ellipse cx="163.7" cy="137.2" rx="0.9" ry="0.9" fill="#000"/>
<ellipse cx="149.3" cy="135.5" rx="0.9" ry="0.9" fill="#000"/>
<ellipse cx="160.3" cy="122.9" rx="1" ry="0.9" fill="#000"/>
<ellipse cx="138" cy="680.5" rx="0.9" ry="0.9" fill="#000"/>
<ellipse cx="141.4" cy="711.7" rx="0.9" ry="0.9" fill="#000"/>
<ellipse cx="142.2" cy="708.7" rx="0.9" ry="0.9" fill="#000"/>
<ellipse cx="176.3" cy="653.9" rx="0.9" ry="0.9" fill="#000"/>
<ellipse cx="165" cy="658.6" rx="0.9" ry="0.9" fill="#000"/>
<ellipse cx="198.1" cy="640.8" rx="0.9" ry="0.9" fill="#000"/>
<ellipse cx="201.4" cy="632.1" rx="0.9" ry="0.9" fill="#000"/>
<ellipse cx="201.2" cy="601.3" rx="0.9" ry="0.9" fill="#000"/>
<ellipse cx="393.1" cy="513.9" rx="0.9" ry="0.9" fill="#000"/>
<ellipse cx="393.1" cy="512.4" rx="0.9" ry="0.9" fill="#000"/>
<ellipse cx="388.8" cy="496.8" rx="0.9" ry="0.9" fill="#000"/>
<ellipse cx="388.4" cy="554.5" rx="1.2" ry="0.9" fill="#000"/>
<ellipse cx="397.2" cy="541.1" rx="0.9" ry="0.9" fill="#000"/>
<ellipse cx="385.8" cy="559.7" rx="0.9" ry="0.9" fill="#000"/>
<ellipse cx="383.6" cy="565.7" rx="1.1" ry="0.9" fill="#000"/>
<ellipse cx="393.1" cy="512.2" rx="0.9" ry="0.9" fill="#000"/>
<ellipse cx="380.6" cy="634.6" rx="1.1" ry="0.9" fill="#000"/>
<ellipse cx="389.9" cy="502.3" rx="1" ry="0.9" fill="#000"/>
<ellipse cx="314.1" cy="371.3" rx="1.3" ry="0.9" fill="#000"/>
<ellipse cx="316.1" cy="328" rx="2.3" ry="1.5" fill="#000"/>
<ellipse cx="298.3" cy="311.1" rx="2.3" ry="1.6" fill="#000"/>
<ellipse cx="313.1" cy="321.3" rx="1.2" ry="1.1" fill="#000"/>
<ellipse cx="312.9" cy="383.3" rx="1.2" ry="1.2" fill="#000"/>
<ellipse cx="315" cy="331.8" rx="1.1" ry="0.9" fill="#000"/>
<ellipse cx="312.8" cy="351.7" rx="1.4" ry="1.4" fill="#000"/>
<ellipse cx="296" cy="307.1" rx="1.4" ry="1" fill="#000"/>
<ellipse cx="312.1" cy="322.3" rx="1.2" ry="1.3" fill="#000"/>
<ellipse cx="290.2" cy="286.3" rx="1.4" ry="1.4" fill="#000"/>
<ellipse cx="312.8" cy="363.8" rx="1.4" ry="1.1" fill="#000"/>
<ellipse cx="296.7" cy="309.6" rx="1.6" ry="1.3" fill="#000"/>
<ellipse cx="293.4" cy="293.9" rx="1.3" ry="0.9" fill="#000"/>
<ellipse cx="294.7" cy="301.9" rx="1.4" ry="1" fill="#000"/>
<ellipse cx="300.5" cy="312.7" rx="2.3" ry="1.6" fill="#000"/>
<ellipse cx="286.5" cy="276.9" rx="1.7" ry="1.3" fill="#000"/>
<ellipse cx="307.4" cy="317.6" rx="0.9" ry="0.9" fill="#000"/>
<ellipse cx="311" cy="349.5" rx="1" ry="1" fill="#000"/>
<ellipse cx="286.7" cy="281.4" rx="1.7" ry="1.5" fill="#000"/>
<ellipse cx="295.9" cy="302" rx="0.9" ry="0.9" fill="#000"/>
<ellipse cx="319.2" cy="417.7" rx="1.1" ry="1.3" fill="#000"/>
<ellipse cx="304.6" cy="316.3" rx="0.9" ry="1" fill="#000"/>
<ellipse cx="291.6" cy="289.3" rx="0.9" ry="0.9" fill="#000"/>
<ellipse cx="316.6" cy="407.6" rx="0.9" ry="1.1" fill="#000"/>
<ellipse cx="314.8" cy="389.8" rx="1.5" ry="1.2" fill="#000"/>
<ellipse cx="288.9" cy="285.8" rx="1.9" ry="1.3" fill="#000"/>
<ellipse cx="315.3" cy="393.3" rx="1" ry="1.2" fill="#000"/>
<ellipse cx="315.8" cy="405.7" rx="1.2" ry="0.9" fill="#000"/>
<ellipse cx="315.5" cy="392.4" rx="1.1" ry="1.2" fill="#000"/>
<ellipse cx="287.1" cy="275.7" rx="1.5" ry="1.6" fill="#000"/>
<ellipse cx="316.1" cy="401.4" rx="1.2" ry="1" fill="#000"/>
<ellipse cx="285.8" cy="271.3" rx="1.2" ry="1" fill="#000"/>
<ellipse cx="311.2" cy="342.7" rx="1.6" ry="1.5" fill="#000"/>
<ellipse cx="300.7" cy="312.2" rx="1" ry="1.2" fill="#000"/>
<ellipse cx="287.5" cy="276.8" rx="1.1" ry="1.3" fill="#000"/>
<ellipse cx="310.4" cy="343" rx="1.7" ry="1.1" fill="#000"/>
<ellipse cx="318" cy="415.3" rx="1" ry="0.9" fill="#000"/>
<ellipse cx="315.7" cy="396.1" rx="1.7" ry="1.4" fill="#000"/>
<ellipse cx="296.4" cy="302.7" rx="1" ry="0.9" fill="#000"/>
<ellipse cx="294.8" cy="300.5" rx="1.9" ry="1.6" fill="#000"/>
<ellipse cx="286.8" cy="279" rx="1.1" ry="1.3" fill="#000"/>
<ellipse cx="296.1" cy="310" rx="1.3" ry="1.2" fill="#000"/>
<ellipse cx="309.9" cy="342.4" rx="1.2" ry="1.3" fill="#000"/>
<ellipse cx="318.1" cy="408.1" rx="1.3" ry="1.2" fill="#000"/>
<ellipse cx="315.6" cy="400.4" rx="1.4" ry="1.4" fill="#000"/>
<ellipse cx="311.9" cy="377.8" rx="1.9" ry="1.3" fill="#000"/>
<ellipse cx="287.5" cy="278.3" rx="1.3" ry="1.2" fill="#000"/>
<ellipse cx="308.9" cy="319.7" rx="1.2" ry="1" fill="#000"/>
<ellipse cx="289.5" cy="285" rx="2.3" ry="1.6" fill="#000"/>
<ellipse cx="317.4" cy="405.3" rx="1.4" ry="0.9" fill="#000"/>
<ellipse cx="296.1" cy="301.5" rx="1.9" ry="1.5" fill="#000"/>
<ellipse cx="310.1" cy="344.8" rx="1.2" ry="1.2" fill="#000"/>
<ellipse cx="290.5" cy="289.7" rx="2.1" ry="1.4" fill="#000"/>
<ellipse cx="291.3" cy="292.4" rx="0.9" ry="1" fill="#000"/>
<ellipse cx="294.8" cy="299.5" rx="1.3" ry="1.1" fill="#000"/>
<ellipse cx="281.1" cy="203" rx="0.9" ry="0.9" fill="#000"/>
<ellipse cx="276.3" cy="226.2" rx="1.1" ry="0.9" fill="#000"/>
<ellipse cx="278.3" cy="212.6" rx="1.1" ry="0.9" fill="#000"/>
<ellipse cx="285.7" cy="259.7" rx="0.9" ry="0.9" fill="#000"/>
<ellipse cx="286.4" cy="269.3" rx="1.3" ry="0.9" fill="#000"/>
<ellipse cx="287.9" cy="186.5" rx="0.9" ry="0.9" fill="#000"/>
<ellipse cx="275.9" cy="227.1" rx="0.9" ry="0.9" fill="#000"/>
<ellipse cx="287.2" cy="253.5" rx="0.9" ry="1" fill="#000"/>
<ellipse cx="279" cy="231.3" rx="1.3" ry="1" fill="#000"/>
<ellipse cx="275.5" cy="219.9" rx="0.9" ry="0.9" fill="#000"/>
<ellipse cx="288.4" cy="249.9" rx="1.3" ry="0.9" fill="#000"/>
<ellipse cx="290" cy="245.7" rx="1.3" ry="0.9" fill="#000"/>
<ellipse cx="281.9" cy="200.2" rx="1.3" ry="1.1" fill="#000"/>
<ellipse cx="285.5" cy="259.3" rx="1" ry="1" fill="#000"/>
<ellipse cx="286.8" cy="262.5" rx="1.2" ry="1.1" fill="#000"/>
<ellipse cx="288.6" cy="263.2" rx="1.1" ry="0.9" fill="#000"/>
<ellipse cx="283.1" cy="236" rx="0.9" ry="1" fill="#000"/>
<ellipse cx="279.1" cy="232.3" rx="0.9" ry="0.9" fill="#000"/>
<ellipse cx="283.9" cy="235" rx="1.3" ry="1.3" fill="#000"/>
<ellipse cx="280.5" cy="233.7" rx="1.4" ry="0.9" fill="#000"/>
<path d="M81,1052V1047.2l1.2,-1h4.2l0.6,1.6l-1.2,1.4l0.8,2.8Z" fill="#000"/>
<path d="M81.3,90h5l-1,1.6l-1.8,0.9l-1.6,-0.8Z" fill="#000"/>
<path d="M300,89.5V1052.2M740.3,89.5V1052.2M1180.6,89.5V1052.2M1620.9,89.5V1052.2M80.5,310.4H1621.5M80.5,538.6H1621.5M80.5,782H1621.5M80.5,1051.4H1621.5" fill="none" stroke="#000" stroke-width="1.5" stroke-dasharray="1.2 1.7"/>
<path d="M427.3,267.9 424,266.7 420.8,265.5 417.6,264.3 414.3,263.1 411.1,261.8 407.8,260.6 404.6,259.4 401.3,258.2 398,256.9 394.7,255.7 391.4,254.4 388.1,253.1 384.8,251.9 381.5,250.5 378.2,249.2 375,247.7 371.7,246.2 368.5,244.7 365.3,243.1 362.1,241.5 358.8,240 355.6,238.5 352.4,237 349.1,235.5 345.9,234 342.6,232.5 339.4,231 336.3,229.4 333.2,227.7 330.2,225.9 327.3,224.1 324.3,222.3 321.4,220.4 318.5,218.6 315.6,216.8 312.7,215.1 309.7,213.4 306.8,211.8 303.8,210.3 301,208.8 298.5,207.6 294.9,205.6M397.9,269.6 394.4,268.7 390.9,267.7 387.4,266.6 384,265.4 380.5,264.1 377.1,262.7 373.8,261.3 370.4,259.9 367,258.4 363.7,256.8 360.4,255.3 357,253.7 353.7,252.2 350.4,250.6 347.1,249.1 343.7,247.5 340.4,245.9 337.1,244.4 333.8,242.8 330.5,241.2 327.2,239.5 323.9,237.7 320.7,236 317.4,234.2 314.1,232.4 310.9,230.6 307.6,228.8 304.3,226.9 300.9,225.1 297.6,223.3 294.2,221.5 290.8,219.8 287.6,218.2 284.9,217 282,215.3M407.8,283.8 404.1,283 400.4,282.2 396.7,281.4 393,280.6 389.3,279.9 385.6,279.1 381.9,278.2 378.3,277.1 374.8,275.8 371.4,274.3 367.9,272.9 364.5,271.4 361.1,269.9 357.6,268.4 354.2,266.9 350.8,265.4 347.4,263.9 344,262.4 340.6,260.8 337.2,259.3 333.8,257.7 330.4,256.1 327.1,254.4 323.7,252.7 320.4,251 317.1,249.2 313.7,247.4 310.4,245.6 307,243.8 303.7,241.9 300.5,239.9 297.3,237.8 294.1,235.6 290.9,233.4 287.8,231.1 284.7,228.9 281.7,226.8 279,224.9 275.1,222.2M414.6,290.3 411.1,289.5 407.6,288.8 404.2,288.2 400.7,287.6 397.2,287 393.7,286.4 390.2,285.9 386.7,285.3 383.2,284.6 379.8,283.7 376.4,282.8 373,281.8 369.7,280.7 366.3,279.7 362.9,278.5 359.6,277.4 356.2,276.3 352.9,275.1 349.5,274 346.2,272.8 342.8,271.6 339.4,270.5 336,269.3 332.6,268.1 329.2,266.9 325.7,265.8 322.2,264.6 318.7,263.6 315.2,262.6 311.6,261.6 307.9,260.6 304.3,259.5 300.6,258.5 297,257.3 293.3,256.1 289.6,254.8 285.9,253.5 282.2,252.2 278.8,251.1 275.8,250.1 272.7,249M402,293.4 398.6,292.7 395.3,292.1 392,291.4 388.7,290.8 385.5,290.1 382.2,289.4 379,288.6 375.8,287.7 372.6,286.8 369.5,285.8 366.3,284.9 363.2,283.9 360,283 356.9,282M397.9,294.5 394.6,293.9 391.4,293.4 388.2,292.8 385,292.2 381.8,291.6 378.7,291 375.5,290.3 372.4,289.5 369.3,288.8 366.2,288 363.1,287.2 359.9,286.5 356.8,285.7 353.7,284.9 350.5,284.2 347.4,283.5 344.2,282.8 341,282.1 337.9,281.4 334.7,280.7 331.5,280.1 328.3,279.6 325.2,279.1 322,278.7 318.8,278.4 315.7,278 312.6,277.6 309.5,277.1 306.5,276.5 303.4,275.8 300.5,275 297.5,274.1 294.7,273.2 292.1,272.4 290,271.7 287.4,270.9M411.5,299.6 408.4,298.9 405.2,298.2 402.1,297.6 399,296.9 395.8,296.2 392.7,295.5 389.6,294.8 386.5,294.1 383.4,293.4 380.3,292.7 377.2,292 374.1,291.2 371,290.5 367.9,289.8 364.8,289.1 361.6,288.4 358.5,287.7 355.4,287.1 352.2,286.5 349.1,286 345.9,285.5 342.6,285.1 339.4,284.6 336.2,284.3 332.9,284 329.6,283.8 326.3,283.7 322.9,283.7 319.5,283.7 316.1,283.7 312.8,283.7M384.7,296.6 381.5,296 378.2,295.4 375,294.8 371.8,294.2 368.6,293.6 365.5,293 362.3,292.4 359.1,291.9 356,291.3 352.8,290.9 349.7,290.4 346.5,290 343.4,289.7 340.2,289.4 337.1,289.1 333.9,288.9 330.8,288.7 327.6,288.7 324.4,288.7 321.2,288.7 318,288.8 314.8,288.9M413.1,304.3 410,303.7 406.9,303.1 403.7,302.6 400.6,302 397.4,301.5 394.3,300.9 391.1,300.4 387.9,299.9 384.7,299.3 383.1,299M381.8,298.9 378.5,298.2 375.3,297.6 372,297 368.8,296.3 365.6,295.7 362.4,295.1 359.2,294.5 356,293.9 352.8,293.4 349.7,292.9 346.5,292.5 343.4,292 340.3,291.7 337.1,291.3 334,291 330.8,290.7 327.6,290.5 324.5,290.3 321.3,290.1 318.1,289.9 314.8,289.7 311.6,289.6 308.3,289.3 305.1,289.1 301.8,288.8 298.6,288.5 295.5,288.2 292.7,287.9 288.7,287.5M402.8,304 399.7,303.4 396.6,302.8 393.5,302.1 390.4,301.5 387.2,301 384.1,300.4 380.9,299.8 377.8,299.2 374.6,298.7 371.4,298.2 368.3,297.7 365.1,297.2 361.9,296.7 358.7,296.3 355.5,295.8 352.3,295.4 349.1,295 345.9,294.7 342.7,294.4 339.6,294.2 336.4,294 333.2,293.8 330,293.7 326.9,293.6 323.7,293.6 320.6,293.6 317.5,293.6 314.4,293.7 312.8,293.7M396.1,304.7 393,304.2 389.8,303.7 386.6,303.1 383.5,302.6 380.3,302.1 377.1,301.6 374,301.1 370.8,300.7 367.7,300.2 364.5,299.8 361.4,299.4 358.3,299 355.1,298.6 352,298.2 348.9,297.9 345.8,297.7 342.7,297.5 339.6,297.3 336.6,297.1 333.5,297 330.4,296.9 327.4,296.8 324.3,296.8 321.3,296.7 318.3,296.7 315.2,296.8 312.2,296.8 309.2,296.9 306.2,296.9 303.3,297 300.4,297.1 297.7,297.2 295.5,297.3 292.8,297.3M413.4,311.2 410.3,310.7 407.2,310.1 404.2,309.6 401.1,309.1 398,308.6 395,308.1 391.9,307.6 388.9,307.1 385.8,306.6 382.8,306.1 379.8,305.6 376.7,305.2 373.7,304.7 370.7,304.3 367.7,303.9 364.7,303.5 361.7,303.1 358.7,302.7 355.7,302.3 352.7,301.9 349.7,301.6 346.7,301.3 343.6,301.1 340.6,300.9 337.6,300.6 334.5,300.4 331.4,300.2 328.3,299.9 325.2,299.7 322.1,299.5 319,299.2 315.8,299 312.6,298.8 309.4,298.6 306.2,298.3 303,298.1 299.9,297.8 297.2,297.6 293.2,297.3M393.4,310 390.4,309.6 387.3,309.2 384.2,308.7 381.2,308.4 378.1,308 375,307.6 372,307.3 369,307 365.9,306.7 362.9,306.3 359.9,306 356.9,305.7 353.9,305.4 350.8,305.1 347.9,304.9 344.9,304.6 341.9,304.4 338.9,304.2 335.9,304 332.9,303.8 330,303.6 327,303.4 324.1,303.2 321.2,303 318.3,302.8 315.4,302.6 312.5,302.4 309.6,302.3 306.8,302.1 304.1,301.9 301.8,301.8 298.3,301.6M381.2,308.5 378,308.2 374.8,307.8 371.7,307.5 368.6,307.2 365.4,307 362.3,306.7 359.2,306.4 356.1,306.1 353.1,305.8 350,305.6 346.9,305.4 343.9,305.3 340.8,305.2 337.8,305.1 334.7,305 331.6,304.9 328.6,304.8 325.5,304.8 322.3,304.7 319.2,304.7 316,304.7 312.8,304.7 309.5,304.8 306.3,304.8 303,304.9 299.9,305 297,305 293,305.1M391.3,311.3 388.2,310.8 385,310.4 381.9,309.9 378.8,309.5 375.7,309.1 372.6,308.8 369.6,308.4 366.5,308.1 363.4,307.8 360.3,307.5 357.2,307.2 354.1,306.9 351,306.7 347.9,306.5 344.8,306.4 341.7,306.3 338.5,306.2 335.4,306.2 332.2,306.2 329,306.2 325.8,306.2 322.5,306.2 319.3,306.3 316,306.5 312.7,306.7 309.4,306.9 306.1,307.2 302.7,307.5 299.4,307.8 296.4,308.2 293.8,308.6 290.9,308.8M392.6,312 389.6,311.6 386.6,311.3 383.5,310.9 380.5,310.6 377.4,310.3 374.3,309.9 371.1,309.6 368,309.3 364.8,308.9 361.6,308.6 358.4,308.2 356.8,308.1M387.2,315.7 384.2,315.4 381.1,315 378.1,314.8 375,314.5 372,314.2 368.9,314 365.9,313.7 362.9,313.5 359.9,313.2 357,312.9 354,312.7 351.1,312.5 348.1,312.3 345.2,312.2 342.3,312.1 339.4,312 336.6,311.9 333.7,311.8 330.9,311.7 328,311.6 325.2,311.5 322.3,311.4 319.5,311.4 316.7,311.3 313.8,311.3 311,311.3 308.3,311.3 305.9,311.3 302.4,311.3M384.4,315.4 381.4,315.1 378.4,314.8 375.4,314.5 372.4,314.2 369.4,313.9 366.3,313.7 363.3,313.4 360.3,313.2 357.3,312.9 354.3,312.7 351.3,312.5 348.2,312.3 345.2,312.2 342.2,312.1 339.1,312.1 336.1,312 333.1,312 330,311.9 327,311.9 324,311.9 320.9,311.9 317.9,312 314.8,312.1 311.8,312.3 308.8,312.4 305.9,312.6 303.3,312.8 299.6,313M398.1,316.6 395.1,316.2 392.1,315.9 389.1,315.5 386.1,315.2 383,314.8 380,314.5 377,314.2 374,313.9 371,313.6 367.9,313.3 364.9,313.1 361.9,312.8 358.9,312.5 355.9,312.3 352.8,312 349.8,311.8 346.8,311.6 343.8,311.4 340.8,311.2 337.8,311 334.8,310.7 331.8,310.5 328.9,310.1 325.9,309.8 322.9,309.4 320,309 317.1,308.6 314.1,308.1 311.2,307.7M392.1,319.6 389.2,319.3 386.2,319 383.2,318.8 380.2,318.6 377.2,318.3 375.8,318.2M386.7,320.1 383.7,319.8 380.8,319.6 377.9,319.4 374.9,319.2 372,319 369.1,318.8 366.2,318.5 363.3,318.3 360.3,318.1 357.4,318 354.5,317.8 351.5,317.7 348.5,317.6 345.4,317.5 342.4,317.5 340.8,317.5M397.3,322.3 394.4,322.1 391.5,322 388.6,321.9 385.7,321.8 382.7,321.7 379.8,321.6 376.8,321.6 373.8,321.5 370.8,321.4 367.8,321.3 364.8,321.2 361.8,321.1 358.8,321 355.8,320.8 352.8,320.7 349.8,320.6 346.8,320.5 343.8,320.3 340.8,320.2 337.9,320.1 334.9,319.9 332,319.8 329.1,319.6 326.1,319.4 323.2,319.3 320.4,319.1 317.5,318.9 314.7,318.8 312.2,318.6 310.1,318.4 307.6,318.3M402.7,324.1 399.8,324.1 396.8,324 393.9,323.9 391,323.9 388.1,323.9 385.2,323.9 382.3,323.9 379.4,323.9 376.5,324 373.7,324.1 370.8,324.2 368,324.3 365.2,324.4 362.4,324.5M383.4,325.3 380.5,325.2 377.6,325.1 374.8,325 371.9,325 369.1,325 366.3,324.9 363.5,324.9 360.7,324.9 357.9,324.9 355.2,324.9 352.5,325 349.9,325.1 347.2,325.2 344.6,325.3 342.1,325.5 339.6,325.8 337.1,326 334.6,326.3 332.2,326.5 329.7,326.8 327.4,327.1 325,327.4 322.7,327.7 320.6,327.9 316.7,328.4M386.1,327.2 383.2,327.2 380.2,327.3 377.4,327.4 374.5,327.6 371.7,327.8 368.8,327.9 366,328.1 363.3,328.3 360.6,328.5 357.9,328.7 355.2,328.9 352.5,329.1 349.9,329.3 347.3,329.6 344.8,329.9 342.3,330.2 341,330.3M391.7,329 388.9,329.1 386,329.3 383.1,329.4 380.3,329.6 377.5,329.8 374.7,330 371.9,330.2 369.1,330.4 366.3,330.6 363.6,330.8 360.9,331.1 358.2,331.3 355.5,331.5 352.9,331.8 350.4,332.1 347.9,332.4 345.4,332.7 343,333.1 340.7,333.4 338.4,333.8 336.1,334.1 335.1,334.3M398.6,330 395.7,330.1 392.9,330.2 390,330.3 387.2,330.4 384.3,330.6 381.5,330.8 378.7,331 375.9,331.3 373.1,331.5 370.3,331.8 367.5,332.1 364.7,332.4 361.9,332.7 359.1,333.1 356.3,333.4 353.4,333.8 350.6,334.2 347.7,334.6 344.7,335 341.8,335.4 338.8,335.9 335.9,336.3 332.9,336.7 329.8,337.1 326.8,337.4 323.7,337.7 320.6,338 317.6,338.2 314.8,338.4 312.4,338.5 309.7,338.8M391.7,331.7 388.8,332 385.9,332.5 383.1,333 380.2,333.5 377.4,334.1 374.6,334.7 371.7,335.4 368.9,336 366.1,336.7 363.2,337.4 360.5,338.2 357.7,339 354.9,339.9 352.2,340.8 349.5,341.6 346.8,342.6 344.1,343.5 341.4,344.5 338.8,345.4 336.2,346.4 333.6,347.4 331.1,348.4 328.5,349.3M405.3,332.7 402.3,333.1 399.4,333.5 396.4,334 393.5,334.5 390.5,334.9 387.6,335.4 384.7,336 381.8,336.7 378.9,337.4 376,338.2 373.1,338.9 370.3,339.7 367.4,340.5 364.5,341.4 361.7,342.3 358.9,343.3 356.1,344.3 353.3,345.4 350.5,346.5 347.8,347.6 345,348.8 342.2,349.9 339.4,351.1 336.6,352.3 333.9,353.4 331.1,354.6 328.4,355.7 327,356.3M399.5,333.4 396.5,333.8 393.5,334.1 390.5,334.5 387.5,335 384.6,335.5 381.6,336.1 378.7,336.8 375.7,337.4 372.8,338.1 371.4,338.5M405.1,334.4 402.1,334.8 399.2,335.3 396.2,335.8 393.2,336.3 390.3,336.9 387.3,337.4 384.4,338.1 381.5,338.8 378.6,339.7 375.7,340.6 372.9,341.6 370,342.5 367.1,343.5 364.2,344.4 361.3,345.5 358.5,346.7 355.7,347.9 352.9,349.2 350,350.5 347.2,351.8 344.3,353.1 341.4,354.5 339.9,355.1M396.7,335.6 393.7,336.1 390.7,336.7 387.7,337.3 384.7,338 381.8,338.9 378.9,339.9 376,340.9 373.1,342 370.3,343.2 367.4,344.3 364.6,345.6 361.9,346.9 359.2,348.4 356.5,349.9 353.9,351.5 351.3,353.2 348.6,354.8 346,356.5 343.4,358.3 340.8,360 338.2,361.8 336.8,362.7M392.1,339.3 389,340.2 386,341 382.9,342 380,343.2 377.1,344.4 374.2,345.7 371.4,347.1 368.6,348.5 365.9,349.9 363.2,351.3 360.7,352.9 358.3,354.6 355.9,356.4 353.6,358.1 352.4,359M388.4,339.9 385.3,340.8 382.3,341.9 379.3,343.2 376.4,344.5 373.5,346 370.6,347.5 367.8,349 365,350.6 362.3,352.3 359.7,354.1 358.4,355M399.3,339.3 396.1,340.2 392.9,341.2 389.8,342.2 386.6,343.3 383.5,344.5 380.5,345.8 377.6,347.3 374.7,349.1 372,350.9 369.2,352.9 366.5,354.8 363.8,356.9 361.3,359.1 359,361.4 356.8,363.9 354.6,366.5 352.5,369.1 350.4,371.8 348.3,374.4 346.2,377.1 344.2,379.8 342.2,382.5 340.2,385.1 338.1,387.7 335.8,390.1 334.7,391.3M412.4,337.4 409,337.9 405.6,338.5 402.2,339.3 398.9,340.2 395.6,341.2 392.3,342.4M408.8,344.7 405.6,345.6 402.4,346.7 399.3,347.8 396.2,349 393.1,350.4 390.1,351.9 387.1,353.4 384.1,354.9 381.2,356.5 378.3,358.2 376.9,359.2M416.7,343.2 413.3,344.2 410,345.3 406.8,346.5 403.6,347.8 400.4,349.2 397.3,350.7 394.2,352.2 391.2,354 388.2,355.8 385.3,357.7 382.3,359.6 379.4,361.5 376.6,363.6 373.8,365.8 371.2,368.3 368.7,370.8 366.2,373.5 363.7,376.2 361.4,378.9M431.8,342.7 428,343.3 424.3,344.2 420.7,345.3 417.1,346.6 413.7,348.1 410.3,349.7 407,351.5 403.9,353.4 400.8,355.5 397.8,357.7 394.9,360 392.1,362.4 389.5,364.8 388.1,366.1M399.9,359.4 398.4,360.7 396.9,362.1 395.4,363.5 394,365 392.6,366.4 391.3,367.9 389.9,369.5 388.7,371 387.4,372.6 386.2,374.2 383.8,377.4 382.7,379 381.6,380.7 380.4,382.3 379.3,384 378.2,385.7 377.1,387.4 376,389 374.9,390.7 372.8,394.1 370.6,397.5 368.6,400.9M433.2,345.3 431.2,345.7 429.1,346.2 427.1,346.7 425.1,347.3 423.1,347.9 421.1,348.6 419.2,349.3 417.3,350.1 415.4,351 413.6,351.9 411.8,353 410,354.1 408.3,355.3 406.7,356.5 405,357.8 403.4,359.1 401.9,360.5 400.4,361.9 398.9,363.4 397.5,364.9 396.2,366.5 394.9,368.1 393.6,369.7M427.4,350.3 423.9,351.6 420.5,353.2 417.2,355.1 414,357.2 411,359.4 408.1,361.9 405.3,364.4 402.7,367.1 400.1,370 397.8,373 395.5,376.1 393.3,379.3 391.2,382.6 389.2,385.9 387.2,389.2 385.2,392.7 383.4,396.2 381.5,399.7 379.7,403.2 378,406.7 376.3,410.3 375.5,412.1M457.6,347 454.2,347 450.7,347.1 447.3,347.5 443.8,348 440.4,348.7 437.1,349.5 433.7,350.5 430.5,351.6 427.3,352.9 424.2,354.4 421.2,356.2 418.3,358 415.5,360 412.8,362 410.1,364.2 407.6,366.5 405.3,369M425.5,356.2 422.7,357.8 420,359.4 417.4,361.2 414.9,363.2 413.7,364.2M436.6,355.1 434,356.3 431.4,357.5 428.8,358.8 426.2,360.2 423.7,361.6 421.3,363.3 419,365.1 416.7,367 414.5,368.9 412.3,370.9 410.2,373 408.2,375.2 406.4,377.6 404.7,380 403.1,382.4 401.4,384.9 399.8,387.4 398.4,389.9 397,392.5 395.7,395.2 394.5,397.8 393.5,400.5 392.7,403.2 392.2,405.9 392.1,408.7 392.1,411.5 392.4,414.3 392.9,416.9 393.7,419.5 394.9,421.9 396.3,424.2 398,426.3 399.9,428.1 402.1,429.5 404.6,430.7 407.2,431.5 410,432.1 412.8,432.1 415.7,431.7 418.5,431 421,430.2 424.6,429.2M316.7,420 316,422.9 315.5,424.9 315,427.1 314.5,429.5 314.2,431.9 313.9,434.3 313.7,436.8 313.5,439.2 313.3,441.6 312.9,444 312.3,446.4 311.7,448.7 311,451 310.1,453.2 308.9,455.2 307.4,457.1 305.8,458.8 304,460.5 302.2,462.1 300.3,463.7 298.4,465.1 296.3,466.2 294.1,467.2 291.8,468.1 289.5,469 287.2,469.8 284.9,470.6 282.6,471.4 280.3,472.3 278,473 275.7,473.7 273.3,474.3 271,474.8 268.6,475.2 266.2,475.6 263.7,476 261.3,476.4 259,476.8 256.7,477.2 254.6,477.5 251.7,478M346.7,410 345.6,413 344.8,415.1 343.9,417.5 343,419.9 342.1,422.4 341.2,424.9 340.3,427.4 339.5,429.9 338.7,432.4 337.8,434.9 337,437.4 336.1,439.9 335.3,442.4 334.5,445 333.7,447.5 332.9,450 332.1,452.5 331.4,455.1 330.6,457.6 329.8,460.1 329.1,462.7 328.4,465.2 327.8,467.8 327.3,470.4 326.7,473 326.2,475.6 325.7,478.2 325.1,480.7 324.4,483.3 323.7,485.8 323,488.4 322.2,490.9 321.4,493.4 320.5,495.9 319.4,498.2 318,500.4 316.4,502.5 314.7,504.5 312.9,506.4 310.9,508 308.7,509.4 306.4,510.6 304,511.7 301.6,512.8 299.2,513.9 296.8,514.9 294.3,516 291.9,517 289.5,518 287,519 284.6,520 282.1,521.1 279.8,522.2 277.5,523.4 275.3,524.8 273.2,526.4 271.1,528.1 269.1,529.8 267.2,531.6 265.4,533.5 263.7,535.5 262.1,537.6 260.6,539.7 259,541.8 257.2,543.7 255.3,545.5 253.3,547.1 251.1,548.4 248.7,549.3 246.3,549.9 243.7,550.2 241.1,550.3 238.4,550.4 235.8,550.5 233.1,550.6 230.5,550.8 227.9,551 225.3,551.4 222.7,552 220.2,552.6 217.7,553.3 215.6,553.9 212.5,554.7M358.3,410 358.5,412.7 358.6,415.2 358.8,417.9 358.9,420.5 359.2,423.1 360,425.4 361.6,427.3 363.4,428.2 365.4,427.3 367.3,425.6 368.7,423.5 369.7,421.2 370.6,418.7 371.4,416.5 372,415M411,369 409.5,370.5 407.3,372.7 404.8,375.2 402.4,377.6 400,380.1 397.8,382.8 395.9,385.7 394.1,388.7 392.4,391.8 390.9,394.9 390,398.1 389.5,401.6 389.4,405 389.9,408.3 391.5,411.2 393.6,413.9 396.1,416.1 399.1,417.8 401.8,419.4 402.9,421.7 402.1,424.7 400.7,427.9 398.9,430.8 396.7,433.4 395.6,435.7 396.9,437.8 399.6,439.8 402.4,441.8 405.1,443.9 408,446M465,412.5 462.1,411.6 459.3,410.8 456.5,410.1 453.6,410.1 450.8,410.8 447.9,411.6 445,412.1 442.1,412.1 439.2,411.7 436.5,411.5 435.1,413.2 435.8,415.7 435.6,417.8 433.6,419.1 430.8,420 428,420.9 425.1,421.7 422.2,422.3 419.3,423 416.4,423.7 413.6,424.4 410.7,425.3 407.9,426.2 405.1,427.2 402.5,428.5 399.9,430 397.5,431.7 395.3,433.7 393.6,435.8 393.2,438.1 394.3,440.5 396,443M370,422.5 372.4,421 374.6,419.6 376.9,418.2 379.3,416.7 381.6,415.3 383.9,413.9 386.3,412.6 388.7,411.2 390.8,409.6 392.5,407.6 393.9,405.3 395.4,403 397.1,400.9 398.8,399.2 400,398M372,410 371.4,412.4 370.6,415.9 369.6,419.8 369.1,421.7 368.5,423.7 368,425.6 367.5,427.5 367,429.5 366.4,431.4 365.9,433.4 365.4,435.3 365,437.3 364.5,439.2 364.1,441.2 363.7,443.2 363.3,445.2 362.9,447.1 362.5,449.1 362,451.1 360.8,454.8 360,456.7 359.1,458.5 358.2,460.3 357.3,462.1 356.4,463.9 355.6,465.7 354.7,467.5 353.9,469.4 353.2,471.3 352.4,473.1 351.7,475 350.9,476.9 350.2,478.7 349.5,480.6 348.4,484.4 347.7,488.4 347.4,490.4 347.2,492.4 346.3,496.2 344.7,499.8 342.6,503.2 339.8,505.9 336.4,508 334.7,509 332.9,510 331.1,510.9 329.3,511.7 327.4,512.4 323.6,513.6 320.1,513.8 317.4,511.8 315.2,508.6 314.2,506.9 313.1,505.2 312.1,503.5 311,501.8 310,500.1 308.9,498.4 307.8,496.7 305.6,493.4 303.3,490" fill="none" stroke="#d2d2d2" stroke-width="1.4" stroke-linejoin="round"/>
<path d="M815,531.3 812.1,527.5 809.6,524.3 808.2,522.4 806.6,520.4 805.1,518.4 803.4,516.3 801.8,514.1 800.2,512 798.5,509.9 796.9,507.8 795.2,505.7 793.5,503.7 791.8,501.6 790,499.6 788.2,497.7 786.4,495.7 784.5,493.8 782.6,491.9 780.8,490 778.9,488.1 777,486.3 775.1,484.4 773.1,482.6 771.1,480.9 769.1,479.2 767,477.6 764.9,476.1 762.6,474.8 760.3,473.5 758,472.3 755.6,471.1 753.2,470 750.8,469 748.3,467.9 745.9,466.8 743.4,465.8 741,464.7 738.5,463.7 736.1,462.6 733.6,461.6 731.2,460.6 728.7,459.6 726.2,458.6 723.7,457.7 721.2,456.7 718.7,455.8 716.2,454.9 713.7,454 711.2,453.1 708.7,452.2 706.2,451.3 703.7,450.3 701.2,449.4 698.7,448.4 696.3,447.4 693.8,446.4 691.4,445.3 689,444.1 686.7,442.9 684.3,441.6 682,440.3 679.7,439 677.4,437.6 675.1,436.3 672.8,434.9 670.5,433.6 668.2,432.2 666,430.8 663.7,429.5 661.4,428.1 659.1,426.8 656.8,425.4 654.4,424.1 652.1,422.8 649.8,421.5 647.5,420.2 645.1,418.9 642.8,417.6 640.4,416.4 638.1,415.1 635.7,413.9 633.3,412.6 631,411.3 628.6,410.1 626.3,408.8 623.9,407.6 621.5,406.4 619.1,405.1 616.8,403.9 614.4,402.7 612,401.5 609.6,400.3 607.2,399.1 604.8,397.9 602.4,396.6 600,395.4 597.7,394.1 595.3,392.8 593,391.5 590.8,390 588.6,388.5 586.4,387 584.2,385.4 582.1,383.7 580,382 578,380.3 575.9,378.6 573.8,376.9 571.7,375.2 569.7,373.5 567.6,371.7 565.6,370 563.6,368.2 561.6,366.4 559.7,364.5 557.8,362.6 555.9,360.7 554.1,358.7 552.2,356.7 550.4,354.7 548.6,352.7 546.8,350.7 545,348.7 543.3,346.7 541.5,344.7 539.6,342.7 537.8,340.7 536,338.7 534.2,336.7 532.4,334.8 530.6,332.8 528.8,330.8 527,328.8 525.2,326.8 523.4,324.8 521.6,322.7 519.9,320.7 518.2,318.7 516.4,316.6 514.7,314.6 512.9,312.6 511.1,310.7 509.2,308.9 507.2,307.2 505.2,305.6 503.2,304.1 501.2,302.7 499.2,301.4 497.3,300.1 495.6,298.9 493.9,297.8 490.9,295.7 488,293.6 485.2,291.7 482.3,289.8 479.4,288.1 476.4,286.5 473.4,285.1 470.3,283.7 467.2,282.4 464.1,281.1 460.9,279.9 457.7,278.7 454.6,277.6 451.4,276.5 448.1,275.4 444.9,274.2 441.7,273.1 438.5,272 435.3,270.8 432.1,269.7 428.9,268.5 427.3,267.9M815,531.3 812,527.9 809.4,525.1 807.8,523.4 806.2,521.6 804.5,519.7 802.8,517.8 801.1,515.9 799.4,514 797.6,512 795.9,510.1 794.1,508.2 792.4,506.2 790.6,504.3 788.8,502.4 787,500.6 785.1,498.7 783.3,496.8 781.4,495 779.5,493.2 777.6,491.5 775.6,489.7 773.6,488 771.6,486.3 769.6,484.7 767.5,483.1 765.4,481.6 763.2,480.1 761,478.8 758.7,477.5 756.4,476.2 754.1,475 751.8,473.8 749.4,472.7 747,471.5 744.7,470.4 742.3,469.3 739.9,468.1 737.5,467 735.1,465.9 732.7,464.9 730.3,463.8 727.9,462.7 725.5,461.7 723.1,460.7 720.7,459.7 718.2,458.7 715.8,457.7 713.4,456.7 710.9,455.7 708.5,454.7 706.1,453.7 703.7,452.8 701.2,451.8 698.8,450.8 696.4,449.7 694,448.7 691.7,447.6 689.3,446.5 686.9,445.4 684.6,444.3 682.3,443.1 679.9,441.9 677.6,440.7 675.3,439.6 673,438.4 670.7,437.2 668.4,436 666,434.8 663.7,433.6 661.4,432.4 659.1,431.2 656.8,429.9 654.5,428.7 652.2,427.5 649.9,426.3 647.6,425.1 645.2,423.9 642.9,422.7 640.6,421.5 638.3,420.3 636,419.1 633.6,417.9 631.3,416.8 629,415.6 626.7,414.4 624.3,413.2 622,412 619.7,410.9 617.4,409.7 615,408.5 612.7,407.4 610.3,406.2 608,405 605.7,403.9 603.3,402.7 601,401.5 598.7,400.3 596.4,399.1 594.1,397.8 591.8,396.5 589.6,395.1 587.4,393.7 585.2,392.3 583,390.8 580.9,389.3 578.7,387.8 576.6,386.3 574.4,384.8 572.3,383.3 570.2,381.7 568.1,380.1 566.1,378.4 564.1,376.7 562.1,375 560.1,373.2 558.2,371.3 556.4,369.5 554.5,367.6 552.7,365.7 550.8,363.8 549,361.8 547.2,359.9 545.4,358 543.5,356.1 541.7,354.2 539.9,352.3 538,350.4 536.2,348.5 534.3,346.6 532.5,344.7 530.7,342.8 528.8,340.9 527,339 525.2,337.1 523.4,335.2 521.6,333.3 519.8,331.4 518,329.5 516.3,327.6 514.5,325.7 512.6,323.8 510.8,322.1 508.9,320.3 507,318.6 505,317 503.1,315.5 501.1,314 499.3,312.7 497.5,311.3 495.8,310.1 494.1,308.9 491.1,306.6 488.2,304.4 485.3,302.2 482.4,300.2 479.4,298.3 476.3,296.6 473.1,295 469.9,293.4 466.7,292 463.4,290.6 460.1,289.3 456.7,288 453.3,286.8 449.9,285.6 446.5,284.4 443.1,283.2 439.7,282.1 436.2,280.9 432.8,279.8 429.3,278.7 425.9,277.6 422.4,276.5 418.9,275.5 415.4,274.4 412,273.4 408.5,272.5 404.9,271.5 401.4,270.6 397.9,269.6M815,531.3 811.7,528.2 809,525.5 807.3,524 805.6,522.3 803.8,520.6 802,518.8 800.2,517 798.3,515.2 796.5,513.4 794.7,511.6 792.8,509.8 791,508 789.2,506.2 787.4,504.4 785.5,502.6 783.7,500.8 781.8,499 780,497.3 778.1,495.6 776.1,493.9 774.1,492.3 772.1,490.7 770.1,489.2 768,487.7 765.9,486.2 763.8,484.8 761.6,483.4 759.5,482 757.3,480.7 755,479.4 752.8,478.1 750.6,476.9 748.3,475.7 746,474.5 743.7,473.3 741.5,472.1 739.2,470.9 736.9,469.8 734.6,468.6 732.3,467.5 729.9,466.4 727.6,465.3 725.3,464.2 723,463.1 720.6,462 718.3,461 716,459.9 713.6,458.8 711.3,457.8 708.9,456.7 706.6,455.7 704.2,454.6 701.9,453.6 699.6,452.6 697.2,451.5 694.9,450.5 692.5,449.5 690.2,448.5 687.8,447.4 685.4,446.4 683.1,445.4 680.7,444.4 678.4,443.4 676,442.4 673.7,441.4 671.3,440.4 668.9,439.4 666.6,438.4 664.2,437.4 661.9,436.4 659.6,435.3 657.2,434.3 654.9,433.2 652.6,432.1 650.3,431 648,429.9 645.6,428.8 643.3,427.7 641,426.6 638.7,425.5 636.4,424.4 634.1,423.3 631.7,422.2 629.4,421.1 627.1,420 624.8,418.9 622.5,417.8 620.1,416.7 617.8,415.6 615.5,414.5 613.1,413.4 610.8,412.3 608.5,411.2 606.1,410.1 603.8,409 601.5,407.9 599.1,406.8 596.8,405.6 594.5,404.4 592.2,403.2 589.9,402 587.6,400.8 585.4,399.5 583.1,398.3 580.8,397 578.6,395.7 576.4,394.4 574.1,393.1 571.9,391.8 569.7,390.4 567.6,389 565.5,387.4 563.5,385.9 561.6,384.2 559.6,382.5 557.8,380.8 555.9,379 554.1,377.2 552.2,375.4 550.4,373.6 548.6,371.8 546.7,369.9 544.9,368.1 543.1,366.3 541.3,364.5 539.5,362.7 537.6,360.9 535.8,359 534,357.2 532.2,355.4 530.4,353.6 528.6,351.8 526.7,349.9 524.9,348.1 523.1,346.3 521.3,344.5 519.5,342.7 517.7,340.8 515.8,339 514,337.2 512.1,335.5 510.2,333.7 508.3,332 506.4,330.3 504.5,328.6 502.6,327 500.7,325.4 498.9,323.9 497.1,322.5 495.4,321.1 493.8,319.7 492.2,318.4 490.7,317.2 487.6,314.7 484.6,312.4 481.5,310.1 478.2,308.1 474.9,306.2 471.5,304.5 468,302.8 464.5,301.3 460.9,299.9 457.3,298.6 453.7,297.4 450,296.2 446.4,295 442.7,293.8 439.1,292.6 435.4,291.5 431.7,290.4 428,289.4 424.3,288.4 420.7,287.3 417,286.3 413.3,285.3 409.6,284.3 407.8,283.8M815,531.3 811.7,528.2 808.9,525.6 807.2,524 805.5,522.4 803.7,520.7 801.8,518.9 799.9,517.2 798,515.4 796.1,513.6 794.3,511.9 792.4,510.1 790.5,508.3 788.6,506.5 786.8,504.7 784.9,503 783,501.2 781.1,499.5 779.1,497.8 777.2,496.1 775.2,494.5 773.1,493 771,491.5 768.9,490 766.8,488.5 764.6,487.1 762.4,485.7 760.2,484.4 758,483.1 755.8,481.8 753.5,480.5 751.2,479.3 748.9,478.1 746.7,476.9 744.4,475.7 742,474.5 739.7,473.3 737.4,472.2 735.1,471 732.8,469.9 730.4,468.7 728.1,467.6 725.8,466.5 723.4,465.4 721.1,464.3 718.7,463.2 716.4,462.1 714,461.1 711.7,460 709.3,458.9 707,457.8 704.6,456.7 702.3,455.7 699.9,454.6 697.5,453.6 695.2,452.5 692.8,451.5 690.4,450.4 688,449.4 685.7,448.4 683.3,447.4 680.9,446.4 678.5,445.4 676.1,444.3 673.7,443.3 671.3,442.3 668.9,441.3 666.5,440.3 664.1,439.3 661.8,438.2 659.4,437.2 657,436.1 654.6,435 652.3,434 649.9,432.9 647.5,431.8 645.2,430.7 642.8,429.6 640.5,428.5 638.1,427.4 635.7,426.3 633.4,425.2 631,424.1 628.7,423 626.3,421.9 623.9,420.8 621.6,419.7 619.2,418.6 616.8,417.5 614.5,416.4 612.1,415.3 609.8,414.2 607.4,413.1 605,412 602.7,410.9 600.4,409.8 598,408.7 595.7,407.5 593.4,406.3 591.1,405.1 588.8,403.9 586.6,402.6 584.3,401.3 582.1,400 579.9,398.7 577.6,397.4 575.4,396.1 573.2,394.8 571.1,393.4 568.9,392 566.8,390.5 564.8,389 562.8,387.4 560.8,385.7 558.9,384 557.1,382.3 555.2,380.5 553.4,378.7 551.5,376.9 549.7,375.1 547.9,373.3 546.1,371.5 544.3,369.7 542.5,367.8 540.7,366 539,364.1 537.2,362.3 535.4,360.4 533.6,358.6 531.8,356.8 530,354.9 528.2,353.1 526.4,351.3 524.5,349.5 522.7,347.7 520.8,345.9 519,344.1 517.1,342.4 515.2,340.6 513.3,338.9 511.4,337.2 509.4,335.5 507.5,333.9 505.5,332.2 503.5,330.7 501.5,329.1 499.5,327.6 497.6,326.2 495.7,324.8 493.9,323.5 492.1,322.2 490.5,321.1 487.3,319 484.3,317 481.3,315.1 478.3,313.2 475.2,311.4 472,309.7 468.8,308.1 465.6,306.6 462.3,305.2 458.9,303.8 455.6,302.6 452.2,301.3 448.8,300.1 445.4,298.9 442,297.7 438.6,296.6 435.2,295.6 431.8,294.6 428.3,293.7 424.9,292.8 421.4,291.9 418,291.1 414.6,290.3M815,531.3 811.5,528.3 808.6,525.7 806.9,524.2 805,522.5 803.1,520.9 801.2,519.2 799.3,517.4 797.3,515.7 795.4,513.9 793.5,512.2 791.5,510.4 789.6,508.7 787.7,506.9 785.8,505.1 783.9,503.4 782,501.6 780,499.9 778,498.2 776,496.6 773.9,495 771.8,493.5 769.7,492 767.6,490.6 765.4,489.2 763.2,487.8 761,486.4 758.7,485.1 756.5,483.8 754.2,482.5 751.9,481.2 749.6,480 747.3,478.8 745,477.6 742.7,476.4 740.4,475.2 738.1,474 735.7,472.9 733.4,471.7 731.1,470.6 728.7,469.5 726.4,468.3 724,467.2 721.7,466.1 719.4,465 717,463.9 714.7,462.8 712.3,461.7 710,460.6 707.6,459.5 705.3,458.4 703,457.3 700.6,456.3 698.3,455.2 695.9,454.1 693.6,453.1 691.2,452 688.8,451 686.5,450 684.1,449 681.7,448 679.4,447 677,446 674.6,445 672.2,444 669.8,443 667.5,442 665.1,441 662.7,439.9 660.3,438.9 658,437.9 655.6,436.8 653.2,435.8 650.9,434.7 648.5,433.6 646.1,432.5 643.8,431.5 641.4,430.4 639,429.3 636.6,428.2 634.3,427.1 631.9,426.1 629.5,425 627.1,423.9 624.7,422.8 622.4,421.7 620,420.6 617.6,419.6 615.2,418.5 612.8,417.4 610.4,416.3 608,415.2 605.6,414.2 603.3,413.1 600.9,412 598.5,410.8 596.2,409.7 593.8,408.5 591.5,407.2 589.2,406 587,404.7 584.7,403.4 582.4,402 580.2,400.7 578,399.3 575.7,398 573.5,396.6 571.3,395.1 569.2,393.7 567.1,392.1 565,390.6 563,388.9 561,387.2 559.1,385.4 557.2,383.6 555.3,381.8 553.5,380 551.6,378.1 549.8,376.2 548,374.4 546.1,372.5 544.3,370.6 542.5,368.6 540.7,366.7 539,364.8 537.2,362.9 535.4,360.9 533.6,359 531.8,357.1 530,355.2 528.2,353.3 526.4,351.4 524.5,349.5 522.7,347.7 520.8,345.9 518.9,344.1 517,342.3 515.1,340.5 513.1,338.8 511.1,337.1 509.1,335.5 507.1,333.8 505.1,332.3 503,330.7 500.9,329.2 498.9,327.8 496.8,326.4 494.8,325 492.9,323.8 491.1,322.6 489.3,321.5 486.1,319.7 483,318.1 480,316.6 477.1,315.2 474.2,313.7 471.2,312.3 468.2,311 465.2,309.8 462.1,308.6 459,307.5 455.9,306.5 452.8,305.5 449.6,304.5 446.4,303.4 443.2,302.5 440,301.6 436.8,300.7 433.5,299.9 430.2,299.2 426.9,298.5 423.6,297.8 420.3,297.1 416.9,296.4 413.6,295.7 410.3,295 407,294.3 403.6,293.7 402,293.4M815,531.3 811.6,528.3 808.6,525.7 806.9,524.2 805,522.6 803.2,520.9 801.2,519.2 799.3,517.5 797.3,515.8 795.4,514.1 793.4,512.3 791.5,510.6 789.6,508.8 787.7,507.1 785.7,505.3 783.8,503.6 781.9,501.8 779.9,500.2 777.9,498.5 775.9,496.9 773.8,495.4 771.7,493.9 769.5,492.4 767.4,491 765.2,489.6 763,488.2 760.7,486.9 758.5,485.6 756.2,484.3 754,483 751.7,481.8 749.4,480.5 747.1,479.3 744.8,478.1 742.5,476.9 740.1,475.8 737.8,474.6 735.5,473.5 733.1,472.3 730.8,471.2 728.5,470 726.1,468.9 723.8,467.8 721.4,466.6 719.1,465.5 716.7,464.4 714.4,463.3 712,462.2 709.7,461 707.3,459.9 705,458.8 702.6,457.7 700.3,456.6 697.9,455.5 695.6,454.4 693.2,453.3 690.8,452.3 688.4,451.2 686.1,450.2 683.7,449.2 681.3,448.2 678.9,447.1 676.5,446.1 674.1,445.1 671.7,444.1 669.3,443.1 666.9,442.1 664.5,441 662.2,440 659.8,439 657.4,437.9 655,436.9 652.6,435.8 650.3,434.8 647.9,433.7 645.5,432.6 643.2,431.6 640.8,430.5 638.4,429.4 636,428.4 633.7,427.3 631.3,426.3 628.9,425.2 626.5,424.1 624.2,423.1 621.8,422 619.4,421 617,419.9 614.6,418.8 612.3,417.8 609.9,416.7 607.5,415.7 605.1,414.6 602.7,413.5 600.4,412.4 598,411.3 595.7,410.2 593.4,409 591.1,407.8 588.8,406.5 586.5,405.2 584.3,403.9 582.1,402.5 579.8,401.2 577.6,399.8 575.4,398.4 573.2,397 571,395.6 568.9,394.1 566.8,392.6 564.8,390.9 562.8,389.3 560.8,387.5 558.9,385.8 557.1,384 555.2,382.1 553.3,380.3 551.5,378.4 549.7,376.5 547.8,374.7 546,372.8 544.2,370.9 542.5,369 540.7,367 538.9,365.1 537.2,363.2 535.4,361.2 533.6,359.3 531.9,357.4 530.1,355.5 528.3,353.6 526.4,351.7 524.6,349.9 522.7,348.1 520.8,346.3 518.9,344.5 517,342.7 515.1,341 513.1,339.3 511.1,337.6 509.1,336 507,334.4 504.9,332.8 502.8,331.3 500.7,329.8 498.6,328.4 496.6,327 494.6,325.6 492.6,324.4 490.8,323.2 489,322.2 485.7,320.4 482.5,318.8 479.5,317.3 476.5,315.9 473.5,314.5 470.5,313.1 467.5,311.7 464.4,310.4 461.3,309.2 458.2,308.1 455,307.1 451.8,306.1 448.6,305.1 445.4,304.1 442.2,303.1 439,302.3 435.7,301.5 432.4,300.8 429.1,300.2 425.8,299.6 422.5,299 419.2,298.3 415.9,297.7 412.6,297.2 409.3,296.6 406,296 402.7,295.4 399.5,294.8 397.9,294.5M815,531.3 811.6,528.3 808.8,525.8 807.1,524.3 805.2,522.7 803.4,521.1 801.4,519.4 799.5,517.7 797.6,516 795.6,514.3 793.7,512.6 791.8,510.9 789.8,509.2 787.9,507.4 786,505.7 784,504 782.1,502.3 780.1,500.6 778.1,499 776,497.4 774,495.9 771.8,494.4 769.7,492.9 767.5,491.5 765.3,490.1 763.1,488.8 760.9,487.4 758.7,486.1 756.4,484.8 754.2,483.6 751.9,482.3 749.6,481.1 747.3,479.9 745,478.7 742.7,477.6 740.4,476.4 738.1,475.2 735.7,474.1 733.4,472.9 731.1,471.8 728.7,470.7 726.4,469.5 724.1,468.4 721.7,467.3 719.4,466.2 717,465.1 714.7,464 712.3,462.9 710,461.8 707.6,460.7 705.3,459.6 702.9,458.5 700.6,457.4 698.2,456.3 695.8,455.3 693.5,454.2 691.1,453.2 688.7,452.1 686.3,451.1 683.9,450.1 681.5,449.1 679.1,448.1 676.7,447.1 674.3,446.1 671.9,445.1 669.5,444.1 667.1,443.1 664.7,442.1 662.3,441 660,440 657.6,439 655.2,437.9 652.8,436.9 650.4,435.8 648.1,434.7 645.7,433.7 643.3,432.6 641,431.5 638.6,430.5 636.2,429.4 633.9,428.3 631.5,427.3 629.1,426.2 626.7,425.2 624.4,424.1 622,423 619.6,422 617.3,420.9 614.9,419.9 612.5,418.8 610.2,417.8 607.8,416.7 605.4,415.7 603.1,414.6 600.7,413.5 598.4,412.4 596,411.3 593.7,410.1 591.4,408.9 589.2,407.6 586.9,406.3 584.7,405 582.5,403.7 580.2,402.4 578,401 575.8,399.7 573.6,398.3 571.5,396.9 569.4,395.4 567.3,393.9 565.2,392.3 563.3,390.7 561.3,389 559.4,387.3 557.5,385.5 555.7,383.7 553.8,381.9 552,380.1 550.1,378.2 548.3,376.4 546.5,374.5 544.7,372.7 542.9,370.8 541.2,368.9 539.4,367 537.7,365 535.9,363.1 534.2,361.2 532.4,359.3 530.6,357.4 528.8,355.5 527,353.7 525.1,351.9 523.3,350 521.4,348.2 519.5,346.5 517.6,344.7 515.7,343 513.7,341.2 511.7,339.6 509.7,337.9 507.6,336.4 505.6,334.8 503.5,333.3 501.3,331.8 499.2,330.4 497.2,329 495.2,327.7 493.2,326.5 491.4,325.3 489.6,324.3 486.3,322.5 483.2,321 480.2,319.6 477.2,318.2 474.2,316.9 471.2,315.5 468.2,314.3 465.2,313.1 462.1,312 459,311 455.8,310.1 452.7,309.2 449.5,308.3 446.4,307.4 443.2,306.5 440.1,305.7 436.9,304.9 433.7,304.3 430.5,303.6 427.3,303 424.2,302.3 421,301.7 417.8,301 414.7,300.3 411.5,299.6M815,531.3 811.5,528.4 808.5,526 806.8,524.5 804.9,523 803,521.4 801.1,519.7 799.1,518 797.2,516.4 795.2,514.7 793.3,513 791.3,511.3 789.4,509.5 787.5,507.8 785.5,506.1 783.6,504.4 781.7,502.7 779.7,501 777.7,499.4 775.6,497.8 773.6,496.3 771.5,494.8 769.3,493.3 767.2,491.9 765,490.5 762.8,489.1 760.6,487.7 758.4,486.4 756.1,485.1 753.9,483.8 751.6,482.6 749.3,481.4 747,480.1 744.7,478.9 742.4,477.7 740.1,476.5 737.8,475.4 735.5,474.2 733.2,473 730.8,471.9 728.5,470.8 726.2,469.6 723.8,468.5 721.5,467.4 719.1,466.3 716.8,465.2 714.4,464.1 712.1,463 709.7,461.9 707.4,460.8 705,459.8 702.7,458.7 700.3,457.6 697.9,456.6 695.6,455.5 693.2,454.5 690.8,453.5 688.4,452.5 686,451.5 683.7,450.5 681.3,449.5 678.9,448.6 676.5,447.6 674.1,446.6 671.7,445.7 669.3,444.7 666.9,443.7 664.5,442.7 662.1,441.8 659.7,440.8 657.3,439.8 654.9,438.7 652.6,437.7 650.2,436.7 647.8,435.6 645.5,434.6 643.1,433.6 640.7,432.5 638.3,431.5 636,430.4 633.6,429.4 631.2,428.3 628.8,427.3 626.5,426.2 624.1,425.2 621.7,424.1 619.3,423.1 616.9,422 614.5,421 612.2,419.9 609.8,418.9 607.4,417.8 605,416.7 602.7,415.7 600.3,414.6 597.9,413.5 595.6,412.3 593.3,411.1 591,409.9 588.7,408.7 586.5,407.4 584.2,406.1 582,404.8 579.8,403.4 577.6,402.1 575.4,400.7 573.2,399.3 571,397.9 568.9,396.4 566.9,394.9 564.8,393.4 562.9,391.7 560.9,390 559,388.3 557.1,386.6 555.3,384.8 553.4,383 551.6,381.2 549.8,379.4 548,377.6 546.2,375.7 544.4,373.9 542.6,372 540.9,370.1 539.1,368.2 537.4,366.4 535.7,364.5 533.9,362.6 532.1,360.7 530.4,358.8 528.6,357 526.8,355.2 524.9,353.4 523.1,351.6 521.2,349.8 519.3,348.1 517.4,346.3 515.5,344.6 513.5,342.9 511.5,341.3 509.5,339.7 507.4,338.2 505.3,336.7 503.2,335.2 501.1,333.8 499,332.4 496.9,331 494.9,329.7 493,328.5 491.1,327.4 489.3,326.4 486,324.6 482.9,323.1 479.9,321.7 477,320.4 474,319 471,317.7 468.1,316.4 465.1,315.2 462,314.1 459,313.1 455.9,312.1 452.8,311.2 449.7,310.3 446.6,309.3 443.5,308.4 440.4,307.6 437.3,306.9 434.2,306.2 431,305.5 427.9,304.9 424.7,304.3 421.5,303.7 418.4,303 415.2,302.4 412,301.8 408.8,301.1 405.6,300.5 402.4,299.9 399.2,299.3 396,298.7 392.7,298.1 389.5,297.5 386.3,296.9 384.7,296.6M815,531.3 811.6,528.4 808.6,525.9 806.9,524.5 805.1,522.9 803.2,521.3 801.2,519.6 799.3,518 797.3,516.3 795.4,514.6 793.4,512.9 791.5,511.2 789.6,509.5 787.6,507.8 785.7,506.1 783.8,504.4 781.8,502.7 779.8,501 777.8,499.4 775.8,497.9 773.7,496.3 771.6,494.8 769.5,493.4 767.3,492 765.1,490.6 762.9,489.2 760.7,487.9 758.5,486.6 756.3,485.3 754,484 751.7,482.8 749.5,481.6 747.2,480.4 744.9,479.2 742.6,478 740.3,476.9 738,475.7 735.7,474.6 733.3,473.4 731,472.3 728.7,471.2 726.3,470.1 724,469 721.6,467.9 719.3,466.8 716.9,465.7 714.6,464.7 712.2,463.6 709.9,462.5 707.5,461.5 705.2,460.4 702.8,459.3 700.5,458.3 698.1,457.2 695.7,456.2 693.4,455.2 691,454.2 688.6,453.2 686.2,452.2 683.8,451.2 681.5,450.2 679.1,449.2 676.7,448.3 674.3,447.3 671.9,446.3 669.5,445.4 667.1,444.4 664.7,443.4 662.4,442.4 660,441.4 657.6,440.4 655.3,439.3 652.9,438.3 650.5,437.2 648.2,436.2 645.8,435.1 643.5,434 641.1,433 638.8,431.9 636.4,430.9 634.1,429.8 631.7,428.7 629.4,427.7 627,426.6 624.7,425.5 622.3,424.5 619.9,423.4 617.6,422.4 615.2,421.3 612.9,420.2 610.5,419.2 608.2,418.1 605.8,417.1 603.5,416 601.1,414.9 598.8,413.8 596.5,412.7 594.2,411.5 591.9,410.3 589.7,409.1 587.4,407.8 585.2,406.5 583,405.2 580.8,403.8 578.6,402.5 576.4,401.1 574.2,399.8 572.1,398.3 570,396.9 567.9,395.4 565.9,393.8 563.9,392.2 562,390.5 560,388.8 558.1,387 556.2,385.3 554.4,383.5 552.5,381.7 550.6,379.9 548.8,378.1 547,376.3 545.2,374.4 543.4,372.6 541.6,370.7 539.8,368.8 538,366.9 536.3,365.1 534.5,363.2 532.7,361.3 530.9,359.5 529,357.7 527.2,355.9 525.3,354.1 523.4,352.3 521.5,350.6 519.5,348.9 517.6,347.2 515.6,345.5 513.6,343.9 511.6,342.3 509.5,340.8 507.4,339.3 505.2,337.8 503.1,336.4 500.9,335 498.8,333.7 496.6,332.4 494.6,331.2 492.6,330.1 490.7,329 488.9,328.1 485.5,326.5 482.4,325.1 479.4,323.8 476.4,322.5 473.5,321.3 470.5,320 467.6,318.8 464.6,317.7 461.6,316.7 458.6,315.7 455.6,314.7 452.6,313.8 449.5,312.9 446.5,312 443.6,311.1 440.5,310.2 437.5,309.5 434.5,308.8 431.5,308.1 428.4,307.4 425.4,306.8 422.3,306.2 419.2,305.5 416.2,304.9 413.1,304.3M815,531.3 811.6,528.4 808.6,526 806.9,524.6 805.1,523 803.2,521.4 801.2,519.8 799.3,518.1 797.3,516.5 795.4,514.8 793.4,513.1 791.5,511.4 789.5,509.7 787.6,508 785.7,506.3 783.7,504.6 781.7,502.9 779.8,501.3 777.7,499.7 775.7,498.1 773.6,496.6 771.5,495.1 769.4,493.6 767.2,492.2 765,490.8 762.8,489.5 760.6,488.1 758.4,486.8 756.1,485.5 753.8,484.3 751.6,483 749.3,481.8 747,480.6 744.7,479.4 742.4,478.2 740.1,477 737.7,475.9 735.4,474.7 733.1,473.6 730.7,472.4 728.4,471.3 726.1,470.2 723.7,469.1 721.4,468 719,466.9 716.7,465.8 714.3,464.7 711.9,463.7 709.6,462.6 707.2,461.5 704.9,460.4 702.5,459.4 700.2,458.3 697.8,457.2 695.4,456.2 693.1,455.2 690.7,454.1 688.3,453.1 685.9,452.1 683.5,451.2 681.2,450.2 678.8,449.2 676.4,448.2 674,447.3 671.6,446.3 669.2,445.3 666.8,444.3 664.5,443.4 662.1,442.4 659.7,441.3 657.4,440.3 655,439.3 652.7,438.3 650.3,437.2 648,436.1 645.6,435.1 643.3,434 641,433 638.6,431.9 636.3,430.8 633.9,429.8 631.6,428.7 629.3,427.7 626.9,426.6 624.6,425.6 622.3,424.5 619.9,423.5 617.6,422.4 615.3,421.3 612.9,420.3 610.6,419.2 608.2,418.2 605.9,417.1 603.6,416.1 601.3,415 598.9,413.9 596.6,412.8 594.4,411.6 592.1,410.4 589.9,409.2 587.6,408 585.4,406.7 583.2,405.4 581,404 578.8,402.7 576.6,401.4 574.4,400 572.3,398.6 570.2,397.1 568.1,395.6 566.1,394.1 564.1,392.4 562.1,390.8 560.1,389.1 558.2,387.4 556.3,385.6 554.4,383.9 552.5,382.1 550.6,380.3 548.8,378.5 546.9,376.7 545.1,374.8 543.3,373 541.4,371.1 539.6,369.3 537.8,367.4 536,365.5 534.2,363.7 532.4,361.8 530.5,360 528.7,358.1 526.8,356.3 524.9,354.6 523,352.8 521,351.1 519.1,349.3 517.1,347.6 515.1,346 513.1,344.3 511.1,342.7 509,341.2 506.9,339.7 504.7,338.2 502.6,336.8 500.4,335.4 498.3,334.1 496.2,332.8 494.1,331.5 492.2,330.4 490.3,329.3 488.5,328.3 485.2,326.6 482.2,325.2 479.2,323.8 476.3,322.5 473.4,321.2 470.5,320 467.6,318.7 464.7,317.6 461.8,316.6 458.8,315.6 455.9,314.7 452.9,313.8 449.9,313 447,312.1 444,311.3 441,310.6 438.1,309.9 435.1,309.3 432,308.7 429,308.1 426,307.5 422.9,307 419.9,306.4 416.8,305.7 413.7,305.1 410.6,304.5 407.5,303.9 404.3,303.3 401.1,302.7 397.9,302.1 394.7,301.4 391.5,300.8 388.3,300.2 385,299.5 381.8,298.9M815,531.3 811.5,528.4 808.6,525.9 806.8,524.4 805,522.9 803.1,521.3 801.1,519.6 799.2,518 797.2,516.3 795.3,514.6 793.3,512.9 791.4,511.3 789.4,509.6 787.5,507.9 785.5,506.2 783.6,504.5 781.6,502.8 779.6,501.2 777.6,499.6 775.6,498 773.5,496.5 771.4,495.1 769.3,493.6 767.1,492.2 764.9,490.8 762.8,489.5 760.5,488.1 758.3,486.8 756.1,485.6 753.8,484.3 751.6,483.1 749.3,481.9 747,480.7 744.7,479.5 742.4,478.3 740.1,477.2 737.8,476 735.5,474.9 733.2,473.7 730.9,472.6 728.6,471.5 726.3,470.4 723.9,469.3 721.6,468.2 719.3,467.2 716.9,466.1 714.6,465.1 712.3,464 709.9,462.9 707.6,461.9 705.2,460.8 702.9,459.8 700.5,458.7 698.2,457.7 695.8,456.7 693.4,455.7 691.1,454.7 688.7,453.7 686.3,452.7 683.9,451.8 681.5,450.8 679.1,449.9 676.7,448.9 674.3,447.9 671.9,447 669.5,446 667.1,445.1 664.7,444.1 662.3,443.1 660,442.1 657.6,441.1 655.2,440.1 652.8,439.1 650.4,438 648.1,437 645.7,436 643.3,434.9 641,433.9 638.6,432.8 636.2,431.8 633.8,430.7 631.5,429.7 629.1,428.6 626.7,427.6 624.4,426.5 622,425.5 619.6,424.4 617.2,423.4 614.9,422.3 612.5,421.3 610.1,420.2 607.8,419.2 605.4,418.1 603,417 600.7,415.9 598.4,414.8 596,413.7 593.7,412.5 591.4,411.3 589.2,410.1 586.9,408.8 584.7,407.5 582.5,406.2 580.3,404.8 578.1,403.5 575.9,402.1 573.7,400.7 571.6,399.3 569.5,397.8 567.4,396.3 565.4,394.7 563.4,393.1 561.4,391.4 559.5,389.7 557.6,387.9 555.7,386.2 553.8,384.4 552,382.6 550.1,380.8 548.3,379 546.5,377.2 544.7,375.3 542.9,373.5 541.1,371.6 539.3,369.7 537.6,367.9 535.8,366 534,364.1 532.2,362.3 530.4,360.5 528.6,358.6 526.8,356.9 524.9,355.1 523.1,353.4 521.2,351.6 519.3,349.9 517.3,348.3 515.4,346.6 513.4,345 511.4,343.5 509.3,341.9 507.2,340.5 505.1,339.1 503,337.7 500.9,336.4 498.7,335.1 496.7,333.8 494.6,332.6 492.7,331.5 490.8,330.5 487.4,328.8 484.2,327.3 481.3,326.1 478.4,324.9 475.5,323.7 472.6,322.5 469.7,321.3 466.7,320.2 463.8,319.1 460.8,318.2 457.8,317.2 454.8,316.4 451.8,315.5 448.8,314.6 445.8,313.7 442.7,312.9 439.7,312.1 436.6,311.3 433.6,310.7 430.5,310 427.5,309.3 424.4,308.6 421.3,308 418.3,307.3 415.2,306.6 412.1,305.9 409,305.3 405.9,304.6 402.8,304M815,531.3 811.6,528.4 808.6,525.8 806.9,524.4 805.1,522.8 803.2,521.2 801.2,519.6 799.3,517.9 797.3,516.2 795.4,514.6 793.4,512.9 791.5,511.2 789.5,509.5 787.6,507.8 785.6,506.1 783.7,504.5 781.7,502.8 779.7,501.2 777.7,499.6 775.7,498.1 773.6,496.6 771.5,495.1 769.4,493.7 767.2,492.3 765,490.9 762.9,489.6 760.6,488.3 758.4,487 756.2,485.7 753.9,484.5 751.7,483.2 749.4,482 747.1,480.8 744.9,479.7 742.6,478.5 740.3,477.3 738,476.2 735.7,475.1 733.4,473.9 731,472.8 728.7,471.7 726.4,470.6 724.1,469.5 721.7,468.5 719.4,467.4 717,466.3 714.7,465.3 712.3,464.2 710,463.1 707.6,462.1 705.3,461 702.9,460 700.6,458.9 698.2,457.9 695.8,456.9 693.5,455.8 691.1,454.8 688.7,453.8 686.3,452.9 683.9,451.9 681.5,450.9 679.1,450 676.7,449 674.3,448 671.9,447.1 669.5,446.1 667.2,445.1 664.8,444.2 662.4,443.2 660,442.2 657.6,441.2 655.3,440.1 652.9,439.1 650.5,438.1 648.2,437 645.8,436 643.5,434.9 641.1,433.9 638.8,432.8 636.4,431.8 634.1,430.7 631.7,429.7 629.4,428.6 627,427.6 624.7,426.6 622.3,425.5 620,424.5 617.6,423.5 615.3,422.4 612.9,421.4 610.6,420.4 608.2,419.3 605.9,418.3 603.5,417.3 601.2,416.2 598.9,415.1 596.5,414 594.3,412.9 592,411.7 589.7,410.5 587.5,409.3 585.2,408 583,406.7 580.8,405.4 578.6,404.1 576.4,402.8 574.3,401.4 572.1,400 570,398.6 568,397.1 565.9,395.6 563.9,394 562,392.3 560,390.7 558.1,389 556.2,387.2 554.3,385.5 552.5,383.8 550.6,382 548.8,380.2 546.9,378.4 545.1,376.6 543.3,374.7 541.5,372.9 539.8,371 538,369.1 536.2,367.3 534.4,365.4 532.7,363.6 530.8,361.7 529,359.9 527.2,358.1 525.3,356.3 523.4,354.6 521.5,352.8 519.6,351.1 517.6,349.4 515.7,347.7 513.7,346.1 511.6,344.5 509.6,343 507.5,341.5 505.3,340 503.2,338.6 501,337.3 498.9,336 496.8,334.7 494.7,333.5 492.7,332.3 490.9,331.3 489.1,330.3 485.8,328.7 482.8,327.3 479.8,326.1 476.9,324.8 474,323.6 471.1,322.4 468.2,321.2 465.2,320.1 462.2,319.1 459.2,318.2 456.2,317.4 453.2,316.5 450.2,315.7 447.2,314.8 444.2,314 441.1,313.3 438.1,312.6 435,312 431.9,311.4 428.9,310.8 425.8,310.2 422.7,309.6 419.6,309 416.5,308.4 413.4,307.8 410.3,307.2 407.1,306.6 404,306.1 400.9,305.5 397.7,305 396.1,304.7M815,531.3 811.5,528.5 808.6,526.1 806.9,524.6 805,523.1 803.1,521.5 801.2,519.9 799.2,518.3 797.3,516.7 795.3,515 793.3,513.4 791.4,511.7 789.4,510.1 787.5,508.4 785.6,506.8 783.6,505.1 781.6,503.5 779.7,501.9 777.6,500.3 775.6,498.8 773.5,497.3 771.4,495.8 769.3,494.4 767.2,493 765,491.6 762.9,490.3 760.7,488.9 758.5,487.6 756.2,486.4 754,485.1 751.8,483.9 749.5,482.7 747.3,481.5 745,480.3 742.7,479.1 740.4,478 738.2,476.8 735.9,475.6 733.6,474.5 731.3,473.4 729,472.3 726.7,471.2 724.3,470.1 722,469 719.7,467.9 717.3,466.9 715,465.8 712.7,464.7 710.3,463.7 708,462.6 705.6,461.6 703.3,460.6 700.9,459.5 698.5,458.5 696.2,457.5 693.8,456.4 691.4,455.4 689,454.5 686.6,453.5 684.2,452.5 681.8,451.6 679.4,450.6 677,449.6 674.6,448.7 672.2,447.7 669.8,446.8 667.4,445.8 665,444.8 662.6,443.9 660.2,442.9 657.8,441.9 655.4,440.8 653.1,439.8 650.7,438.8 648.3,437.7 645.9,436.7 643.6,435.6 641.2,434.6 638.8,433.5 636.5,432.5 634.1,431.4 631.7,430.4 629.4,429.3 627,428.3 624.7,427.3 622.3,426.2 619.9,425.2 617.6,424.1 615.2,423.1 612.9,422.1 610.5,421 608.2,420 605.8,418.9 603.5,417.9 601.1,416.8 598.8,415.8 596.5,414.7 594.2,413.6 592,412.4 589.7,411.2 587.5,410 585.3,408.7 583.1,407.5 580.9,406.2 578.7,404.9 576.5,403.5 574.4,402.2 572.3,400.8 570.2,399.4 568.1,397.9 566.1,396.4 564.1,394.9 562.2,393.3 560.3,391.6 558.4,390 556.5,388.3 554.6,386.6 552.7,384.9 550.9,383.2 549.1,381.4 547.3,379.7 545.5,377.9 543.7,376.1 541.9,374.3 540.2,372.4 538.4,370.6 536.7,368.8 534.9,367 533.1,365.2 531.4,363.4 529.6,361.6 527.7,359.8 525.9,358.1 524,356.4 522.2,354.7 520.3,353 518.4,351.3 516.4,349.7 514.4,348.1 512.4,346.6 510.4,345.1 508.3,343.7 506.2,342.3 504,341 501.9,339.7 499.8,338.4 497.7,337.2 495.6,336 493.6,334.9 491.8,333.9 488.3,332.2 485.2,330.8 482.2,329.6 479.2,328.4 476.3,327.3 473.3,326.1 470.4,325 467.4,323.9 464.4,322.9 461.3,321.9 458.2,321.1 455.1,320.2 452.1,319.4 449,318.5 445.9,317.7 442.8,316.9 439.7,316.2 436.6,315.5 433.5,314.9 430.4,314.3 427.3,313.8 424.2,313.2 421.1,312.6 418,312.1 414.9,311.5 413.4,311.2M815,531.3 811.5,528.5 808.5,526.1 806.8,524.7 804.9,523.2 803,521.6 801.1,520.1 799.1,518.4 797.1,516.8 795.2,515.2 793.2,513.5 791.3,511.9 789.3,510.2 787.4,508.6 785.4,506.9 783.5,505.3 781.5,503.6 779.5,502 777.5,500.5 775.5,498.9 773.4,497.4 771.3,496 769.2,494.6 767.1,493.2 764.9,491.8 762.7,490.5 760.6,489.1 758.4,487.9 756.1,486.6 753.9,485.3 751.7,484.1 749.4,482.9 747.2,481.7 744.9,480.5 742.7,479.4 740.4,478.2 738.1,477.1 735.8,476 733.5,474.8 731.2,473.7 728.9,472.6 726.6,471.6 724.3,470.5 722,469.5 719.7,468.5 717.3,467.4 715,466.4 712.7,465.4 710.3,464.4 708,463.4 705.7,462.4 703.3,461.4 701,460.4 698.6,459.4 696.3,458.4 693.9,457.5 691.6,456.5 689.2,455.6 686.8,454.6 684.5,453.7 682.1,452.8 679.7,451.9 677.3,450.9 675,450 672.6,449.1 670.2,448.1 667.8,447.2 665.5,446.3 663.1,445.3 660.8,444.3 658.4,443.3 656,442.3 653.7,441.3 651.4,440.3 649,439.3 646.7,438.2 644.3,437.2 642,436.2 639.6,435.1 637.3,434.1 635,433 632.6,432 630.3,430.9 627.9,429.9 625.6,428.8 623.2,427.8 620.9,426.7 618.6,425.7 616.2,424.6 613.9,423.6 611.5,422.5 609.2,421.4 606.9,420.4 604.5,419.3 602.2,418.2 599.9,417.1 597.6,416 595.3,414.9 593,413.7 590.7,412.5 588.5,411.2 586.3,410 584,408.7 581.8,407.4 579.6,406 577.5,404.7 575.3,403.4 573.1,402 571,400.5 568.9,399.1 566.9,397.5 564.9,396 562.9,394.4 560.9,392.8 559,391.1 557.1,389.4 555.1,387.8 553.2,386.1 551.3,384.4 549.5,382.7 547.6,380.9 545.8,379.2 544,377.4 542.1,375.6 540.3,373.8 538.5,372 536.7,370.2 534.9,368.5 533.1,366.7 531.3,364.9 529.4,363.2 527.6,361.5 525.7,359.7 523.8,358 521.9,356.4 520,354.7 518.1,353.1 516.1,351.5 514.1,349.9 512,348.4 509.9,347 507.8,345.6 505.7,344.3 503.5,343 501.3,341.7 499.2,340.4 497.1,339.3 495,338.1 493,337.1 491.1,336.1 487.7,334.5 484.5,333.2 481.6,332 478.7,330.9 475.8,329.8 472.9,328.7 470,327.7 467.1,326.6 464.2,325.6 461.3,324.7 458.3,323.9 455.4,323 452.4,322.2 449.4,321.4 446.5,320.5 443.5,319.7 440.5,319 437.5,318.2 434.5,317.6 431.5,316.9 428.5,316.3 425.4,315.7 422.4,315 419.4,314.4 416.4,313.8 413.3,313.2 410.3,312.6 407.2,312.1 404.2,311.6 401.1,311.1 398,310.7 395,310.2 393.4,310M815,531.3 811.5,528.5 808.5,526.2 806.8,524.8 804.9,523.3 803,521.7 801,520.2 799.1,518.6 797.1,517 795.2,515.3 793.2,513.7 791.3,512.1 789.3,510.4 787.4,508.8 785.4,507.2 783.5,505.5 781.5,503.9 779.5,502.3 777.5,500.8 775.5,499.3 773.4,497.8 771.3,496.4 769.2,495 767.1,493.6 764.9,492.2 762.7,490.9 760.6,489.6 758.4,488.3 756.1,487.1 753.9,485.9 751.7,484.6 749.4,483.5 747.1,482.3 744.9,481.1 742.6,479.9 740.3,478.8 738,477.6 735.7,476.5 733.4,475.4 731.1,474.3 728.8,473.2 726.5,472.1 724.2,471.1 721.9,470 719.5,469 717.2,467.9 714.8,466.9 712.5,465.9 710.1,464.9 707.8,463.8 705.4,462.8 703.1,461.8 700.8,460.8 698.4,459.8 696,458.8 693.7,457.8 691.3,456.8 689,455.9 686.6,454.9 684.2,454 681.8,453 679.5,452.1 677.1,451.1 674.7,450.2 672.3,449.3 670,448.3 667.6,447.4 665.2,446.4 662.8,445.4 660.5,444.5 658.1,443.5 655.8,442.5 653.4,441.4 651.1,440.4 648.7,439.4 646.4,438.4 644,437.3 641.7,436.3 639.3,435.3 637,434.2 634.7,433.2 632.3,432.1 630,431.1 627.6,430.1 625.3,429 622.9,428 620.6,426.9 618.3,425.9 615.9,424.8 613.6,423.7 611.2,422.7 608.9,421.6 606.6,420.6 604.2,419.5 601.9,418.4 599.6,417.3 597.3,416.2 595,415 592.7,413.9 590.5,412.6 588.2,411.4 586,410.1 583.8,408.8 581.6,407.4 579.5,406.1 577.3,404.7 575.1,403.4 573,401.9 570.9,400.5 568.8,399 566.8,397.5 564.8,395.9 562.8,394.2 560.9,392.6 558.9,390.9 557,389.2 555.1,387.5 553.2,385.8 551.3,384.1 549.5,382.3 547.6,380.6 545.8,378.8 544,377 542.2,375.2 540.4,373.4 538.6,371.6 536.8,369.8 535,368.1 533.1,366.3 531.3,364.5 529.5,362.8 527.6,361 525.7,359.3 523.8,357.6 521.9,356 520,354.3 518.1,352.7 516.1,351.1 514.1,349.6 512,348.1 510,346.7 507.8,345.3 505.7,343.9 503.5,342.7 501.3,341.4 499.2,340.2 497.1,339 495,337.9 493.1,336.8 491.2,335.9 487.7,334.3 484.6,333 481.7,331.8 478.8,330.7 476,329.5 473.1,328.4 470.3,327.3 467.4,326.2 464.5,325.2 461.7,324.2 458.7,323.3 455.8,322.5 452.9,321.6 450,320.7 447.1,319.9 444.1,319.1 441.2,318.3 438.2,317.6 435.3,316.9 432.3,316.3 429.3,315.7 426.2,315.1 423.2,314.5 420.2,313.9 417.1,313.4 414,312.8 411,312.3 407.9,311.8 404.7,311.4 401.6,311 398.5,310.6 395.3,310.2 392.2,309.8 389,309.4 385.9,309 382.7,308.7 381.2,308.5M815,531.3 811.5,528.5 808.6,526.1 806.9,524.7 805,523.2 803.1,521.6 801.2,520 799.2,518.4 797.3,516.8 795.3,515.2 793.4,513.5 791.4,511.9 789.5,510.2 787.5,508.6 785.6,506.9 783.6,505.3 781.6,503.7 779.6,502.1 777.6,500.5 775.6,499 773.5,497.5 771.4,496.1 769.3,494.7 767.1,493.3 764.9,492 762.7,490.7 760.5,489.4 758.3,488.1 756.1,486.8 753.9,485.6 751.6,484.4 749.3,483.2 747.1,482 744.8,480.9 742.5,479.7 740.2,478.6 737.9,477.5 735.6,476.3 733.3,475.2 731,474.1 728.7,473.1 726.4,472 724,470.9 721.7,469.9 719.4,468.9 717,467.9 714.7,466.9 712.3,465.8 710,464.8 707.6,463.8 705.3,462.8 702.9,461.8 700.6,460.8 698.2,459.8 695.9,458.9 693.5,457.9 691.1,456.9 688.8,456 686.4,455 684,454.1 681.7,453.1 679.3,452.2 676.9,451.2 674.6,450.3 672.2,449.4 669.8,448.4 667.4,447.5 665.1,446.5 662.7,445.5 660.4,444.6 658,443.6 655.7,442.6 653.3,441.6 651,440.5 648.7,439.5 646.3,438.5 644,437.4 641.6,436.4 639.3,435.4 637,434.3 634.6,433.3 632.3,432.2 630,431.2 627.6,430.2 625.3,429.1 622.9,428.1 620.6,427 618.3,426 615.9,424.9 613.6,423.9 611.2,422.8 608.9,421.7 606.5,420.7 604.2,419.6 601.9,418.5 599.5,417.4 597.2,416.3 594.9,415.2 592.6,414 590.4,412.8 588.1,411.5 585.9,410.2 583.7,408.9 581.5,407.6 579.3,406.2 577.1,404.8 574.9,403.5 572.7,402 570.6,400.6 568.5,399.1 566.5,397.5 564.5,395.9 562.5,394.3 560.6,392.6 558.6,390.9 556.7,389.2 554.8,387.4 552.9,385.7 551,384 549.1,382.2 547.3,380.4 545.5,378.6 543.6,376.8 541.8,374.9 540.1,373.1 538.3,371.3 536.5,369.4 534.7,367.6 532.9,365.8 531.1,364 529.3,362.2 527.4,360.5 525.6,358.7 523.7,357 521.9,355.3 520,353.6 518,351.9 516.1,350.3 514.1,348.8 512.1,347.3 510,345.9 507.9,344.5 505.8,343.1 503.7,341.9 501.5,340.6 499.4,339.4 497.3,338.3 495.3,337.2 493.4,336.2 491.5,335.2 488.1,333.7 485,332.5 482.1,331.5 479.3,330.5 476.4,329.5 473.6,328.6 470.7,327.6 467.9,326.7 465,325.9 462.1,325.1 459.1,324.4 456.1,323.6 453.2,322.9 450.2,322.2 447.2,321.5 444.1,320.8 441.1,320.1 438,319.5 435,318.9 431.9,318.3 428.8,317.7 425.7,317.2 422.5,316.6 419.4,316 416.3,315.4 413.2,314.8 410,314.3 406.9,313.7 403.8,313.2 400.6,312.7 397.5,312.3 394.4,311.8 391.3,311.3M815,531.3 811.5,528.5 808.4,526.1 806.7,524.7 804.8,523.2 802.9,521.7 800.9,520.1 798.9,518.5 797,516.9 795,515.3 793,513.6 791.1,512 789.1,510.4 787.2,508.7 785.3,507.1 783.3,505.5 781.4,503.9 779.4,502.3 777.4,500.8 775.4,499.3 773.3,497.8 771.2,496.4 769.1,495 767,493.7 764.9,492.3 762.7,491 760.6,489.7 758.4,488.5 756.2,487.2 754,486 751.7,484.8 749.5,483.6 747.3,482.5 745,481.3 742.8,480.2 740.5,479 738.3,477.9 736,476.8 733.7,475.7 731.4,474.6 729.1,473.5 726.8,472.4 724.5,471.4 722.2,470.4 719.9,469.3 717.5,468.3 715.2,467.3 712.9,466.3 710.5,465.3 708.2,464.3 705.8,463.3 703.5,462.3 701.1,461.3 698.8,460.3 696.4,459.4 694.1,458.4 691.7,457.4 689.3,456.5 687,455.5 684.6,454.6 682.2,453.6 679.8,452.7 677.5,451.8 675.1,450.8 672.7,449.9 670.3,449 667.9,448 665.6,447.1 663.2,446.1 660.8,445.1 658.4,444.2 656.1,443.2 653.7,442.2 651.4,441.2 649,440.2 646.7,439.2 644.3,438.2 642,437.2 639.6,436.1 637.3,435.1 634.9,434.1 632.6,433.1 630.2,432.1 627.9,431.1 625.5,430.1 623.2,429 620.8,428 618.5,427 616.1,425.9 613.8,424.9 611.5,423.9 609.1,422.8 606.8,421.8 604.5,420.7 602.1,419.7 599.8,418.6 597.5,417.5 595.2,416.4 593,415.2 590.7,414 588.5,412.8 586.3,411.5 584.1,410.2 581.9,408.9 579.7,407.5 577.6,406.2 575.4,404.8 573.3,403.4 571.2,402 569.1,400.5 567.1,398.9 565.1,397.3 563.2,395.7 561.2,394.1 559.3,392.4 557.4,390.7 555.5,389 553.6,387.3 551.7,385.6 549.9,383.8 548,382.1 546.2,380.3 544.4,378.5 542.6,376.6 540.8,374.8 539,373 537.2,371.2 535.4,369.4 533.6,367.5 531.8,365.7 530,364 528.1,362.2 526.3,360.4 524.4,358.7 522.5,357 520.6,355.3 518.7,353.6 516.7,352 514.7,350.4 512.7,348.9 510.6,347.4 508.5,346 506.3,344.6 504.1,343.3 501.9,342 499.8,340.8 497.6,339.6 495.6,338.5 493.6,337.4 491.7,336.4 488.2,334.8 485,333.5 481.9,332.4 479,331.3 476.1,330.2 473.1,329.2 470.2,328.1 467.3,327.1 464.3,326.1 461.4,325.2 458.4,324.3 455.4,323.5 452.5,322.7 449.5,321.9 446.6,321.1 443.6,320.3 440.7,319.6 437.8,318.9 434.8,318.3 431.9,317.8 429,317.2 426.1,316.7 423.2,316.2 420.3,315.7 417.4,315.2 414.5,314.7 411.6,314.3 408.7,313.9 405.8,313.5 402.9,313.2 400,312.9 397,312.5 394.1,312.2 392.6,312M815,531.3 811.5,528.5 808.5,526.1 806.8,524.7 804.9,523.3 803,521.7 801,520.2 799,518.6 797,517 795.1,515.4 793.1,513.8 791.1,512.2 789.2,510.6 787.2,509 785.2,507.4 783.3,505.8 781.3,504.3 779.3,502.7 777.3,501.2 775.2,499.8 773.1,498.3 771,496.9 768.9,495.6 766.8,494.3 764.6,493 762.4,491.7 760.3,490.4 758.1,489.2 755.9,487.9 753.6,486.7 751.4,485.5 749.2,484.4 746.9,483.2 744.7,482 742.4,480.9 740.2,479.7 737.9,478.6 735.7,477.5 733.4,476.4 731.1,475.3 728.8,474.2 726.5,473.2 724.2,472.1 721.9,471.1 719.6,470.1 717.3,469.1 715,468.1 712.6,467.1 710.3,466.1 708,465.1 705.6,464.1 703.3,463.1 701,462.1 698.6,461.2 696.3,460.2 693.9,459.2 691.6,458.2 689.3,457.3 686.9,456.3 684.5,455.4 682.2,454.4 679.8,453.5 677.5,452.5 675.1,451.6 672.8,450.7 670.4,449.7 668.1,448.8 665.7,447.8 663.4,446.9 661,445.9 658.7,444.9 656.3,443.9 654,443 651.6,442 649.3,441 647,440 644.6,439 642.3,438 640,437 637.6,436 635.3,435 633,434 630.6,433 628.3,432 626,431 623.7,430 621.3,429 619,427.9 616.7,426.9 614.4,425.9 612.1,424.9 609.8,423.8 607.5,422.8 605.2,421.8 602.9,420.7 600.6,419.7 598.3,418.6 596,417.5 593.8,416.3 591.5,415.1 589.3,413.9 587.1,412.7 585,411.4 582.8,410.1 580.6,408.8 578.5,407.5 576.4,406.1 574.2,404.7 572.2,403.3 570.1,401.8 568.1,400.3 566.1,398.8 564.1,397.2 562.2,395.6 560.2,393.9 558.3,392.3 556.4,390.6 554.5,388.9 552.6,387.2 550.7,385.5 548.9,383.8 547.1,382 545.2,380.2 543.4,378.4 541.6,376.6 539.8,374.8 538,373 536.2,371.2 534.4,369.4 532.6,367.6 530.8,365.9 529,364.1 527.1,362.3 525.3,360.6 523.4,358.9 521.5,357.2 519.6,355.5 517.7,353.9 515.7,352.3 513.7,350.8 511.6,349.3 509.5,348 507.4,346.6 505.2,345.3 503.1,344.1 500.9,342.9 498.8,341.7 496.8,340.6 494.8,339.6 493,338.7 489.6,337.2 486.5,336 483.5,335 480.7,334.1 477.8,333.1 475,332.2 472.1,331.3 469.3,330.5 466.4,329.7 463.5,328.9 460.6,328.2 457.7,327.6 454.7,326.9 451.8,326.3 448.8,325.6 445.9,325 442.9,324.4 440,323.8 437,323.2 434,322.7 431,322.2 428,321.7 425,321.2 422,320.6 419,320.1 416,319.6 413,319.1 410,318.6 407,318.1 404,317.7 400.9,317.4 397.9,317 394.8,316.6 391.8,316.3 388.7,315.9 387.2,315.7M815,531.3 811.5,528.5 808.6,526.2 806.9,524.8 805,523.3 803.1,521.8 801.2,520.2 799.2,518.7 797.2,517.1 795.2,515.5 793.3,513.9 791.3,512.4 789.3,510.8 787.4,509.2 785.4,507.6 783.4,506 781.5,504.4 779.5,502.9 777.4,501.4 775.4,499.9 773.3,498.5 771.2,497.1 769,495.7 766.9,494.4 764.7,493.1 762.5,491.8 760.3,490.5 758.1,489.3 755.9,488 753.7,486.8 751.4,485.6 749.2,484.4 746.9,483.3 744.7,482.1 742.4,480.9 740.1,479.8 737.9,478.6 735.6,477.5 733.3,476.4 731,475.3 728.7,474.2 726.4,473.1 724.1,472.1 721.8,471.1 719.5,470 717.1,469 714.8,468 712.5,467.1 710.1,466.1 707.8,465.1 705.5,464.1 703.1,463.1 700.8,462.1 698.4,461.1 696.1,460.2 693.8,459.2 691.4,458.3 689.1,457.3 686.7,456.4 684.4,455.4 682,454.5 679.7,453.5 677.3,452.6 675,451.7 672.6,450.7 670.3,449.8 667.9,448.9 665.6,447.9 663.2,447 660.9,446 658.6,445.1 656.2,444.1 653.9,443.1 651.6,442.1 649.2,441.1 646.9,440.1 644.6,439.1 642.3,438.2 639.9,437.2 637.6,436.2 635.3,435.2 633,434.2 630.6,433.2 628.3,432.2 626,431.1 623.7,430.1 621.3,429.1 619,428.1 616.7,427 614.4,426 612.1,425 609.8,423.9 607.5,422.9 605.2,421.8 602.9,420.8 600.6,419.7 598.3,418.6 596,417.5 593.8,416.4 591.5,415.2 589.3,414 587.1,412.7 584.9,411.4 582.8,410.1 580.6,408.8 578.5,407.5 576.3,406.1 574.2,404.7 572.1,403.3 570.1,401.8 568.1,400.3 566.1,398.8 564.1,397.2 562.1,395.6 560.2,393.9 558.3,392.3 556.4,390.6 554.5,388.9 552.6,387.3 550.7,385.5 548.8,383.8 547,382.1 545.2,380.3 543.4,378.5 541.5,376.7 539.7,375 537.9,373.2 536.1,371.4 534.3,369.6 532.5,367.8 530.7,366.1 528.8,364.3 527,362.6 525.1,360.9 523.2,359.1 521.4,357.5 519.4,355.8 517.5,354.2 515.5,352.6 513.5,351.1 511.4,349.7 509.3,348.4 507.2,347 505,345.8 502.8,344.5 500.7,343.3 498.6,342.2 496.5,341.1 494.6,340.1 492.7,339.2 489.3,337.7 486.2,336.5 483.3,335.5 480.5,334.5 477.6,333.6 474.8,332.7 472,331.7 469.2,330.8 466.4,330 463.5,329.1 460.6,328.4 457.7,327.7 454.8,327 451.9,326.3 449,325.6 446,324.9 443.1,324.2 440.1,323.6 437.1,323 434.1,322.5 431.1,321.9 428.1,321.4 425.1,320.9 422.1,320.4 419.1,319.9 416,319.4 413,318.9 410,318.5 407,318.1 404,317.7 400.9,317.3 397.9,317 394.9,316.6 391.9,316.3 388.9,315.9 385.9,315.6 384.4,315.4M815,531.3 811.5,528.5 808.4,526.1 806.7,524.7 804.8,523.2 802.8,521.6 800.9,520.1 798.9,518.5 796.9,516.9 794.9,515.3 793,513.7 791,512.1 789,510.5 787.1,508.9 785.2,507.3 783.2,505.7 781.2,504.1 779.2,502.5 777.2,501 775.2,499.5 773.1,498.1 771,496.7 768.9,495.4 766.8,494 764.6,492.7 762.5,491.4 760.3,490.1 758.1,488.9 755.9,487.6 753.7,486.4 751.5,485.2 749.3,484.1 747,482.9 744.8,481.7 742.5,480.6 740.3,479.4 738,478.3 735.8,477.2 733.5,476.1 731.2,475 728.9,473.9 726.6,472.8 724.3,471.8 722,470.8 719.7,469.8 717.4,468.8 715.1,467.8 712.7,466.8 710.4,465.8 708.1,464.8 705.7,463.9 703.4,462.9 701.1,461.9 698.7,460.9 696.4,460 694,459 691.7,458 689.4,457.1 687,456.1 684.7,455.2 682.3,454.2 679.9,453.3 677.6,452.4 675.2,451.4 672.9,450.5 670.5,449.6 668.2,448.6 665.8,447.7 663.5,446.7 661.1,445.8 658.8,444.8 656.4,443.8 654.1,442.9 651.7,441.9 649.4,440.9 647.1,439.9 644.7,438.9 642.4,437.9 640.1,436.9 637.7,435.9 635.4,434.9 633.1,433.9 630.7,433 628.4,432 626.1,430.9 623.7,429.9 621.4,428.9 619.1,427.9 616.8,426.9 614.4,425.8 612.1,424.8 609.8,423.8 607.5,422.8 605.2,421.7 602.8,420.7 600.5,419.6 598.2,418.6 595.9,417.5 593.7,416.3 591.4,415.1 589.2,413.9 587,412.7 584.8,411.4 582.6,410.1 580.4,408.8 578.2,407.5 576.1,406.2 573.9,404.8 571.8,403.4 569.7,401.9 567.6,400.4 565.6,398.9 563.6,397.3 561.6,395.7 559.6,394.1 557.7,392.5 555.7,390.9 553.8,389.2 551.8,387.6 549.9,385.9 548,384.2 546.1,382.4 544.3,380.7 542.4,379 540.6,377.2 538.8,375.4 536.9,373.7 535.1,371.9 533.3,370.1 531.4,368.4 529.6,366.7 527.7,364.9 525.8,363.2 524,361.5 522.1,359.8 520.2,358.1 518.3,356.5 516.3,354.9 514.4,353.3 512.3,351.9 510.3,350.4 508.2,349.1 506,347.8 503.9,346.5 501.7,345.2 499.6,344 497.5,342.9 495.5,341.8 493.5,340.7 491.7,339.8 488.3,338.3 485.2,337 482.3,335.9 479.4,334.9 476.6,333.9 473.8,332.9 471,331.8 468.1,330.8 465.2,329.9 462.3,329 459.4,328.2 456.5,327.4 453.6,326.6 450.6,325.8 447.6,325.1 444.7,324.3 441.7,323.6 438.7,323 435.7,322.4 432.7,321.8 429.7,321.3 426.7,320.8 423.7,320.3 420.7,319.8 417.7,319.3 414.7,318.8 411.7,318.3 408.7,317.8 405.7,317.4 402.6,317.1 399.6,316.7 398.1,316.6M815,531.3 811.5,528.6 808.4,526.3 806.7,524.9 804.8,523.5 802.9,522 800.9,520.5 798.9,518.9 796.9,517.4 795,515.8 793,514.2 791,512.6 789.1,511.1 787.1,509.5 785.2,507.9 783.2,506.3 781.3,504.8 779.3,503.2 777.3,501.7 775.2,500.3 773.2,498.9 771.1,497.5 769,496.2 766.8,494.9 764.7,493.6 762.5,492.3 760.4,491 758.2,489.8 756,488.6 753.8,487.4 751.6,486.2 749.3,485 747.1,483.8 744.9,482.7 742.6,481.5 740.4,480.4 738.1,479.3 735.9,478.2 733.6,477.1 731.3,476 729,474.9 726.7,473.8 724.4,472.8 722.1,471.8 719.8,470.8 717.5,469.8 715.1,468.8 712.8,467.8 710.5,466.9 708.1,465.9 705.8,464.9 703.4,463.9 701.1,463 698.8,462 696.4,461.1 694.1,460.1 691.7,459.1 689.4,458.2 687,457.3 684.7,456.3 682.3,455.4 680,454.5 677.6,453.6 675.3,452.7 672.9,451.7 670.6,450.8 668.2,449.9 665.9,449 663.5,448 661.2,447.1 658.8,446.2 656.5,445.2 654.2,444.2 651.8,443.3 649.5,442.3 647.2,441.3 644.8,440.3 642.5,439.4 640.2,438.4 637.8,437.4 635.5,436.4 633.2,435.4 630.9,434.4 628.5,433.5 626.2,432.4 623.9,431.4 621.6,430.4 619.2,429.4 616.9,428.4 614.6,427.3 612.3,426.3 610,425.3 607.7,424.3 605.3,423.2 603,422.2 600.7,421.1 598.4,420 596.1,418.9 593.9,417.8 591.6,416.6 589.4,415.4 587.2,414.1 585,412.9 582.8,411.6 580.7,410.2 578.5,408.9 576.4,407.6 574.3,406.2 572.2,404.8 570.1,403.3 568.1,401.8 566.1,400.3 564.1,398.7 562.1,397.1 560.2,395.5 558.3,393.9 556.3,392.2 554.4,390.6 552.6,388.9 550.7,387.2 548.8,385.5 547,383.8 545.2,382 543.4,380.3 541.6,378.5 539.8,376.7 538,375 536.2,373.2 534.4,371.4 532.7,369.7 530.9,367.9 529.1,366.2 527.3,364.4 525.4,362.7 523.6,361 521.8,359.3 519.9,357.7 518,356 516,354.5 514.1,353 512,351.6 509.9,350.2 507.8,348.8 505.7,347.5 503.6,346.3 501.4,345.1 499.4,343.9 497.3,342.8 495.4,341.8 493.6,340.8 490.2,339.3 487.1,338.1 484.2,337 481.4,336 478.5,335.1 475.7,334.1 472.9,333.1 470,332.2 467.2,331.3 464.3,330.5 461.4,329.8 458.5,329.1 455.5,328.5 452.6,327.8 449.7,327.2 446.8,326.6 443.9,326 440.9,325.5 438,325 435,324.5 432.1,324.1 429.1,323.7 426.2,323.3 423.2,322.9 420.3,322.5 417.3,322.1 414.4,321.8 411.4,321.4 408.5,321.1 405.5,320.8 402.5,320.5 399.6,320.2 396.6,320 393.6,319.7 392.1,319.6M815,531.3 811.4,528.6 808.4,526.2 806.6,524.8 804.7,523.4 802.8,521.8 800.8,520.3 798.8,518.7 796.9,517.2 794.9,515.6 792.9,514 790.9,512.4 789,510.8 787,509.2 785.1,507.6 783.2,506 781.2,504.4 779.2,502.9 777.2,501.3 775.2,499.9 773.1,498.5 771,497.1 768.9,495.7 766.8,494.4 764.6,493.1 762.5,491.8 760.3,490.5 758.1,489.3 755.9,488.1 753.7,486.9 751.5,485.7 749.3,484.5 747.1,483.4 744.8,482.2 742.6,481.1 740.4,479.9 738.1,478.8 735.9,477.7 733.6,476.7 731.3,475.6 729,474.5 726.8,473.5 724.5,472.5 722.1,471.5 719.8,470.5 717.5,469.6 715.2,468.6 712.8,467.7 710.5,466.7 708.2,465.8 705.8,464.8 703.5,463.9 701.1,463 698.8,462 696.4,461.1 694.1,460.2 691.7,459.3 689.4,458.3 687,457.4 684.6,456.5 682.2,455.6 679.9,454.7 677.5,453.8 675.1,452.9 672.7,452 670.4,451.1 668,450.2 665.6,449.3 663.3,448.4 660.9,447.4 658.5,446.5 656.2,445.5 653.8,444.6 651.5,443.6 649.1,442.6 646.8,441.6 644.4,440.7 642.1,439.7 639.8,438.7 637.4,437.7 635.1,436.7 632.7,435.7 630.4,434.8 628.1,433.8 625.8,432.8 623.5,431.7 621.2,430.7 618.8,429.7 616.5,428.7 614.2,427.7 611.9,426.6 609.7,425.6 607.4,424.6 605.1,423.6 602.8,422.5 600.5,421.5 598.2,420.4 596,419.3 593.8,418.2 591.6,417 589.4,415.8 587.2,414.5 585.1,413.3 582.9,412 580.8,410.7 578.7,409.3 576.6,408 574.5,406.6 572.4,405.2 570.4,403.7 568.4,402.2 566.4,400.7 564.5,399.1 562.6,397.5 560.7,395.9 558.8,394.3 556.9,392.7 555,391 553.1,389.3 551.3,387.6 549.4,385.9 547.6,384.2 545.8,382.5 544,380.7 542.2,378.9 540.5,377.2 538.7,375.4 536.9,373.6 535.1,371.9 533.3,370.1 531.5,368.3 529.7,366.6 527.9,364.8 526.1,363.1 524.2,361.4 522.4,359.7 520.5,358 518.6,356.4 516.6,354.9 514.6,353.4 512.6,351.9 510.5,350.6 508.4,349.2 506.2,347.9 504.1,346.7 501.9,345.5 499.9,344.3 497.8,343.2 495.9,342.2 494,341.3 490.7,339.8 487.6,338.6 484.7,337.5 481.9,336.6 479.1,335.6 476.3,334.7 473.4,333.8 470.6,332.9 467.8,332 464.9,331.2 462,330.5 459.1,329.8 456.2,329.2 453.3,328.5 450.4,327.9 447.4,327.3 444.5,326.7 441.6,326.1 438.6,325.6 435.6,325.1 432.7,324.7 429.7,324.3 426.7,324 423.8,323.6 420.8,323.2 417.8,322.8 414.8,322.5 411.9,322.2 408.9,321.9 405.9,321.6 402.9,321.4 400,321.2 397,320.9 394,320.7 391.1,320.5 388.1,320.2 386.7,320.1M815,531.3 811.5,528.7 808.5,526.4 806.7,525.1 804.8,523.7 802.9,522.2 800.9,520.7 798.9,519.2 796.9,517.7 795,516.1 793,514.5 791,513 789.1,511.4 787.1,509.8 785.2,508.2 783.2,506.6 781.3,505.1 779.3,503.6 777.2,502.1 775.2,500.6 773.1,499.2 771,497.8 768.9,496.5 766.7,495.1 764.6,493.8 762.4,492.5 760.2,491.3 758,490 755.8,488.8 753.6,487.6 751.4,486.4 749.2,485.2 747,484 744.7,482.8 742.5,481.6 740.2,480.5 738,479.3 735.7,478.2 733.5,477.1 731.2,476 728.9,474.9 726.6,473.9 724.3,472.8 722,471.8 719.7,470.8 717.4,469.8 715.1,468.8 712.7,467.8 710.4,466.9 708.1,465.9 705.8,464.9 703.5,463.9 701.1,463 698.8,462 696.5,461.1 694.1,460.1 691.8,459.2 689.5,458.3 687.1,457.4 684.8,456.5 682.4,455.6 680.1,454.7 677.7,453.8 675.4,452.9 673,452 670.7,451.1 668.3,450.3 666,449.4 663.6,448.5 661.3,447.6 658.9,446.7 656.6,445.7 654.2,444.8 651.9,443.9 649.5,442.9 647.2,442 644.9,441 642.5,440.1 640.2,439.1 637.9,438.2 635.5,437.2 633.2,436.3 630.8,435.3 628.5,434.3 626.2,433.4 623.8,432.4 621.5,431.4 619.2,430.4 616.8,429.4 614.5,428.4 612.2,427.4 609.9,426.4 607.5,425.3 605.2,424.3 602.9,423.3 600.6,422.2 598.3,421.2 596,420.1 593.8,418.9 591.5,417.8 589.3,416.5 587.1,415.3 584.9,414 582.8,412.7 580.6,411.3 578.5,410 576.4,408.6 574.3,407.2 572.2,405.8 570.2,404.3 568.2,402.8 566.2,401.2 564.2,399.6 562.3,398 560.4,396.4 558.5,394.7 556.6,393 554.7,391.4 552.8,389.7 551,388 549.2,386.2 547.4,384.5 545.6,382.7 543.8,381 542,379.2 540.2,377.4 538.5,375.6 536.7,373.9 534.9,372.1 533.1,370.3 531.4,368.6 529.6,366.8 527.8,365.1 526,363.3 524.2,361.6 522.3,359.9 520.5,358.3 518.6,356.7 516.6,355.2 514.6,353.7 512.6,352.3 510.5,350.9 508.4,349.6 506.2,348.3 504.1,347.1 502,345.9 499.9,344.8 497.9,343.7 495.9,342.7 494.1,341.8 490.6,340.4 487.6,339.3 484.6,338.4 481.8,337.5 478.9,336.6 476.1,335.8 473.3,334.9 470.4,334 467.6,333.2 464.7,332.4 461.9,331.7 459,331.1 456.1,330.4 453.3,329.8 450.5,329.2 447.6,328.5 444.8,327.9 442,327.3 439.3,326.7 436.5,326.2 433.7,325.8 430.9,325.4 428.2,325 425.4,324.6 422.6,324.3 419.9,323.9 417.1,323.6 414.3,323.3 411.5,323 408.7,322.8 405.9,322.6 403,322.5 400.2,322.4 397.3,322.3M815,531.3 811.5,528.6 808.5,526.4 806.7,525.1 804.9,523.6 802.9,522.2 801,520.7 799,519.2 797,517.6 795,516.1 793,514.5 791.1,513 789.1,511.4 787.2,509.8 785.2,508.3 783.3,506.7 781.3,505.2 779.3,503.7 777.3,502.2 775.2,500.8 773.1,499.4 771,498.1 768.9,496.7 766.8,495.4 764.6,494.2 762.4,492.9 760.2,491.7 758.1,490.5 755.9,489.3 753.6,488.1 751.4,486.9 749.2,485.7 747,484.6 744.7,483.4 742.5,482.3 740.3,481.2 738,480.1 735.7,479 733.5,477.9 731.2,476.8 728.9,475.7 726.6,474.7 724.3,473.7 722,472.7 719.7,471.7 717.4,470.7 715.1,469.7 712.8,468.8 710.4,467.8 708.1,466.8 705.8,465.9 703.5,464.9 701.1,463.9 698.8,463 696.5,462 694.1,461.1 691.8,460.2 689.5,459.3 687.1,458.4 684.8,457.5 682.4,456.6 680.1,455.7 677.8,454.8 675.4,453.9 673.1,453 670.7,452.1 668.4,451.3 666.1,450.4 663.8,449.5 661.4,448.6 659.1,447.6 656.8,446.7 654.5,445.8 652.2,444.8 649.9,443.9 647.6,443 645.3,442 643,441 640.7,440.1 638.4,439.1 636.1,438.2 633.8,437.2 631.5,436.3 629.2,435.3 626.9,434.3 624.6,433.3 622.3,432.3 620,431.4 617.7,430.4 615.4,429.4 613.1,428.4 610.8,427.3 608.5,426.3 606.2,425.3 603.9,424.3 601.6,423.3 599.4,422.2 597.1,421.1 594.9,420 592.6,418.8 590.4,417.6 588.3,416.4 586.1,415.1 583.9,413.8 581.8,412.5 579.7,411.2 577.5,409.8 575.5,408.4 573.4,407 571.4,405.5 569.3,404 567.4,402.5 565.4,400.9 563.5,399.3 561.6,397.7 559.6,396.1 557.7,394.4 555.9,392.8 554,391.1 552.2,389.4 550.3,387.7 548.5,386 546.8,384.2 545,382.5 543.2,380.7 541.5,378.9 539.7,377.2 537.9,375.4 536.2,373.6 534.4,371.9 532.7,370.1 530.9,368.3 529.1,366.6 527.3,364.8 525.6,363.1 523.8,361.4 521.9,359.7 520.1,358.1 518.2,356.5 516.2,355 514.2,353.6 512.1,352.2 510.1,350.8 508,349.5 505.9,348.2 503.8,347 501.8,345.8 499.8,344.6 497.9,343.6 496.1,342.7 492.8,341.1 489.8,339.9 487,338.9 484.2,338 481.4,337 478.6,336.1 475.9,335.2 473.1,334.3 470.2,333.5 467.4,332.7 464.5,332 461.6,331.4 458.7,330.8 455.8,330.3 452.9,329.7 449.9,329.2 447,328.6 444.1,328.1 441.1,327.6 438.2,327.2 435.2,326.9 432.3,326.5 429.3,326.2 426.3,325.9 423.4,325.7 420.4,325.4 417.5,325.1 414.5,324.8 411.6,324.6 408.6,324.4 405.7,324.3 402.7,324.1M815,531.3 811.5,528.7 808.6,526.4 806.8,525.1 805,523.7 803,522.2 801.1,520.7 799.1,519.2 797.1,517.7 795.1,516.2 793.2,514.6 791.2,513.1 789.2,511.5 787.3,510 785.3,508.4 783.3,506.8 781.3,505.3 779.3,503.8 777.3,502.4 775.2,500.9 773.1,499.6 771,498.2 768.9,496.9 766.7,495.6 764.5,494.3 762.3,493.1 760.2,491.9 758,490.6 755.8,489.4 753.5,488.2 751.3,487.1 749.1,485.9 746.9,484.7 744.6,483.6 742.4,482.5 740.2,481.3 737.9,480.2 735.7,479.1 733.4,478 731.2,476.9 728.9,475.9 726.6,474.8 724.4,473.8 722.1,472.8 719.8,471.8 717.5,470.8 715.2,469.9 712.9,468.9 710.6,467.9 708.3,467 706,466 703.7,465 701.4,464.1 699.1,463.1 696.8,462.2 694.5,461.3 692.1,460.3 689.8,459.4 687.5,458.5 685.2,457.6 682.9,456.7 680.5,455.9 678.2,455 675.9,454.1 673.5,453.2 671.2,452.3 668.9,451.5 666.5,450.6 664.2,449.7 661.9,448.8 659.6,447.8 657.2,446.9 654.9,446 652.6,445 650.3,444.1 648,443.1 645.7,442.2 643.4,441.2 641.1,440.2 638.8,439.3 636.5,438.3 634.1,437.4 631.8,436.4 629.5,435.4 627.2,434.5 624.9,433.5 622.6,432.5 620.3,431.5 618,430.5 615.7,429.5 613.4,428.5 611.1,427.5 608.8,426.5 606.5,425.5 604.2,424.5 601.9,423.5 599.7,422.5 597.4,421.4 595.2,420.3 592.9,419.2 590.7,418 588.6,416.8 586.4,415.6 584.2,414.3 582.1,413 580,411.7 577.9,410.3 575.8,409 573.7,407.6 571.7,406.1 569.7,404.7 567.7,403.1 565.8,401.6 563.8,400 561.9,398.4 560,396.8 558.1,395.2 556.2,393.6 554.4,391.9 552.5,390.2 550.7,388.5 548.9,386.8 547.1,385.1 545.3,383.3 543.5,381.6 541.7,379.8 540,378 538.2,376.3 536.4,374.5 534.6,372.7 532.9,371 531.1,369.2 529.3,367.4 527.5,365.7 525.7,363.9 523.9,362.2 522,360.5 520.1,358.9 518.2,357.3 516.2,355.8 514.2,354.3 512.1,352.9 510,351.6 507.8,350.3 505.7,349 503.6,347.7 501.5,346.5 499.5,345.4 497.6,344.4 495.8,343.5 492.4,342 489.3,340.8 486.5,339.8 483.7,338.9 480.9,338.1 478.1,337.2 475.3,336.4 472.5,335.5 469.7,334.7 466.9,334 464,333.4 461.2,332.8 458.3,332.3 455.5,331.8 452.6,331.3 449.8,330.8 446.9,330.3 444.1,329.8 441.2,329.3 438.4,328.9 435.5,328.6 432.6,328.3 429.8,328 426.9,327.8 424,327.5 421.1,327.3 418.2,327 415.4,326.8 412.5,326.5 409.6,326.3 406.7,326.1 403.8,326 400.9,325.9 397.9,325.8 395,325.7 392.1,325.6 389.2,325.5 386.3,325.4 383.4,325.3M815,531.3 811.4,528.6 808.4,526.3 806.6,525 804.7,523.6 802.7,522.1 800.7,520.6 798.7,519.1 796.7,517.6 794.8,516.1 792.8,514.6 790.8,513 788.9,511.5 786.9,509.9 784.9,508.4 783,506.8 781,505.3 779,503.9 777,502.4 775,501 772.9,499.6 770.8,498.3 768.7,497 766.6,495.8 764.4,494.5 762.3,493.3 760.1,492.1 757.9,490.9 755.7,489.7 753.6,488.5 751.4,487.3 749.2,486.2 747,485 744.7,483.9 742.5,482.8 740.3,481.7 738.1,480.6 735.8,479.5 733.6,478.4 731.3,477.3 729.1,476.3 726.8,475.2 724.5,474.2 722.2,473.2 719.9,472.3 717.6,471.3 715.3,470.3 713,469.4 710.7,468.4 708.3,467.5 706,466.5 703.7,465.6 701.4,464.7 699,463.7 696.7,462.8 694.4,461.9 692,461 689.7,460.1 687.3,459.3 684.9,458.4 682.6,457.5 680.2,456.7 677.9,455.8 675.5,455 673.1,454.1 670.8,453.3 668.4,452.4 666,451.6 663.7,450.7 661.3,449.8 659,448.9 656.7,448 654.3,447.1 652,446.2 649.7,445.2 647.3,444.3 645,443.3 642.7,442.4 640.4,441.5 638,440.5 635.7,439.5 633.4,438.6 631.1,437.6 628.8,436.6 626.4,435.7 624.1,434.7 621.8,433.7 619.5,432.7 617.2,431.7 614.9,430.7 612.6,429.7 610.3,428.7 608,427.7 605.8,426.6 603.5,425.6 601.2,424.6 598.9,423.5 596.7,422.4 594.4,421.3 592.2,420.2 590.1,419 587.9,417.7 585.8,416.4 583.6,415.1 581.5,413.8 579.4,412.5 577.4,411.1 575.3,409.7 573.3,408.3 571.3,406.8 569.3,405.3 567.3,403.8 565.4,402.2 563.5,400.6 561.6,399.1 559.7,397.5 557.8,395.8 556,394.2 554.1,392.6 552.3,390.9 550.5,389.2 548.7,387.5 546.9,385.8 545.2,384 543.4,382.3 541.7,380.6 539.9,378.8 538.2,377.1 536.4,375.3 534.7,373.6 532.9,371.8 531.2,370 529.4,368.3 527.7,366.5 525.9,364.8 524.1,363.1 522.3,361.4 520.5,359.8 518.6,358.2 516.7,356.6 514.7,355.1 512.7,353.7 510.6,352.3 508.6,351 506.5,349.7 504.4,348.4 502.4,347.1 500.5,346 498.6,344.9 496.8,343.9 493.6,342.3 490.7,341.1 487.9,340 485.2,339 482.5,338 479.8,337.1 477.1,336.1 474.4,335.2 471.6,334.3 468.9,333.6 466.1,332.9 463.2,332.4 460.4,331.9 457.5,331.4 454.7,330.9 451.8,330.5 449,330.1 446.1,329.6 443.3,329.2 440.4,328.9 437.5,328.7 434.6,328.5 431.7,328.4 428.8,328.2 425.9,328 423,327.9 420,327.7 417.1,327.5 414.1,327.4 411.2,327.2 408.2,327.1 405.3,327.1 402.3,327.1 399.4,327.1 396.4,327.1 393.4,327.1 390.5,327.1 387.5,327.1 386.1,327.2M815,531.3 811.4,528.7 808.4,526.5 806.6,525.2 804.7,523.8 802.8,522.4 800.8,521 798.8,519.5 796.8,518 794.8,516.5 792.8,515 790.8,513.5 788.8,511.9 786.9,510.4 784.9,508.9 782.9,507.4 780.9,505.9 778.9,504.4 776.9,503 774.8,501.6 772.7,500.2 770.6,498.9 768.5,497.6 766.4,496.4 764.2,495.1 762,493.9 759.8,492.7 757.7,491.5 755.5,490.3 753.3,489.1 751,488 748.8,486.8 746.6,485.7 744.4,484.5 742.2,483.4 739.9,482.3 737.7,481.2 735.4,480.1 733.2,479 730.9,477.9 728.7,476.9 726.4,475.8 724.1,474.8 721.8,473.8 719.5,472.8 717.2,471.8 714.9,470.9 712.6,469.9 710.2,469 707.9,468 705.6,467 703.3,466.1 701,465.1 698.6,464.2 696.3,463.2 694,462.3 691.6,461.4 689.3,460.4 687,459.5 684.6,458.7 682.3,457.8 679.9,456.9 677.6,456 675.2,455.1 672.8,454.2 670.5,453.4 668.1,452.5 665.8,451.6 663.5,450.7 661.1,449.8 658.8,448.8 656.5,447.9 654.1,447 651.8,446 649.5,445.1 647.2,444.1 644.9,443.2 642.5,442.2 640.2,441.2 637.9,440.3 635.6,439.3 633.3,438.4 631,437.4 628.7,436.4 626.4,435.5 624.1,434.5 621.8,433.5 619.5,432.5 617.2,431.5 614.9,430.6 612.6,429.6 610.3,428.6 608.1,427.6 605.8,426.6 603.5,425.6 601.2,424.6 599,423.6 596.7,422.5 594.5,421.4 592.3,420.3 590.1,419.1 588,417.9 585.9,416.7 583.7,415.4 581.6,414.1 579.5,412.7 577.5,411.4 575.4,410 573.4,408.6 571.4,407.2 569.4,405.7 567.5,404.2 565.5,402.6 563.6,401.1 561.7,399.5 559.8,397.9 557.9,396.3 556,394.7 554.2,393 552.3,391.4 550.5,389.7 548.7,388 546.9,386.3 545.1,384.6 543.4,382.8 541.6,381.1 539.8,379.3 538,377.6 536.3,375.8 534.5,374.1 532.7,372.4 531,370.6 529.2,368.9 527.4,367.1 525.6,365.4 523.8,363.7 522,362 520.1,360.4 518.2,358.8 516.2,357.3 514.2,355.8 512.2,354.4 510.1,353.1 508,351.8 505.9,350.5 503.9,349.2 501.8,348 499.9,346.9 498,345.8 496.2,344.9 492.9,343.4 490,342.2 487.2,341.2 484.5,340.3 481.7,339.4 479,338.5 476.3,337.6 473.6,336.8 470.9,335.9 468.1,335.2 465.3,334.5 462.5,333.9 459.7,333.4 456.9,332.9 454,332.3 451.2,331.8 448.3,331.3 445.5,330.7 442.6,330.2 439.8,329.8 436.9,329.5 434,329.3 431.1,329.1 428.2,328.9 425.2,328.7 422.3,328.6 419.4,328.4 416.5,328.3 413.5,328.2 410.6,328.2 407.7,328.2 404.8,328.3 401.9,328.4 399,328.6 396.1,328.7 393.2,328.9 391.7,329M815,531.3 811.5,528.8 808.4,526.6 806.7,525.3 804.8,524 802.8,522.6 800.8,521.1 798.8,519.7 796.8,518.2 794.9,516.7 792.9,515.2 790.9,513.7 788.9,512.1 787,510.6 785,509.1 783,507.6 781.1,506.1 779.1,504.6 777,503.2 775,501.8 772.9,500.4 770.8,499.1 768.6,497.8 766.5,496.6 764.3,495.3 762.2,494.1 760,492.9 757.8,491.7 755.6,490.5 753.4,489.3 751.2,488.2 749,487 746.7,485.9 744.5,484.7 742.3,483.6 740.1,482.5 737.8,481.4 735.6,480.3 733.3,479.2 731.1,478.1 728.8,477.1 726.5,476 724.3,475 722,474 719.7,473 717.4,472.1 715.1,471.1 712.8,470.2 710.4,469.2 708.1,468.3 705.8,467.3 703.5,466.4 701.2,465.4 698.9,464.5 696.5,463.6 694.2,462.7 691.9,461.8 689.6,460.9 687.2,460 684.9,459.1 682.5,458.3 680.2,457.4 677.8,456.6 675.5,455.7 673.1,454.9 670.8,454 668.4,453.2 666.1,452.3 663.7,451.4 661.4,450.6 659,449.7 656.7,448.8 654.4,447.9 652,447 649.7,446.1 647.4,445.2 645.1,444.2 642.8,443.3 640.4,442.4 638.1,441.5 635.8,440.6 633.5,439.6 631.2,438.7 628.9,437.8 626.6,436.8 624.2,435.9 621.9,434.9 619.6,434 617.3,433 615.1,432 612.8,431.1 610.5,430.1 608.2,429.1 605.9,428.1 603.6,427.1 601.3,426.1 599.1,425.1 596.8,424 594.6,422.9 592.4,421.8 590.2,420.6 588,419.3 585.9,418 583.8,416.7 581.7,415.4 579.6,414 577.6,412.6 575.5,411.2 573.5,409.8 571.5,408.3 569.5,406.8 567.6,405.2 565.6,403.7 563.7,402.1 561.8,400.5 559.9,398.8 558.1,397.2 556.2,395.5 554.4,393.9 552.5,392.2 550.7,390.5 548.9,388.7 547.2,387 545.4,385.3 543.6,383.5 541.9,381.7 540.1,380 538.4,378.2 536.6,376.4 534.9,374.7 533.1,372.9 531.4,371.1 529.6,369.4 527.9,367.6 526.1,365.9 524.3,364.1 522.5,362.4 520.7,360.8 518.8,359.2 516.8,357.7 514.9,356.2 512.8,354.7 510.8,353.4 508.7,352 506.6,350.7 504.6,349.4 502.6,348.2 500.6,347 498.8,345.9 497,345 493.7,343.4 490.7,342.2 487.9,341.1 485.2,340.2 482.4,339.2 479.7,338.3 477,337.4 474.2,336.5 471.4,335.7 468.6,334.9 465.8,334.3 463,333.8 460.1,333.3 457.2,332.8 454.3,332.4 451.4,332 448.6,331.5 445.7,331.1 442.7,330.7 439.8,330.5 436.9,330.3 433.9,330.1 431,330.1 428,330 425.1,329.9 422.1,329.8 419.2,329.7 416.2,329.7 413.3,329.6 410.3,329.6 407.4,329.6 404.5,329.7 401.5,329.8 398.6,330M815,531.3 811.4,528.8 808.4,526.6 806.6,525.4 804.7,524 802.7,522.6 800.7,521.2 798.7,519.8 796.7,518.3 794.7,516.8 792.7,515.3 790.7,513.8 788.7,512.3 786.8,510.8 784.8,509.3 782.8,507.8 780.9,506.3 778.8,504.8 776.8,503.4 774.8,502.1 772.7,500.7 770.6,499.4 768.4,498.2 766.3,496.9 764.2,495.7 762,494.5 759.8,493.3 757.6,492.2 755.5,491 753.3,489.9 751.1,488.7 748.9,487.6 746.7,486.5 744.5,485.4 742.3,484.3 740,483.2 737.8,482.1 735.6,481 733.4,479.9 731.1,478.8 728.9,477.8 726.6,476.8 724.4,475.8 722.1,474.8 719.8,473.8 717.5,472.9 715.2,471.9 712.9,471 710.6,470 708.3,469.1 706,468.2 703.7,467.2 701.4,466.3 699.1,465.4 696.7,464.4 694.4,463.5 692.1,462.6 689.8,461.7 687.4,460.9 685.1,460 682.8,459.1 680.4,458.3 678.1,457.4 675.7,456.5 673.4,455.7 671.1,454.8 668.7,454 666.4,453.1 664.1,452.2 661.7,451.4 659.4,450.5 657.1,449.6 654.8,448.7 652.4,447.8 650.1,446.9 647.8,446 645.5,445.1 643.2,444.2 640.9,443.2 638.6,442.3 636.3,441.4 634,440.5 631.7,439.6 629.4,438.7 627.1,437.7 624.9,436.8 622.6,435.8 620.3,434.9 618,434 615.8,433 613.5,432.1 611.2,431.1 609,430.1 606.7,429.2 604.4,428.2 602.2,427.2 600,426.2 597.7,425.2 595.5,424.1 593.4,423 591.2,421.8 589.1,420.6 587,419.3 584.9,418 582.9,416.7 580.8,415.3 578.8,413.9 576.8,412.5 574.8,411.1 572.8,409.6 570.8,408.1 568.9,406.6 567,405.1 565.1,403.5 563.2,401.9 561.3,400.4 559.4,398.7 557.5,397.1 555.7,395.5 553.9,393.8 552.1,392.2 550.3,390.5 548.5,388.7 546.7,387 545,385.3 543.2,383.6 541.4,381.8 539.7,380.1 537.9,378.3 536.2,376.6 534.4,374.9 532.6,373.1 530.9,371.4 529.1,369.6 527.3,367.9 525.5,366.2 523.7,364.6 521.9,362.9 520,361.3 518,359.8 516,358.4 514,357 512,355.6 509.9,354.3 507.8,353 505.8,351.7 503.7,350.5 501.8,349.3 499.9,348.3 498.1,347.4 494.7,345.8 491.6,344.7 488.7,343.7 485.9,342.8 483,341.9 480.2,341 477.4,340.1 474.5,339.3 471.7,338.5 468.8,337.7 465.9,337.1 463,336.5 460,336 457.1,335.5 454.2,335 451.3,334.4 448.4,333.9 445.5,333.3 442.6,332.8 439.7,332.4 436.8,332 433.9,331.8 430.9,331.5 428,331.3 425.1,331.1 422.2,330.9 419.2,330.7 416.3,330.5 413.4,330.4 410.5,330.3 407.6,330.4 404.7,330.5 401.8,330.7 398.9,331 396,331.2 393.1,331.5 391.7,331.7M815,531.3 811.5,528.8 808.4,526.7 806.7,525.4 804.8,524.1 802.8,522.7 800.8,521.3 798.8,519.9 796.8,518.4 794.9,517 792.9,515.5 790.9,514 788.9,512.5 787,511 785,509.5 783,508 781.1,506.6 779.1,505.2 777,503.8 775,502.4 772.9,501.1 770.8,499.8 768.7,498.6 766.5,497.4 764.4,496.2 762.2,495 760,493.8 757.8,492.7 755.6,491.5 753.5,490.4 751.2,489.3 749,488.2 746.8,487 744.6,485.9 742.4,484.8 740.2,483.8 738,482.7 735.7,481.6 733.5,480.5 731.3,479.5 729,478.4 726.8,477.4 724.5,476.4 722.2,475.4 719.9,474.5 717.6,473.5 715.4,472.6 713.1,471.7 710.8,470.7 708.5,469.8 706.2,468.9 703.9,467.9 701.6,467 699.3,466.1 696.9,465.2 694.6,464.3 692.3,463.4 690,462.5 687.7,461.6 685.4,460.8 683,459.9 680.7,459 678.4,458.2 676,457.3 673.7,456.5 671.4,455.6 669.1,454.7 666.7,453.9 664.4,453 662.1,452.1 659.8,451.3 657.4,450.4 655.1,449.5 652.8,448.6 650.5,447.7 648.2,446.8 645.9,445.9 643.5,444.9 641.2,444 638.9,443.1 636.6,442.2 634.3,441.3 632,440.4 629.6,439.5 627.3,438.6 625,437.6 622.7,436.7 620.4,435.8 618.1,434.8 615.8,433.9 613.5,432.9 611.2,432 608.9,431.1 606.6,430.1 604.3,429.1 602,428.2 599.7,427.2 597.4,426.2 595.2,425.1 593,424 590.8,422.8 588.7,421.5 586.6,420.3 584.5,418.9 582.4,417.6 580.3,416.2 578.3,414.8 576.3,413.4 574.3,411.9 572.3,410.5 570.3,409 568.4,407.4 566.5,405.9 564.6,404.3 562.7,402.7 560.8,401.1 558.9,399.5 557.1,397.9 555.2,396.3 553.4,394.6 551.6,392.9 549.8,391.2 548.1,389.5 546.3,387.8 544.5,386 542.8,384.3 541.1,382.6 539.3,380.8 537.6,379.1 535.8,377.4 534.1,375.6 532.3,373.9 530.6,372.2 528.9,370.4 527.1,368.7 525.3,367 523.5,365.4 521.7,363.7 519.8,362.2 517.9,360.6 515.9,359.2 513.9,357.8 511.9,356.4 509.8,355 507.8,353.7 505.7,352.5 503.7,351.2 501.8,350.1 499.9,349 498.1,348.1 494.7,346.5 491.6,345.2 488.7,344.2 485.8,343.2 483,342.2 480.1,341.2 477.2,340.2 474.3,339.2 471.4,338.3 468.5,337.4 465.6,336.7 462.6,336.1 459.7,335.5 456.7,334.9 453.8,334.3 450.9,333.8 447.9,333.2 445,332.7 442.1,332.3 439.2,332 436.2,331.8 433.3,331.7 430.3,331.7 427.4,331.7 424.5,331.7 421.5,331.7 418.6,331.7 415.6,331.8 412.7,331.9 409.7,332.1 406.8,332.5 405.3,332.7M815,531.3 811.5,528.8 808.5,526.6 806.7,525.4 804.8,524 802.9,522.6 800.9,521.2 798.9,519.8 796.9,518.3 794.9,516.9 792.9,515.4 791,513.9 789,512.4 787,510.9 785,509.4 783.1,508 781.1,506.5 779.1,505.1 777,503.7 774.9,502.3 772.9,501 770.7,499.8 768.6,498.5 766.4,497.3 764.3,496.1 762.1,494.9 759.9,493.7 757.7,492.6 755.5,491.4 753.3,490.3 751.1,489.2 748.9,488.1 746.7,487 744.5,485.8 742.3,484.7 740.1,483.6 737.8,482.5 735.6,481.5 733.4,480.4 731.1,479.3 728.9,478.3 726.6,477.3 724.4,476.2 722.1,475.3 719.8,474.3 717.5,473.3 715.2,472.4 712.9,471.4 710.6,470.5 708.3,469.6 706,468.6 703.7,467.7 701.4,466.7 699.1,465.8 696.8,464.9 694.5,464 692.2,463 689.9,462.1 687.5,461.3 685.2,460.4 682.9,459.5 680.6,458.6 678.2,457.8 675.9,456.9 673.6,456 671.3,455.2 668.9,454.3 666.6,453.4 664.3,452.5 662,451.6 659.6,450.8 657.3,449.9 655,448.9 652.7,448 650.4,447.1 648.1,446.2 645.8,445.3 643.5,444.4 641.2,443.4 638.9,442.5 636.6,441.6 634.3,440.7 632,439.8 629.7,438.8 627.4,437.9 625.1,437 622.8,436 620.5,435.1 618.2,434.1 616,433.2 613.7,432.2 611.4,431.3 609.1,430.3 606.9,429.4 604.6,428.4 602.3,427.4 600.1,426.4 597.8,425.4 595.6,424.3 593.4,423.2 591.3,422 589.2,420.8 587.1,419.5 585,418.2 582.9,416.9 580.9,415.5 578.9,414.1 576.9,412.7 574.9,411.2 572.9,409.8 571,408.3 569,406.7 567.1,405.2 565.2,403.6 563.3,402 561.5,400.5 559.6,398.9 557.7,397.2 555.9,395.6 554.1,393.9 552.3,392.3 550.5,390.6 548.7,388.9 547,387.1 545.2,385.4 543.5,383.7 541.7,381.9 540,380.2 538.2,378.5 536.5,376.7 534.7,375 532.9,373.3 531.2,371.5 529.4,369.8 527.6,368.1 525.8,366.4 524,364.7 522.1,363.1 520.2,361.5 518.3,360 516.3,358.6 514.2,357.2 512.2,355.8 510.1,354.4 508,353.1 505.9,351.9 503.9,350.7 501.9,349.5 500,348.5 498.1,347.5 494.7,346 491.6,344.8 488.6,343.8 485.7,342.8 482.8,341.9 479.9,341 477.1,340 474.2,339.1 471.3,338.2 468.4,337.5 465.4,336.8 462.5,336.2 459.6,335.7 456.6,335.1 453.7,334.6 450.8,334.1 447.9,333.6 445,333.1 442.1,332.7 439.2,332.4 436.2,332.2 433.3,332.2 430.4,332.1 427.5,332.1 424.5,332.1 421.6,332.1 418.7,332.1 415.7,332.1 412.8,332.1 409.8,332.3 406.9,332.5 403.9,332.8 401,333.2 399.5,333.4M815,531.3 811.5,528.8 808.5,526.7 806.7,525.4 804.9,524.1 802.9,522.7 800.9,521.3 798.9,519.9 796.9,518.5 794.9,517 792.9,515.6 791,514.1 789,512.6 787,511.2 785,509.7 783.1,508.2 781.1,506.8 779,505.4 777,504 774.9,502.6 772.8,501.3 770.7,500.1 768.6,498.9 766.4,497.7 764.2,496.5 762.1,495.3 759.9,494.1 757.7,493 755.5,491.9 753.3,490.8 751.1,489.6 748.8,488.5 746.6,487.4 744.4,486.3 742.2,485.3 740,484.2 737.7,483.1 735.5,482 733.3,480.9 731.1,479.9 728.8,478.8 726.6,477.8 724.3,476.8 722,475.9 719.7,474.9 717.5,474 715.2,473.1 712.9,472.1 710.6,471.2 708.3,470.3 706,469.4 703.7,468.5 701.4,467.6 699.1,466.7 696.8,465.8 694.5,464.9 692.3,464 689.9,463.2 687.6,462.3 685.3,461.4 683,460.6 680.7,459.8 678.4,458.9 676.1,458.1 673.8,457.2 671.5,456.4 669.2,455.6 666.9,454.7 664.6,453.9 662.2,453 659.9,452.2 657.7,451.3 655.4,450.4 653.1,449.5 650.8,448.7 648.5,447.8 646.2,446.9 643.9,446 641.6,445.1 639.3,444.2 637.1,443.3 634.8,442.4 632.5,441.5 630.2,440.6 627.9,439.7 625.6,438.8 623.4,437.9 621.1,436.9 618.8,436 616.5,435.1 614.3,434.1 612,433.2 609.7,432.3 607.5,431.3 605.2,430.4 602.9,429.4 600.7,428.4 598.4,427.4 596.2,426.3 594,425.2 591.9,424 589.8,422.8 587.7,421.5 585.6,420.2 583.5,418.9 581.5,417.5 579.5,416.1 577.4,414.7 575.4,413.2 573.5,411.8 571.5,410.3 569.5,408.7 567.6,407.2 565.7,405.6 563.8,404.1 561.9,402.5 560,400.9 558.1,399.3 556.3,397.6 554.4,396 552.6,394.3 550.8,392.6 549,390.8 547.3,389.1 545.5,387.3 543.8,385.6 542,383.8 540.3,382.1 538.5,380.3 536.8,378.5 535,376.8 533.3,375 531.5,373.3 529.8,371.5 528,369.7 526.3,368 524.5,366.3 522.6,364.6 520.8,363 518.8,361.5 516.9,359.9 514.9,358.5 512.9,357.1 510.8,355.7 508.8,354.3 506.8,353 504.8,351.8 502.8,350.6 500.9,349.5 499.1,348.5 495.8,346.9 492.7,345.6 489.7,344.6 486.8,343.5 483.9,342.6 481,341.6 478.1,340.6 475.2,339.7 472.3,338.9 469.3,338.1 466.3,337.5 463.3,336.9 460.3,336.4 457.3,335.9 454.2,335.4 451.2,335 448.1,334.5 445,334.1 442,333.8 438.9,333.5 435.8,333.4 432.7,333.4 429.6,333.4 426.5,333.4 423.4,333.5 420.3,333.5 417.2,333.6 414.2,333.6 411.1,333.8 408.1,334 405.1,334.4M815,531.3 811.4,528.9 808.4,526.8 806.6,525.6 804.7,524.3 802.8,523 800.8,521.6 798.8,520.2 796.8,518.8 794.8,517.4 792.8,515.9 790.8,514.5 788.8,513 786.8,511.5 784.9,510.1 782.9,508.6 780.9,507.2 778.9,505.7 776.9,504.4 774.8,503 772.7,501.8 770.6,500.5 768.5,499.3 766.3,498.1 764.2,496.9 762,495.7 759.9,494.6 757.7,493.4 755.5,492.3 753.3,491.2 751.1,490.1 748.9,489 746.7,487.9 744.5,486.8 742.3,485.7 740.1,484.6 737.9,483.5 735.7,482.4 733.5,481.3 731.2,480.3 729,479.2 726.8,478.2 724.5,477.2 722.3,476.2 720,475.3 717.7,474.3 715.4,473.4 713.1,472.4 710.8,471.5 708.5,470.6 706.2,469.6 703.9,468.7 701.6,467.8 699.3,466.9 697,465.9 694.7,465 692.4,464.2 690.1,463.3 687.8,462.4 685.5,461.5 683.1,460.7 680.8,459.8 678.5,459 676.1,458.1 673.8,457.3 671.5,456.4 669.2,455.6 666.8,454.7 664.5,453.9 662.2,453 659.9,452.2 657.6,451.3 655.3,450.4 653,449.5 650.7,448.6 648.4,447.7 646.1,446.9 643.8,446 641.5,445.1 639.2,444.2 636.9,443.3 634.6,442.4 632.4,441.5 630.1,440.6 627.8,439.7 625.5,438.8 623.2,437.9 621,437 618.7,436.1 616.4,435.2 614.2,434.2 611.9,433.3 609.6,432.4 607.4,431.5 605.1,430.5 602.8,429.6 600.6,428.6 598.4,427.6 596.2,426.6 594,425.5 591.8,424.3 589.7,423.1 587.6,421.9 585.5,420.6 583.5,419.3 581.4,418 579.4,416.6 577.4,415.2 575.4,413.8 573.4,412.4 571.5,410.9 569.5,409.4 567.6,407.9 565.7,406.4 563.8,404.8 561.9,403.3 560.1,401.7 558.2,400.1 556.4,398.4 554.6,396.8 552.9,395.1 551.1,393.4 549.4,391.7 547.7,389.9 546,388.2 544.3,386.4 542.6,384.6 540.9,382.9 539.3,381.1 537.6,379.3 535.9,377.5 534.3,375.8 532.6,374 530.9,372.2 529.2,370.4 527.5,368.7 525.8,367 524,365.3 522.2,363.7 520.4,362.1 518.5,360.6 516.5,359.2 514.6,357.7 512.6,356.4 510.6,355 508.6,353.7 506.6,352.5 504.6,351.3 502.8,350.2 501,349.3 497.6,347.7 494.4,346.4 491.4,345.4 488.5,344.4 485.5,343.4 482.6,342.5 479.6,341.5 476.7,340.6 473.7,339.8 470.7,339 467.7,338.4 464.7,337.8 461.7,337.2 458.6,336.7 455.6,336.1 452.6,335.6 449.5,335.1 446.4,334.6 443.4,334.2 440.3,333.9 437.2,333.7 434.1,333.6 430.9,333.5 427.8,333.5 424.7,333.4 421.5,333.4 418.4,333.4 415.3,333.5 412.1,333.6 409,333.8 405.9,334.1 402.9,334.6 399.8,335.1 396.7,335.6M815,531.3 811.4,528.9 808.4,526.8 806.6,525.6 804.7,524.3 802.7,523 800.7,521.6 798.7,520.2 796.7,518.8 794.7,517.4 792.7,516 790.7,514.6 788.8,513.1 786.8,511.7 784.8,510.2 782.8,508.8 780.8,507.4 778.8,506 776.8,504.6 774.7,503.3 772.6,502.1 770.5,500.9 768.4,499.7 766.3,498.5 764.1,497.3 761.9,496.2 759.8,495.1 757.6,494 755.4,492.9 753.2,491.8 751,490.7 748.8,489.7 746.6,488.6 744.4,487.5 742.2,486.5 740.1,485.4 737.9,484.4 735.7,483.3 733.5,482.3 731.2,481.2 729,480.2 726.8,479.2 724.6,478.2 722.3,477.3 720.1,476.4 717.8,475.4 715.5,474.5 713.3,473.6 711,472.7 708.7,471.8 706.5,471 704.2,470.1 701.9,469.2 699.6,468.3 697.3,467.4 695.1,466.5 692.8,465.7 690.5,464.8 688.2,464 685.9,463.2 683.5,462.4 681.2,461.6 678.9,460.8 676.6,460 674.3,459.2 672,458.3 669.6,457.5 667.3,456.7 665,455.9 662.7,455.1 660.4,454.2 658,453.4 655.7,452.5 653.4,451.7 651.1,450.8 648.8,449.9 646.5,449.1 644.2,448.2 641.8,447.3 639.5,446.5 637.2,445.6 634.9,444.7 632.6,443.8 630.3,442.9 628,442.1 625.7,441.2 623.3,440.3 621,439.4 618.7,438.5 616.4,437.6 614.1,436.7 611.8,435.8 609.5,434.9 607.2,434 604.9,433.1 602.6,432.2 600.3,431.2 598,430.3 595.8,429.3 593.5,428.3 591.3,427.2 589.1,426 587,424.9 584.8,423.7 582.7,422.4 580.6,421.2 578.5,419.9 576.4,418.6 574.3,417.3 572.2,415.9 570.2,414.6 568.2,413.1 566.2,411.7 564.3,410.2 562.4,408.6 560.4,407.1 558.5,405.5 556.7,404 554.8,402.3 553,400.7 551.2,399 549.5,397.3 547.8,395.5 546.1,393.7 544.5,391.9 542.8,390.1 541.2,388.3 539.6,386.4 538,384.6 536.4,382.7 534.9,380.8 533.3,379 531.7,377.1 530.2,375.2 528.6,373.4 527,371.6 525.3,369.8 523.7,368 521.9,366.3 520.2,364.7 518.4,363.1 516.5,361.5 514.6,360 512.7,358.6 510.8,357.1 508.8,355.8 506.9,354.5 505,353.3 503.1,352.1 501.4,351.1 498,349.4 494.8,348 491.7,346.9 488.7,345.8 485.6,344.7 482.6,343.7 479.5,342.7 476.4,341.7 473.3,340.8 470.2,340 467,339.3 463.9,338.6 460.7,338 457.6,337.4 454.4,336.8 451.3,336.3 448.2,335.8 445.1,335.3 441.9,334.9 438.8,334.6 435.7,334.4 432.6,334.4 429.5,334.4 426.3,334.4 423.2,334.5 420.1,334.6 417,334.8 413.8,335.1 410.7,335.4 407.6,335.8 404.5,336.3 401.4,337 398.3,337.7 395.2,338.5 392.1,339.3M815,531.3 811.5,529 808.5,527 806.7,525.8 804.8,524.6 802.9,523.3 800.9,521.9 798.9,520.5 796.9,519.2 794.9,517.8 792.9,516.3 790.9,514.9 789,513.5 787,512 785,510.6 783.1,509.1 781.1,507.7 779.1,506.3 777.1,504.9 775,503.6 772.9,502.3 770.8,501.1 768.7,499.9 766.6,498.7 764.4,497.5 762.3,496.4 760.1,495.2 757.9,494.1 755.8,493 753.6,491.9 751.4,490.8 749.2,489.7 747,488.7 744.8,487.6 742.6,486.5 740.4,485.4 738.2,484.4 736,483.3 733.8,482.2 731.5,481.2 729.3,480.2 727.1,479.1 724.8,478.2 722.6,477.2 720.3,476.3 718,475.3 715.8,474.4 713.5,473.5 711.2,472.6 708.9,471.7 706.6,470.8 704.3,469.9 702,469 699.7,468.1 697.4,467.3 695.1,466.4 692.8,465.5 690.5,464.7 688.2,463.9 685.9,463.1 683.6,462.3 681.2,461.5 678.9,460.7 676.6,459.9 674.2,459.1 671.9,458.3 669.6,457.5 667.3,456.7 664.9,455.9 662.6,455.1 660.3,454.3 658,453.5 655.7,452.6 653.4,451.8 651.1,451 648.7,450.1 646.4,449.3 644.1,448.5 641.8,447.6 639.5,446.8 637.2,446 634.9,445.1 632.6,444.3 630.3,443.4 628,442.6 625.8,441.7 623.5,440.9 621.2,440 618.9,439.2 616.6,438.3 614.3,437.5 612,436.6 609.7,435.7 607.4,434.9 605.2,434 602.9,433.1 600.6,432.2 598.3,431.3 596.1,430.3 593.9,429.3 591.7,428.3 589.5,427.2 587.3,426 585.2,424.9 583.1,423.7 580.9,422.4 578.8,421.2 576.7,419.9 574.7,418.6 572.6,417.3 570.6,415.9 568.6,414.5 566.6,413.1 564.6,411.6 562.7,410.1 560.8,408.6 558.9,407 557,405.5 555.2,403.8 553.4,402.2 551.6,400.5 549.9,398.8 548.2,397 546.5,395.2 544.9,393.4 543.3,391.6 541.7,389.7 540.1,387.9 538.5,386 537,384.1 535.5,382.3 534,380.4 532.4,378.5 530.9,376.6 529.3,374.7 527.8,372.9 526.2,371.1 524.5,369.3 522.9,367.6 521.1,365.9 519.4,364.2 517.5,362.7 515.7,361.1 513.8,359.6 511.9,358.2 509.9,356.8 508,355.4 506.1,354.2 504.3,353 502.5,351.9 499.2,350.1 496,348.7 492.9,347.4 489.9,346.2 486.9,345.1 483.9,343.9 480.8,342.9 477.8,341.9 474.7,340.9 471.6,340.1 468.5,339.3 465.4,338.5 462.2,337.8 459.1,337.2 455.9,336.6 452.8,336.1 449.6,335.6 446.4,335.1 443.2,334.6 439.9,334.3 436.7,334.1 433.4,334 430.2,334 426.9,334 423.6,334.1 420.4,334.2 417.1,334.4 413.9,334.6 410.6,334.9 407.4,335.3 404.2,335.9 401,336.5 397.8,337.3 394.7,338.1 391.5,339 388.4,339.9M815,531.3 811.4,529 808.4,527 806.6,525.8 804.7,524.6 802.8,523.3 800.8,522 798.8,520.6 796.8,519.3 794.8,517.9 792.8,516.5 790.8,515.1 788.8,513.7 786.9,512.3 784.9,510.8 783,509.4 781,508 779,506.7 776.9,505.3 774.9,504.1 772.8,502.8 770.7,501.6 768.6,500.4 766.5,499.3 764.3,498.2 762.2,497 760,495.9 757.8,494.8 755.6,493.8 753.5,492.7 751.3,491.7 749.1,490.6 746.9,489.5 744.7,488.5 742.5,487.4 740.3,486.4 738.2,485.3 736,484.3 733.8,483.2 731.6,482.2 729.4,481.2 727.2,480.2 725,479.2 722.7,478.3 720.5,477.4 718.2,476.5 716,475.6 713.7,474.7 711.4,473.8 709.2,472.9 706.9,472 704.6,471.2 702.4,470.3 700.1,469.4 697.8,468.6 695.5,467.7 693.2,466.9 690.9,466.1 688.6,465.3 686.3,464.5 684,463.7 681.7,463 679.4,462.2 677,461.5 674.7,460.7 672.4,459.9 670.1,459.2 667.7,458.4 665.4,457.7 663.1,456.9 660.8,456.1 658.5,455.3 656.1,454.5 653.8,453.7 651.5,452.9 649.2,452.1 646.9,451.3 644.6,450.5 642.3,449.6 640,448.8 637.7,448 635.4,447.2 633.1,446.4 630.7,445.5 628.4,444.7 626.1,443.9 623.8,443.1 621.5,442.3 619.2,441.4 617,440.6 614.7,439.8 612.4,439 610.1,438.2 607.8,437.3 605.5,436.5 603.2,435.7 600.9,434.8 598.7,434 596.4,433.1 594.2,432.1 591.9,431.2 589.7,430.2 587.5,429.2 585.3,428.1 583.2,427 581,425.9 578.9,424.8 576.7,423.7 574.6,422.5 572.5,421.3 570.4,420 568.4,418.7 566.4,417.4 564.4,416 562.5,414.5 560.5,413.1 558.6,411.6 556.8,410 554.9,408.5 553.1,406.8 551.4,405.1 549.7,403.4 548.1,401.6 546.5,399.8 545,397.9 543.5,396 542,394.1 540.5,392.2 539.1,390.2 537.7,388.3 536.3,386.3 534.9,384.3 533.5,382.3 532.1,380.3 530.7,378.4 529.2,376.4 527.8,374.5 526.2,372.6 524.7,370.8 523.1,369 521.4,367.3 519.7,365.6 517.9,363.9 516.1,362.4 514.3,360.9 512.4,359.4 510.6,358 508.7,356.7 506.9,355.5 505.2,354.4 501.7,352.5 498.5,351 495.3,349.7 492.2,348.4 489,347.2 485.8,346.1 482.6,345.1 479.3,344.1 476,343.3 472.7,342.5 469.4,341.7 466.1,340.9 462.8,340.3 459.4,339.6 456,339.1 452.7,338.6 449.3,338.1 445.9,337.6 442.5,337.2 439.2,336.9 435.8,336.7 432.4,336.6 429,336.5 425.7,336.5 422.3,336.5 419,336.6 415.7,336.8 412.3,337.2 409,337.5 405.8,338 402.5,338.6 399.3,339.3M815,531.3 811.4,529 808.4,527 806.6,525.8 804.7,524.5 802.7,523.2 800.7,521.9 798.7,520.6 796.7,519.2 794.7,517.9 792.7,516.5 790.7,515.1 788.7,513.7 786.8,512.2 784.8,510.8 782.8,509.4 780.8,508 778.8,506.7 776.8,505.3 774.8,504.1 772.7,502.8 770.6,501.6 768.5,500.4 766.3,499.3 764.2,498.2 762,497.1 759.9,496 757.7,494.9 755.5,493.8 753.3,492.8 751.1,491.7 748.9,490.7 746.8,489.6 744.6,488.6 742.4,487.5 740.2,486.5 738,485.4 735.8,484.4 733.6,483.3 731.4,482.3 729.2,481.3 727,480.3 724.8,479.3 722.6,478.4 720.3,477.5 718.1,476.6 715.8,475.7 713.5,474.8 711.3,473.9 709,473.1 706.8,472.2 704.5,471.3 702.2,470.5 700,469.6 697.7,468.8 695.4,467.9 693.2,467.1 690.9,466.3 688.6,465.5 686.3,464.8 684,464 681.7,463.3 679.4,462.5 677.1,461.8 674.8,461.1 672.5,460.3 670.2,459.6 667.9,458.8 665.6,458.1 663.3,457.3 661,456.6 658.7,455.8 656.5,455 654.2,454.3 651.9,453.5 649.6,452.7 647.3,451.9 645.1,451.1 642.8,450.3 640.5,449.5 638.2,448.7 635.9,448 633.6,447.2 631.4,446.4 629.1,445.6 626.8,444.8 624.5,444 622.2,443.2 619.9,442.5 617.6,441.7 615.3,440.9 613,440.1 610.7,439.3 608.4,438.5 606.1,437.8 603.8,437 601.5,436.2 599.2,435.3 596.9,434.5 594.6,433.6 592.3,432.7 590.1,431.8 587.8,430.8 585.6,429.8 583.4,428.8 581.1,427.8 578.9,426.7 576.7,425.6 574.5,424.5 572.4,423.4 570.3,422.1 568.2,420.9 566.1,419.5 564.1,418.2 562.1,416.8 560.1,415.3 558.1,413.8 556.2,412.3 554.4,410.7 552.6,409 550.8,407.3 549.1,405.5 547.5,403.7 545.9,401.9 544.4,399.9 542.9,398 541.4,396 540,394 538.6,392 537.2,390 535.9,387.9 534.5,385.9 533.2,383.8 531.9,381.8 530.5,379.8 529.1,377.8 527.7,375.8 526.2,373.8 524.7,371.9 523.2,370.1 521.6,368.3 519.9,366.5 518.2,364.8 516.5,363.2 514.7,361.7 512.9,360.1 511.1,358.7 509.3,357.4 507.5,356.1 505.8,355 502.4,353 499.2,351.4 496.1,350.1 493,348.7 489.8,347.5 486.7,346.3 483.5,345.2 480.3,344.2 477,343.3 473.8,342.5 470.5,341.6 467.2,340.8 463.8,340 460.5,339.4 457.1,338.8 453.7,338.2 450.3,337.7 446.9,337.3 443.5,336.9 440,336.5 436.6,336.3 433.1,336.2 429.7,336.2 426.2,336.2 422.8,336.3 419.3,336.5 415.9,336.9 412.4,337.4M815,531.3 811.4,528.9 808.3,526.9 806.5,525.7 804.6,524.4 802.6,523.1 800.6,521.8 798.5,520.4 796.5,519.1 794.5,517.7 792.5,516.3 790.5,514.9 788.5,513.5 786.5,512.1 784.5,510.7 782.5,509.3 780.5,507.9 778.5,506.6 776.5,505.3 774.4,504 772.3,502.8 770.2,501.6 768,500.4 765.9,499.3 763.7,498.2 761.6,497.1 759.4,496 757.2,494.9 755,493.9 752.8,492.8 750.6,491.8 748.4,490.7 746.2,489.7 744,488.7 741.8,487.6 739.7,486.6 737.5,485.5 735.3,484.5 733.1,483.5 730.9,482.5 728.6,481.5 726.4,480.5 724.2,479.5 722,478.6 719.7,477.7 717.5,476.8 715.2,475.9 712.9,475.1 710.7,474.2 708.4,473.3 706.1,472.5 703.9,471.6 701.6,470.8 699.3,469.9 697.1,469.1 694.8,468.2 692.5,467.4 690.2,466.6 687.9,465.8 685.6,465.1 683.3,464.3 681,463.6 678.7,462.8 676.4,462.1 674,461.3 671.7,460.6 669.4,459.8 667.1,459.1 664.8,458.3 662.5,457.6 660.1,456.8 657.8,456 655.5,455.2 653.2,454.4 650.9,453.6 648.6,452.9 646.2,452.1 643.9,451.3 641.6,450.5 639.3,449.7 636.9,449 634.6,448.2 632.3,447.4 630,446.6 627.6,445.9 625.3,445.1 623,444.3 620.7,443.5 618.3,442.8 616,442 613.7,441.2 611.3,440.4 609,439.7 606.7,438.9 604.4,438.1 602.1,437.3 599.8,436.5 597.5,435.7 595.2,434.9 592.9,434 590.6,433.1 588.4,432.2 586.1,431.3 583.9,430.4 581.6,429.4 579.4,428.4 577.2,427.4 575,426.3 572.9,425.2 570.7,424.1 568.6,422.9 566.5,421.7 564.5,420.4 562.5,419 560.5,417.6 558.5,416.2 556.6,414.7 554.7,413.1 552.9,411.5 551.2,409.9 549.5,408.1 547.8,406.4 546.3,404.5 544.7,402.6 543.3,400.7 541.8,398.7 540.4,396.7 539,394.7 537.7,392.7 536.4,390.6 535,388.6 533.7,386.5 532.4,384.4 531.1,382.4 529.8,380.3 528.4,378.3 526.9,376.3 525.4,374.4 523.9,372.5 522.3,370.6 520.7,368.8 519,367.1 517.2,365.4 515.4,363.8 513.5,362.2 511.6,360.7 509.7,359.3 507.9,358 506,356.7 504.2,355.6 502.4,354.6 498.9,352.8 495.4,351.3 492.1,350 488.7,348.7 485.4,347.5 482,346.4 478.6,345.4 475.2,344.5 471.7,343.8 468.3,343 464.9,342.4 461.4,341.8 458,341.3 454.6,340.9 451.1,340.6 447.7,340.4 444.2,340.2 440.8,340.1 437.3,340.1 433.9,340.3 430.5,340.6 427.1,340.9 423.7,341.4 420.3,341.9 417,342.5 413.7,343.3 410.5,344.2 408.8,344.7M815,531.3 811.4,529 808.4,527.1 806.6,526 804.6,524.8 802.7,523.5 800.7,522.2 798.6,520.9 796.6,519.5 794.6,518.2 792.6,516.8 790.6,515.4 788.6,514 786.6,512.6 784.6,511.2 782.6,509.8 780.6,508.4 778.6,507 776.5,505.7 774.5,504.5 772.3,503.2 770.2,502.1 768.1,500.9 765.9,499.8 763.7,498.6 761.5,497.5 759.3,496.4 757.1,495.3 754.9,494.3 752.7,493.2 750.5,492.2 748.3,491.1 746.1,490.1 743.8,489 741.6,488 739.4,487 737.2,485.9 734.9,484.9 732.7,483.9 730.4,482.9 728.2,481.9 725.9,480.9 723.7,480 721.4,479.1 719.1,478.2 716.8,477.3 714.5,476.5 712.2,475.6 709.9,474.7 707.6,473.9 705.3,473 703,472.2 700.7,471.3 698.4,470.5 696.1,469.7 693.7,468.8 691.4,468 689.1,467.2 686.8,466.4 684.4,465.7 682.1,464.9 679.8,464.2 677.4,463.4 675.1,462.6 672.8,461.9 670.4,461.1 668.1,460.4 665.8,459.6 663.4,458.8 661.1,458.1 658.8,457.3 656.5,456.5 654.2,455.7 651.9,454.9 649.6,454.1 647.3,453.3 644.9,452.5 642.6,451.7 640.3,450.9 638,450.1 635.7,449.3 633.4,448.6 631.1,447.8 628.8,447 626.5,446.3 624.2,445.5 621.8,444.7 619.5,444 617.2,443.2 614.9,442.4 612.6,441.7 610.3,440.9 608,440.2 605.7,439.4 603.4,438.6 601.1,437.9 598.8,437.1 596.5,436.3 594.2,435.5 592,434.7 589.7,433.8 587.4,433 585.2,432.1 582.9,431.2 580.7,430.2 578.5,429.3 576.3,428.3 574.1,427.3 571.9,426.3 569.7,425.2 567.6,424 565.5,422.8 563.4,421.5 561.4,420.2 559.4,418.8 557.5,417.4 555.5,415.9 553.7,414.3 551.9,412.7 550.2,411 548.5,409.3 546.9,407.5 545.4,405.6 543.9,403.7 542.4,401.7 541,399.7 539.7,397.7 538.4,395.6 537.1,393.5 535.8,391.4 534.5,389.3 533.3,387.2 532,385.1 530.7,383 529.4,380.9 528.1,378.9 526.7,376.9 525.2,374.9 523.7,373 522.2,371.1 520.5,369.2 518.9,367.5 517.1,365.8 515.3,364.1 513.5,362.5 511.6,361 509.7,359.6 507.8,358.2 505.9,357 504.1,355.8 502.2,354.8 500.4,353.8 496.9,352.1 493.4,350.6 490,349.2 486.5,347.9 483,346.7 479.4,345.6 475.8,344.7 472.2,343.8 468.6,343 464.9,342.3 461.3,341.7 457.7,341.1 454,340.7 450.3,340.4 446.7,340.2 443.1,340.1 439.4,340 435.8,340.1 432.3,340.3 428.7,340.8 425.2,341.4 421.8,342 418.4,342.8 416.7,343.2M815,531.3 811.3,529 808.2,527.1 806.4,525.9 804.4,524.7 802.4,523.4 800.4,522.1 798.3,520.8 796.2,519.4 794.2,518.1 792.2,516.7 790.1,515.3 788.1,513.8 786.1,512.4 784.1,511 782,509.6 780,508.2 777.9,506.9 775.8,505.6 773.7,504.3 771.6,503.1 769.4,501.9 767.2,500.8 765,499.6 762.8,498.5 760.6,497.4 758.4,496.3 756.2,495.2 753.9,494.2 751.7,493.1 749.5,492.1 747.2,491 745,490 742.7,488.9 740.5,487.9 738.2,486.9 736,485.9 733.7,484.9 731.4,483.9 729.1,482.9 726.8,481.9 724.5,481 722.2,480.1 719.9,479.2 717.6,478.3 715.3,477.5 712.9,476.6 710.6,475.8 708.3,474.9 705.9,474.1 703.6,473.2 701.3,472.4 698.9,471.5 696.6,470.7 694.2,469.9 691.9,469 689.6,468.2 687.2,467.4 684.9,466.6 682.5,465.8 680.1,465.1 677.8,464.3 675.4,463.5 673.1,462.7 670.7,462 668.4,461.2 666.1,460.4 663.7,459.6 661.4,458.8 659.1,458 656.7,457.2 654.4,456.4 652.1,455.5 649.8,454.7 647.5,453.9 645.2,453.1 642.8,452.3 640.5,451.6 638.2,450.8 635.8,450.1 633.5,449.3 631.1,448.6 628.8,447.9 626.5,447.1 624.1,446.4 621.8,445.7 619.4,445 617.1,444.3 614.7,443.5 612.4,442.8 610,442.1 607.7,441.3 605.3,440.6 603,439.9 600.6,439.1 598.3,438.4 595.9,437.6 593.6,436.9 591.3,436.1 588.9,435.3 586.6,434.5 584.3,433.6 581.9,432.8 579.6,431.9 577.3,431 575,430.1 572.7,429.2 570.5,428.2 568.2,427.1 566,426 563.8,424.9 561.7,423.6 559.6,422.3 557.5,421 555.5,419.6 553.5,418.1 551.6,416.5 549.8,414.9 548,413.2 546.3,411.4 544.7,409.6 543.2,407.7 541.7,405.7 540.3,403.7 538.9,401.6 537.6,399.5 536.4,397.4 535.2,395.2 534,393.1 532.8,390.9 531.6,388.7 530.4,386.5 529.2,384.4 528,382.2 526.7,380.1 525.4,378 524,376 522.5,374 521,372 519.4,370.2 517.8,368.3 516.1,366.6 514.3,364.9 512.4,363.3 510.5,361.7 508.6,360.2 506.6,358.8 504.7,357.5 502.7,356.3 500.7,355.2 498.8,354.1 496.9,353.2 495,352.3 493.1,351.5 491.3,350.7 489.4,350 485.7,348.6 481.9,347.4 478.1,346.2 474.3,345.2 470.5,344.4 466.6,343.6 462.7,342.9 458.9,342.4 455,342.1 451.1,341.8 447.2,341.6 443.3,341.6 439.5,341.8 435.6,342.2 431.8,342.7M815,531.3 811.3,529 808.1,527.1 806.2,525.9 804.2,524.7 802.2,523.4 800.1,522.1 798,520.8 795.9,519.4 793.8,518 791.8,516.7 789.7,515.3 787.7,513.8 785.6,512.4 783.6,511 781.5,509.6 779.4,508.2 777.3,506.9 775.2,505.6 773,504.4 770.8,503.2 768.6,502 766.4,500.8 764.2,499.7 762,498.6 759.7,497.5 757.5,496.4 755.2,495.3 753,494.3 750.7,493.2 748.5,492.1 746.2,491.1 743.9,490.1 741.7,489 739.4,488 737.1,487 734.8,486 732.5,485 730.2,484.1 727.9,483.1 725.6,482.2 723.3,481.3 721,480.4 718.6,479.5 716.3,478.7 713.9,477.8 711.6,477 709.2,476.2 706.9,475.3 704.5,474.5 702.2,473.7 699.9,472.8 697.5,472 695.2,471.2 692.8,470.3 690.5,469.5 688.1,468.7 685.8,467.9 683.4,467.1 681.1,466.3 678.7,465.5 676.3,464.7 674,463.9 671.6,463.1 669.3,462.3 666.9,461.5 664.6,460.7 662.2,459.8 659.9,459 657.6,458.1 655.2,457.2 652.9,456.4 650.6,455.5 648.2,454.6 645.9,453.8 643.6,452.9 641.2,452.1 638.8,451.3 636.5,450.6 634.1,449.8 631.7,449.1 629.3,448.3 626.9,447.6 624.5,446.9 622.2,446.2 619.8,445.4 617.4,444.7 615,444 612.6,443.3 610.2,442.5 607.8,441.8 605.4,441.1 603,440.4 600.6,439.7 598.2,438.9 595.8,438.2 593.4,437.5 591,436.7 588.6,436 586.2,435.2 583.9,434.4 581.5,433.6 579.1,432.9 576.7,432 574.4,431.2 572,430.4 569.7,429.5 567.4,428.6 565.1,427.6 562.9,426.5 560.7,425.4 558.5,424.1 556.4,422.9 554.3,421.5 552.2,420.1 550.2,418.7 548.3,417.1 546.5,415.5 544.8,413.7 543.2,411.9 541.6,410 540.2,408 538.8,406 537.4,403.9 536.1,401.7 534.9,399.6 533.8,397.4 532.6,395.1 531.5,392.9 530.4,390.6 529.3,388.4 528.2,386.2 527.1,383.9 525.9,381.7 524.7,379.6 523.4,377.4 522,375.3 520.6,373.3 519.1,371.3 517.5,369.4 515.8,367.6 514.1,365.8 512.3,364.1 510.4,362.5 508.5,361 506.5,359.5 504.5,358.1 502.5,356.8 500.5,355.6 498.5,354.5 496.5,353.5 494.5,352.5 492.5,351.6 490.6,350.8 488.6,350.1 486.6,349.3 484.6,348.7 482.6,348 480.7,347.4 478.6,346.8 476.6,346.3 474.6,345.9 472.6,345.4 470.5,345 468.5,344.6 466.4,344.3 464.4,344 462.3,343.7 460.2,343.4 458.2,343.2 456.1,343.1 454,343 451.9,342.9 449.8,342.9 447.8,342.9 445.7,343 443.6,343 441.5,343.2 439.4,343.3 437.3,343.5 435.3,343.8 433.2,344.1 431.2,344.5 429.1,345 427.1,345.4 425.1,345.9 423,346.5 421.1,347.1 419.1,347.8 417.2,348.5 415.3,349.4 413.5,350.3 411.7,351.3 409.9,352.3 408.1,353.4 406.4,354.5 404.7,355.6 403,356.8 401.4,358.1 399.9,359.4M815,531.3 811.2,529.1 808,527.2 806.1,526.1 804.1,524.9 802,523.7 799.9,522.4 797.8,521.1 795.7,519.8 793.6,518.4 791.5,517 789.4,515.6 787.3,514.2 785.2,512.8 783.2,511.4 781.1,510 779,508.6 776.8,507.3 774.7,506 772.5,504.8 770.3,503.6 768.1,502.4 765.8,501.2 763.6,500.1 761.3,499 759.1,497.9 756.8,496.8 754.5,495.7 752.3,494.6 750,493.5 747.7,492.5 745.4,491.4 743.1,490.4 740.8,489.3 738.5,488.3 736.2,487.3 733.9,486.3 731.5,485.4 729.2,484.4 726.9,483.5 724.5,482.6 722.2,481.7 719.8,480.8 717.4,480 715.1,479.1 712.7,478.3 710.3,477.5 707.9,476.6 705.6,475.8 703.2,474.9 700.8,474.1 698.4,473.3 696,472.5 693.7,471.6 691.3,470.8 688.9,470 686.5,469.2 684.1,468.4 681.7,467.5 679.4,466.7 677,465.9 674.6,465.1 672.2,464.3 669.8,463.5 667.4,462.7 665,461.8 662.6,461 660.3,460.1 657.9,459.3 655.5,458.4 653.2,457.5 650.8,456.6 648.4,455.7 646.1,454.8 643.7,454 641.3,453.1 638.9,452.3 636.5,451.6 634.1,450.8 631.7,450.1 629.3,449.4 626.9,448.7 624.4,448 622,447.3 619.6,446.6 617.2,445.9 614.8,445.2 612.4,444.6 609.9,443.9 607.5,443.2 605.1,442.5 602.7,441.8 600.3,441.2 597.9,440.5 595.5,439.8 593.1,439.1 590.7,438.4 588.3,437.7 586,437 583.6,436.3 581.2,435.6 578.8,434.8 576.4,434.1 574.1,433.3 571.7,432.6 569.3,431.8 567,431 564.7,430.1 562.4,429.1 560.2,428 557.9,426.9 555.8,425.7 553.6,424.5 551.5,423.2 549.5,421.8 547.5,420.3 545.6,418.7 543.9,417 542.2,415.2 540.6,413.3 539.1,411.3 537.7,409.3 536.4,407.1 535.1,405 533.9,402.7 532.8,400.5 531.7,398.2 530.7,395.9 529.7,393.6 528.7,391.3 527.7,388.9 526.6,386.6 525.6,384.4 524.5,382.1 523.3,379.9 522,377.7 520.7,375.6 519.3,373.5 517.9,371.5 516.3,369.5 514.7,367.7 513,365.9 511.2,364.2 509.3,362.5 507.4,361 505.4,359.5 503.4,358.2 501.3,356.9 499.3,355.7 497.2,354.6 495.2,353.6 493.2,352.7 491.2,351.8 489.2,351.1 487.2,350.3 485.2,349.6 483.2,349 481.2,348.4 479.2,347.8 477.1,347.3 475.1,346.8 473,346.4 471,346 468.9,345.6 466.8,345.3 464.7,345 462.6,344.7 460.5,344.4 458.4,344.2 456.3,344.1 454.2,344 452.1,343.9 450,343.9 447.9,344 445.8,344 443.7,344.1 441.6,344.2 439.5,344.4 437.4,344.6 435.3,344.9 433.2,345.3M815,531.3 811.2,529.1 807.9,527.2 806,526.1 803.9,525 801.8,523.7 799.7,522.5 797.6,521.2 795.4,519.9 793.3,518.5 791.2,517.2 789.1,515.8 787.1,514.4 785,513 782.9,511.6 780.8,510.2 778.7,508.9 776.6,507.6 774.5,506.3 772.3,505.1 770.1,504 767.9,502.8 765.6,501.7 763.4,500.6 761.1,499.5 758.9,498.4 756.6,497.3 754.4,496.2 752.1,495.1 749.9,494.1 747.6,493 745.3,492 743,491 740.7,490 738.4,489 736.1,488 733.8,487.1 731.5,486.1 729.1,485.2 726.8,484.3 724.4,483.4 722.1,482.5 719.7,481.7 717.4,480.8 715,480 712.6,479.1 710.3,478.3 707.9,477.5 705.5,476.6 703.2,475.8 700.8,475 698.4,474.1 696.1,473.3 693.7,472.5 691.3,471.7 688.9,470.9 686.6,470 684.2,469.2 681.8,468.4 679.5,467.6 677.1,466.8 674.7,466 672.4,465.2 670,464.4 667.6,463.6 665.3,462.8 662.9,462 660.6,461.1 658.2,460.3 655.9,459.4 653.6,458.5 651.2,457.7 648.9,456.8 646.6,455.9 644.2,455.1 641.9,454.3 639.5,453.5 637.1,452.8 634.7,452 632.4,451.3 630,450.7 627.6,450 625.2,449.3 622.7,448.6 620.3,447.9 617.9,447.3 615.5,446.6 613.1,446 610.7,445.3 608.3,444.6 605.8,444 603.4,443.3 601,442.6 598.5,442 596.1,441.3 593.7,440.6 591.2,440 588.8,439.3 586.4,438.6 583.9,437.9 581.5,437.2 579.1,436.5 576.6,435.8 574.2,435.1 571.8,434.3 569.4,433.6 567,432.8 564.6,431.9 562.2,431 559.9,430 557.7,428.9 555.4,427.8 553.2,426.5 551,425.3 548.9,423.9 546.9,422.5 545,421 543.2,419.4 541.4,417.6 539.8,415.7 538.3,413.8 536.9,411.8 535.6,409.7 534.3,407.6 533.1,405.4 532,403.1 531,400.9 530,398.6 529.1,396.3 528.2,394 527.2,391.7 526.3,389.4 525.3,387.1 524.2,384.9 523.1,382.7 522,380.5 520.8,378.4 519.5,376.3 518.1,374.2 516.6,372.3 515.1,370.4 513.5,368.5 511.7,366.8 510,365.1 508.1,363.5 506.2,362 504.3,360.6 502.3,359.3 500.3,358.1 498.4,357.1 496.5,356.1 494.6,355.2 492.7,354.4 489.1,353 485.4,351.7 481.8,350.6 478.1,349.6 474.4,348.8 470.6,348.1 466.8,347.5 463.1,347 459.3,346.6 455.5,346.5 451.7,346.4 447.9,346.4 444.1,346.7 440.3,347.2 436.6,347.9 432.9,348.7 429.2,349.7 427.4,350.3M815,531.3 811.2,529.1 807.9,527.3 806,526.2 804,525 801.9,523.8 799.7,522.5 797.6,521.2 795.5,519.9 793.3,518.6 791.2,517.2 789.1,515.9 787,514.5 784.9,513.1 782.9,511.7 780.7,510.3 778.6,509 776.5,507.7 774.3,506.5 772.1,505.3 769.9,504.1 767.7,503 765.4,501.9 763.2,500.8 760.9,499.7 758.6,498.6 756.4,497.6 754.1,496.5 751.9,495.4 749.6,494.4 747.3,493.3 745,492.3 742.7,491.3 740.4,490.3 738.1,489.4 735.8,488.4 733.5,487.5 731.1,486.6 728.8,485.7 726.5,484.8 724.1,484 721.8,483.1 719.4,482.3 717,481.4 714.7,480.6 712.3,479.7 710,478.9 707.6,478.1 705.2,477.2 702.9,476.4 700.5,475.6 698.2,474.7 695.8,473.9 693.4,473.1 691.1,472.3 688.7,471.4 686.3,470.6 684,469.8 681.6,469 679.2,468.2 676.9,467.4 674.5,466.6 672.1,465.8 669.7,465 667.4,464.1 665,463.3 662.7,462.5 660.3,461.6 658,460.8 655.6,459.9 653.3,459 650.9,458.2 648.6,457.3 646.2,456.4 643.9,455.6 641.5,454.8 639.1,454.1 636.8,453.3 634.4,452.6 631.9,452 629.5,451.3 627.1,450.6 624.7,450 622.3,449.3 619.9,448.7 617.4,448.1 615,447.4 612.6,446.8 610.1,446.2 607.7,445.6 605.3,445 602.8,444.3 600.4,443.7 597.9,443.1 595.5,442.5 593,441.9 590.6,441.2 588.2,440.6 585.7,440 583.3,439.3 580.8,438.7 578.4,438 575.9,437.3 573.5,436.7 571,436 568.6,435.2 566.2,434.5 563.8,433.6 561.5,432.7 559.1,431.8 556.8,430.7 554.6,429.6 552.3,428.4 550.1,427.2 548,425.9 545.9,424.5 544,423 542.1,421.3 540.4,419.6 538.8,417.7 537.2,415.7 535.8,413.7 534.5,411.6 533.2,409.4 532,407.2 531,404.9 530,402.6 529,400.2 528.1,397.9 527.2,395.5 526.4,393.1 525.4,390.7 524.5,388.4 523.5,386.1 522.5,383.8 521.4,381.5 520.2,379.3 519,377.1 517.6,374.9 516.3,372.8 514.8,370.8 513.2,368.9 511.6,367 509.8,365.3 508,363.6 506.2,362 504.3,360.5 502.4,359.2 500.5,358 498.6,356.8 496.8,355.9 493.3,354.2 489.9,352.9 486.6,351.8 483.3,350.8 479.9,349.8 476.6,349.1 473.1,348.5 469.7,348 466.3,347.6 462.8,347.3 459.4,347.1 457.6,347M815,531.3 811.2,529.1 808,527.1 806.1,526 804.1,524.8 802,523.6 799.8,522.4 797.7,521.1 795.6,519.8 793.4,518.4 791.3,517.1 789.2,515.7 787.1,514.4 785,513 782.9,511.6 780.8,510.3 778.7,509 776.5,507.7 774.4,506.5 772.1,505.3 769.9,504.2 767.7,503.1 765.4,502 763.1,500.9 760.9,499.8 758.6,498.8 756.3,497.7 754,496.6 751.8,495.6 749.5,494.6 747.2,493.5 744.9,492.5 742.6,491.5 740.3,490.6 737.9,489.7 735.6,488.7 733.3,487.8 730.9,487 728.6,486.1 726.2,485.2 723.8,484.4 721.5,483.5 719.1,482.7 716.8,481.8 714.4,481 712,480.1 709.7,479.3 707.3,478.5 704.9,477.6 702.6,476.8 700.2,475.9 697.8,475.1 695.5,474.3 693.1,473.4 690.7,472.6 688.4,471.8 686,471 683.6,470.2 681.2,469.4 678.9,468.6 676.5,467.7 674.1,466.9 671.7,466.1 669.4,465.3 667,464.5 664.6,463.7 662.2,462.8 659.9,462 657.5,461.1 655.1,460.3 652.8,459.4 650.4,458.5 648.1,457.7 645.7,456.8 643.3,456 640.9,455.2 638.5,454.5 636.1,453.8 633.7,453.1 631.2,452.4 628.8,451.7 626.4,451.1 623.9,450.5 621.5,449.8 619.1,449.2 616.6,448.6 614.2,448 611.7,447.3 609.3,446.7 606.8,446.1 604.4,445.5 601.9,444.9 599.5,444.3 597,443.7 594.6,443.1 592.1,442.5 589.7,441.9 587.2,441.3 584.8,440.7 582.3,440 579.9,439.4 577.5,438.8 575,438.1 572.6,437.5 570.2,436.8 567.8,436.1 565.4,435.4 563,434.6 560.6,433.7 558.3,432.8 556,431.8 553.8,430.7 551.6,429.6 549.4,428.4 547.3,427.1 545.2,425.8 543.3,424.3 541.4,422.7 539.7,421 538.1,419.2 536.6,417.3 535.2,415.2 533.9,413.2 532.7,411 531.6,408.8 530.5,406.6 529.6,404.3 528.7,401.9 527.9,399.6 527.1,397.3 526.2,394.9 525.4,392.6 524.5,390.2 523.6,387.9 522.6,385.6 521.6,383.4 520.5,381.2 519.3,379 518.1,376.8 516.8,374.7 515.4,372.7 513.9,370.7 512.3,368.8 510.7,367.1 508.9,365.4 507.1,363.8 505.3,362.3 503.4,360.9 501.6,359.7 499.8,358.6 496.4,356.8 493.2,355.4 490.1,354.2 487.1,353.1 484.1,352.1 481,351.2 477.9,350.4 474.8,349.8 471.7,349.2 468.5,348.8 465.4,348.3 462.3,348 459.1,347.8 456,347.7 452.8,347.9 449.7,348.3 446.5,348.8 443.4,349.4 440.3,350.1 437.2,351 434.2,352 431.2,353.3 428.4,354.7 425.5,356.2M815,531.3 811.2,529.1 807.9,527.2 806,526.1 803.9,524.9 801.8,523.7 799.7,522.5 797.5,521.2 795.4,519.9 793.3,518.6 791.1,517.3 789,515.9 786.9,514.5 784.9,513.2 782.8,511.8 780.7,510.5 778.5,509.2 776.4,507.9 774.2,506.7 772,505.6 769.8,504.4 767.5,503.3 765.3,502.2 763,501.2 760.7,500.1 758.5,499 756.2,498 753.9,496.9 751.7,495.9 749.4,494.8 747.1,493.8 744.8,492.8 742.5,491.8 740.1,490.9 737.8,490 735.5,489.1 733.1,488.2 730.7,487.3 728.4,486.5 726,485.6 723.6,484.8 721.2,483.9 718.8,483.1 716.5,482.2 714.1,481.4 711.7,480.6 709.3,479.7 706.9,478.9 704.5,478.1 702.1,477.2 699.7,476.4 697.4,475.6 695,474.7 692.6,473.9 690.2,473.1 687.8,472.3 685.4,471.5 683,470.7 680.6,469.9 678.2,469.1 675.8,468.3 673.4,467.5 671,466.7 668.6,465.9 666.3,465.1 663.9,464.3 661.5,463.5 659.1,462.7 656.8,461.8 654.4,461 652,460.1 649.7,459.3 647.3,458.4 645,457.6 642.6,456.8 640.2,456 637.8,455.3 635.4,454.6 633,453.9 630.6,453.3 628.2,452.6 625.8,452 623.3,451.4 620.9,450.7 618.5,450.1 616.1,449.5 613.6,448.9 611.2,448.3 608.8,447.7 606.3,447.1 603.9,446.5 601.5,446 599,445.4 596.6,444.8 594.2,444.2 591.8,443.6 589.3,443 586.9,442.4 584.5,441.8 582,441.2 579.6,440.6 577.2,440 574.8,439.4 572.3,438.8 569.9,438.2 567.5,437.5 565.1,436.8 562.8,436 560.4,435.2 558.1,434.3 555.8,433.3 553.6,432.2 551.3,431.1 549.1,430 547,428.7 544.9,427.4 543,426 541.1,424.4 539.4,422.7 537.8,420.9 536.3,418.9 534.9,416.9 533.6,414.8 532.4,412.6 531.3,410.4 530.3,408.1 529.3,405.8 528.5,403.4 527.7,401 526.9,398.7 526.1,396.3 525.3,393.9 524.4,391.5 523.6,389.1 522.6,386.8 521.6,384.4 520.6,382.2 519.5,379.9 518.3,377.7 517,375.5 515.7,373.4 514.2,371.4 512.7,369.4 511,367.6 509.3,365.8 507.6,364.2 505.7,362.7 503.9,361.3 502.1,360.1 500.4,359 497.2,357.2 494.2,356 491.3,354.9 488.5,354 485.7,353.2 482.9,352.4 480.1,351.8 477.3,351.3 474.4,350.9 471.5,350.6 468.7,350.3 465.8,350 463,349.8 460.2,349.8 457.4,350.1 454.6,350.4 451.7,350.9 448.9,351.5 446.1,352 443.4,352.7 440.6,353.5 438,354.5 436.6,355.1" fill="none" stroke="#808080" stroke-width="1.4" stroke-linejoin="round"/>
<path d="M430.8,320.8 428.1,320.4 426.5,320.1 424.7,319.8 422.8,319.6 420.9,319.3 418.9,319 416.9,318.9 414.9,318.7 412.9,318.6 410.9,318.5 408.9,318.5 406.9,318.6 404.9,318.8 402.9,319 400.9,319.4 399,319.8 397,320.3 395.1,320.9 393.3,321.5 391.4,322.3 389.5,323 387.7,323.9 385.9,324.7 384.1,325.5 382.2,326.4 380.4,327.3 378.6,328.2 376.8,329 375,329.9 373.2,330.7 371.3,331.5 369.5,332.2 367.6,332.9 365.7,333.7 363.8,334.4 362,335.1 360.1,335.9 358.2,336.6 356.4,337.4 354.6,338.2 352.7,339.1 350.9,339.9 349.2,340.8 347.4,341.8 345.8,342.9 344.2,344.1 342.7,345.4 341.2,346.8 339.8,348.2 338.5,349.6 337.2,351.2 336.1,352.8 335,354.5 334,356.2 333.1,358 332.3,359.8 331.5,361.7 330.9,363.6 330.4,365.5 329.9,367.4 329.4,369.4 328.9,371.3 328.4,373.3 327.9,375.2 327.4,377.1 326.9,379.1 326.3,381 325.8,383 325.2,384.9 324.6,386.8 324,388.7 323.4,390.6 322.7,392.5 322.1,394.4 321.4,396.3 320.7,398.2 320,400.1 319.3,402 318.6,403.8 317.9,405.6 317.2,407.3 316.6,408.7 315.6,411.3" fill="none" stroke="#ef62ef" stroke-width="4.2" stroke-linejoin="round" stroke-linecap="butt"/>
<path d="M815,531.3 811.7,528.8 809.8,527.4 807.6,525.8 805.3,524 802.9,522.2 800.5,520.4 798.1,518.6 795.7,516.8 793.3,515 790.9,513.2 788.5,511.4 786.1,509.6 783.7,507.8 781.2,506 778.8,504.2 776.4,502.5 773.9,500.8 771.4,499.1 768.8,497.4 766.3,495.8 763.8,494.2 761.2,492.6 758.6,491.1 756,489.6 753.4,488.1 750.7,486.6 748.1,485.2 745.4,483.8 742.7,482.5 740,481.3 737.2,480.1 734.4,478.9 731.6,477.8 728.8,476.7 726,475.7 723.2,474.6 720.3,473.6 717.5,472.6 714.6,471.6 711.8,470.6 708.9,469.6 706.1,468.6 703.2,467.6 700.4,466.6 697.6,465.6 694.8,464.5 692,463.3 689.3,462.1 686.6,460.8 683.9,459.4 681.2,458.1 678.4,456.8 675.7,455.6 672.9,454.4 670.1,453.3 667.3,452.1 664.5,451.1 661.7,450.1 658.8,449.2 655.9,448.3 653,447.5 650.1,446.7 647.2,445.9 644.3,445.2 641.4,444.4 638.5,443.5 635.6,442.7 632.7,441.8 629.9,440.9 627,440 624.1,439 621.3,438.1 618.4,437.1 615.6,436.1 612.8,435 609.9,434 607.2,432.8 604.4,431.6 601.6,430.4 598.9,429.2 596.2,427.9 593.5,426.6 590.8,425.2 588.1,423.8 585.5,422.3 582.9,420.8 580.4,419.2 577.9,417.5 575.6,415.6 573.4,413.6 571.2,411.5 569.2,409.4 567.1,407.1 565.2,404.9 563.2,402.6 561.3,400.3 559.4,397.9 557.5,395.5 555.7,393.2 553.8,390.8 552,388.4 550.1,386 548.3,383.7 546.5,381.3 544.6,378.9 542.8,376.5 541,374.1 539.2,371.7 537.3,369.3 535.4,367 533.5,364.6 531.5,362.4 529.5,360.1 527.4,357.9 525.3,355.8 523.1,353.8 520.8,351.8 518.5,349.9 516.1,348.1 513.6,346.5 511,344.9 508.4,343.5 505.7,342.1 503,340.8 500.3,339.5 497.6,338.2 494.8,337 492,335.9 489.2,334.7 486.4,333.6 483.6,332.6 480.8,331.6 477.9,330.7 475,329.7 472.2,328.9 469.3,328.1 466.3,327.3 463.4,326.5 460.5,325.9 457.6,325.2 454.6,324.6 451.6,324 448.7,323.5 445.7,323 442.8,322.5 439.9,322.1 437.2,321.7 434.9,321.4 430.8,320.8" fill="none" stroke="#8b008b" stroke-width="4.2" stroke-linejoin="round" stroke-linecap="butt"/>
<path d="M815,531.3 812.3,529.1 810.7,527.9 809,526.5 807,525 805.1,523.5 803.1,521.9 801.1,520.4 799.2,518.8 797.2,517.2 795.2,515.7 793.3,514.1 791.3,512.5 789.4,510.8 787.5,509.2 785.5,507.6 783.6,505.9 781.7,504.3 779.8,502.7 777.8,501.1 775.8,499.6 773.8,498.1 771.8,496.6 769.7,495.1 767.6,493.7 765.6,492.2 763.5,490.8 761.4,489.4 759.2,488.1 757.1,486.8 754.9,485.6 752.7,484.3 750.5,483.1 748.2,481.9 746,480.8 743.7,479.7 741.5,478.6 739.2,477.6 736.8,476.6 734.5,475.7 732.2,474.7 729.8,473.8 727.5,472.8 725.1,471.9 722.8,470.9 720.5,470 718.1,469.1 715.8,468.1 713.5,467.2 711.1,466.2 708.8,465.2 706.5,464.2 704.2,463.2 701.9,462.2 699.6,461.1 697.3,460.1 695,459.1 692.6,458.1 690.3,457.1 688,456.2 685.6,455.3 683.3,454.3 680.9,453.4 678.6,452.5 676.3,451.5 673.9,450.6 671.6,449.6 669.2,448.7 666.9,447.8 664.5,446.9 662.2,446 659.8,445.1 657.4,444.3 655,443.5 652.6,442.8 650.2,442.1 647.8,441.3 645.4,440.6 643,439.9 640.5,439.2 638.1,438.4 635.7,437.7 633.3,437 630.9,436.2 628.5,435.5 626.1,434.7 623.7,433.9 621.3,433.1 618.9,432.3 616.5,431.5 614.2,430.6 611.8,429.8 609.4,428.9 607.1,428 604.7,427.1 602.4,426.1 600,425.2 597.7,424.2 595.4,423.2 593.1,422.2 590.8,421.2 588.5,420.1 586.3,419 584,417.8 581.8,416.7 579.6,415.4 577.4,414.2 575.3,412.8 573.3,411.4 571.2,409.8 569.2,408.3 567.3,406.8 565.3,405.2 563.3,403.6 561.3,402.1 559.3,400.5 557.4,398.9 555.4,397.3 553.4,395.8 551.5,394.2 549.5,392.6 547.6,390.9 545.7,389.3 543.8,387.6 541.9,385.9 540.1,384.3 538.2,382.6 536.3,380.9 534.4,379.2 532.6,377.5 530.7,375.8 528.8,374.1 526.9,372.4 525.1,370.7 523.2,369.1 521.3,367.4 519.4,365.7 517.5,364.1 515.6,362.5 513.6,360.9 511.6,359.4 509.5,357.9 507.5,356.5 505.4,355 503.3,353.6 501.2,352.2 499.1,350.8 497,349.6 494.8,348.3 492.5,347.2 490.3,346 488,344.9 485.8,343.8 483.5,342.7 481.2,341.7 478.8,340.8 476.5,339.9 474.1,339 471.7,338.2 469.3,337.4 466.9,336.6 464.5,335.9 462.1,335.2 459.7,334.5 457.2,333.9 454.8,333.3 452.3,332.7 449.9,332.2 447.4,331.7 444.9,331.3 442.4,330.8 439.9,330.5 437.4,330.1 434.9,329.8 432.4,329.6 429.9,329.4 427.4,329.3 424.9,329.2 422.4,329.2 419.9,329.3 417.3,329.4 414.8,329.6 412.3,329.8 409.8,330.1 407.3,330.4 404.9,330.9 402.4,331.4 400,332 397.5,332.7 395.1,333.4 392.7,334.2 390.3,334.9 387.9,335.7 385.5,336.5 383.1,337.3 380.7,337.9 378.3,338.5 375.8,339 373.3,339.4 370.8,339.7 368.4,340.1 365.9,340.5 363.5,341.1 361.3,341.9 359.2,343 357.3,344.4 355.6,346.1 354.2,348.1 353,350.2 351.9,352.5 351,354.8 350,357.1 349.1,359.5 348.1,361.8 347.1,364.1 346.1,366.4 345.1,368.7 344.2,371 343.4,373.4 342.8,375.7 342.4,378.2 342.2,380.6 342,383.1 341.7,385.5 341.3,387.9 340.6,390.3 339.8,392.6 338.8,394.9 337.6,397.1 336.4,399.3 335,401.4 333.5,403.4 331.9,405.2 330.1,406.9 328.2,408.4 326.2,409.8 324.1,411.1 322.2,412.3 320.5,413.3 317.5,415" fill="none" stroke="#000" stroke-width="4.2" stroke-linejoin="round" stroke-linecap="square"/>
<text x="525.8" y="278.4" font-size="24.6" font-weight="bold" text-anchor="middle" stroke="#000" stroke-width="0.6">↺</text>
<text x="539.4" y="272.4" font-size="24.6" font-weight="bold" text-anchor="middle" stroke="#000" stroke-width="0.6">↺</text>
</g>
<rect x="80.5" y="89.5" width="1541.0" height="962.7" fill="none" stroke="#000" stroke-width="1.1"/>
<text class="b" x="63.5" y="316" font-size="20.4" text-anchor="end">10°S</text>
<text class="b" x="63.5" y="544.2" font-size="20.4" text-anchor="end">20°S</text>
<text class="b" x="63.5" y="787.6" font-size="20.4" text-anchor="end">30°S</text>
<text class="b" x="300" y="1082.4" font-size="20.4" text-anchor="middle">40°E</text>
<text class="b" x="740.3" y="1082.4" font-size="20.4" text-anchor="middle">60°E</text>
<text class="b" x="1180.6" y="1082.4" font-size="20.4" text-anchor="middle">80°E</text>
<text class="b" x="1620.9" y="1082.4" font-size="20.4" text-anchor="middle">100°E</text>
<text class="b" x="850.5" y="62.8" font-size="41.67" text-anchor="middle">Sat. 25/10, 18h (LT)</text>
<text class="b" x="80" y="21.9" font-size="16.67" xml:space="preserve" style="white-space:pre">Maximum forecast trajectory duration : 10 days</text>
<text class="b" x="80" y="41.2" font-size="16.67" xml:space="preserve" style="white-space:pre">Intercept distance: 300km</text>
<text class="b" x="80" y="60.6" font-size="16.67" xml:space="preserve" style="white-space:pre">Intercept RW2 (EPS):  30km/h2</text>
<text class="b" x="80" y="80" font-size="16.67" xml:space="preserve" style="white-space:pre">Intercept RW2 (HRES): 30km/h2</text>
<text class="b" x="1205" y="21.9" font-size="16.67">Site: Rodrigues</text>
<text class="b" x="1205" y="41.2" font-size="16.67">Forecast date: Sat. 25/10, 00h (UTC)</text>
<text class="b" x="1205" y="60.6" font-size="16.67">Speed function: U10_speed_Helikite_4</text>
<text class="b" x="1205" y="80" font-size="16.67">Deployment date: Sat. 25/10, 14h (UTC)</text>
<rect x="1274.3" y="874.3" width="339.2" height="169" rx="3.3" ry="3.3" fill="#fff" fill-opacity="0.8" stroke="#000" stroke-width="1.1"/>
<line x1="1281" y1="887.3" x2="1314.6" y2="887.3" stroke="#808080" stroke-width="1.4" stroke-linecap="butt"/>
<line x1="1281" y1="910.5" x2="1314.6" y2="910.5" stroke="#ff4500" stroke-width="1.4" stroke-linecap="butt"/>
<line x1="1281" y1="933.9" x2="1314.6" y2="933.9" stroke="#808000" stroke-width="1.4" stroke-linecap="butt"/>
<line x1="1281" y1="957.4" x2="1314.6" y2="957.4" stroke="#008000" stroke-width="1.4" stroke-linecap="butt"/>
<line x1="1281" y1="980.2" x2="1314.6" y2="980.2" stroke="#8b008b" stroke-width="4.2" stroke-linecap="square"/>
<line x1="1281" y1="1003.6" x2="1314.6" y2="1003.6" stroke="#000000" stroke-width="4.2" stroke-linecap="square"/>
<text x="1327.3" y="892.9" font-size="16.67">No Interception</text>
<text x="1327.3" y="916.1" font-size="16.67">Interception from Named cyclone</text>
<text x="1327.3" y="939.5" font-size="16.67">Interception from Trochoid</text>
<text x="1327.3" y="963" font-size="16.67">Interception from both</text>
<text x="1327.3" y="985.8" font-size="16.67">HRES</text>
<text x="1327.3" y="1009.2" font-size="16.67">Analysis | 216h duration</text>
<text x="1327.3" y="1034" font-size="16.67">TC obs. for analysis duration</text>
<text class="b" x="1298" y="1034.9" font-size="17.5" text-anchor="middle" stroke="#000" stroke-width="0.7">↺</text>
<rect x="1665.5" y="910.4" width="20.0" height="29.4" fill="#dfecf7"/>
<rect x="1665.5" y="881.5" width="20.0" height="29.4" fill="#d9e8f5"/>
<rect x="1665.5" y="852.7" width="20.0" height="29.4" fill="#d3e3f3"/>
<rect x="1665.5" y="823.8" width="20.0" height="29.4" fill="#ccdff1"/>
<rect x="1665.5" y="795" width="20.0" height="29.4" fill="#c4daee"/>
<rect x="1665.5" y="766.1" width="20.0" height="29.4" fill="#b9d6ea"/>
<rect x="1665.5" y="737.3" width="20.0" height="29.4" fill="#aed1e7"/>
<rect x="1665.5" y="708.4" width="20.0" height="29.4" fill="#a3cce3"/>
<rect x="1665.5" y="679.6" width="20.0" height="29.4" fill="#97c6df"/>
<rect x="1665.5" y="650.7" width="20.0" height="29.4" fill="#89bedc"/>
<rect x="1665.5" y="621.9" width="20.0" height="29.4" fill="#7ab6d9"/>
<rect x="1665.5" y="593" width="20.0" height="29.4" fill="#6caed6"/>
<rect x="1665.5" y="564.2" width="20.0" height="29.4" fill="#60a7d2"/>
<rect x="1665.5" y="535.4" width="20.0" height="29.4" fill="#549fcd"/>
<rect x="1665.5" y="506.5" width="20.0" height="29.4" fill="#4997c9"/>
<rect x="1665.5" y="477.7" width="20.0" height="29.4" fill="#3f8fc5"/>
<rect x="1665.5" y="448.8" width="20.0" height="29.4" fill="#3686c0"/>
<rect x="1665.5" y="420" width="20.0" height="29.4" fill="#2d7dbb"/>
<rect x="1665.5" y="391.1" width="20.0" height="29.4" fill="#2373b6"/>
<rect x="1665.5" y="362.3" width="20.0" height="29.4" fill="#1c6ab0"/>
<rect x="1665.5" y="333.4" width="20.0" height="29.4" fill="#1561a9"/>
<rect x="1665.5" y="304.6" width="20.0" height="29.4" fill="#0e58a2"/>
<rect x="1665.5" y="275.7" width="20.0" height="29.4" fill="#08509b"/>
<rect x="1665.5" y="246.9" width="20.0" height="29.4" fill="#08478d"/>
<rect x="1665.5" y="218" width="20.0" height="29.4" fill="#083d7f"/>
<rect x="1665.5" y="189.2" width="20.0" height="29.4" fill="#083471"/>
<rect x="1665.5" y="189.5" width="20.0" height="750.0" fill="none" stroke="#000" stroke-width="1.1"/>
<line x1="1685.5" y1="939.5" x2="1690.9" y2="939.5" stroke="#000" stroke-width="1.1"/>
<text x="1695.2" y="944.7" font-size="13.89">0</text>
<line x1="1685.5" y1="795.3" x2="1690.9" y2="795.3" stroke="#000" stroke-width="1.1"/>
<text x="1695.2" y="800.5" font-size="13.89">10</text>
<line x1="1685.5" y1="651" x2="1690.9" y2="651" stroke="#000" stroke-width="1.1"/>
<text x="1695.2" y="656.2" font-size="13.89">20</text>
<line x1="1685.5" y1="506.8" x2="1690.9" y2="506.8" stroke="#000" stroke-width="1.1"/>
<text x="1695.2" y="512" font-size="13.89">30</text>
<line x1="1685.5" y1="362.6" x2="1690.9" y2="362.6" stroke="#000" stroke-width="1.1"/>
<text x="1695.2" y="367.8" font-size="13.89">40</text>
<line x1="1685.5" y1="218.3" x2="1690.9" y2="218.3" stroke="#000" stroke-width="1.1"/>
<text x="1695.2" y="223.5" font-size="13.89">50</text>
<text class="b" transform="translate(1737.3,624.3) rotate(-90)" font-size="19.44" text-anchor="middle">Named cyclones forecast - Number of EPS within 120km</text>
<text class="b" x="865" y="1121" font-size="16.67" text-anchor="middle">Percentage of flying ballons within a TC as a function of flight time</text>
<rect x="25.5" y="1137.5" width="1640" height="41" fill="#9e0142" stroke="#000" stroke-width="1.1"/>
<line x1="20.1" y1="1158.5" x2="25.5" y2="1158.5" stroke="#000" stroke-width="1.1"/>
<path d="M25.5,1178.5v5.4M66.5,1178.5v2.9M107.5,1178.5v2.9M148.5,1178.5v2.9M189.5,1178.5v5.4M230.5,1178.5v2.9M271.5,1178.5v2.9M312.5,1178.5v2.9M353.5,1178.5v5.4M394.5,1178.5v2.9M435.5,1178.5v2.9M476.5,1178.5v2.9M517.5,1178.5v5.4M558.5,1178.5v2.9M599.5,1178.5v2.9M640.5,1178.5v2.9M681.5,1178.5v5.4M722.5,1178.5v2.9M763.5,1178.5v2.9M804.5,1178.5v2.9M845.5,1178.5v5.4M886.5,1178.5v2.9M927.5,1178.5v2.9M968.5,1178.5v2.9M1009.5,1178.5v5.4M1050.5,1178.5v2.9M1091.5,1178.5v2.9M1132.5,1178.5v2.9M1173.5,1178.5v5.4M1214.5,1178.5v2.9M1255.5,1178.5v2.9M1296.5,1178.5v2.9M1337.5,1178.5v5.4M1378.5,1178.5v2.9M1419.5,1178.5v2.9M1460.5,1178.5v2.9M1501.5,1178.5v5.4M1542.5,1178.5v2.9M1583.5,1178.5v2.9M1624.5,1178.5v2.9M1665.5,1178.5v5.4" stroke="#000" stroke-width="1.1" fill="none"/>
<text class="b" x="25.5" y="1200" font-size="16.67" text-anchor="middle">0h</text>
<text class="b" x="189.5" y="1200" font-size="16.67" text-anchor="middle">12h</text>
<text class="b" x="353.5" y="1200" font-size="16.67" text-anchor="middle">24h</text>
<text class="b" x="517.5" y="1200" font-size="16.67" text-anchor="middle">36h</text>
<text class="b" x="681.5" y="1200" font-size="16.67" text-anchor="middle">48h</text>
<text class="b" x="845.5" y="1200" font-size="16.67" text-anchor="middle">60h</text>
<text class="b" x="1009.5" y="1200" font-size="16.67" text-anchor="middle">72h</text>
<text class="b" x="1173.5" y="1200" font-size="16.67" text-anchor="middle">84h</text>
<text class="b" x="1337.5" y="1200" font-size="16.67" text-anchor="middle">96h</text>
<text class="b" x="1501.5" y="1200" font-size="16.67" text-anchor="middle">108h</text>
<text class="b" x="1665.5" y="1200" font-size="16.67" text-anchor="middle">120h</text>
</svg></body></html>
